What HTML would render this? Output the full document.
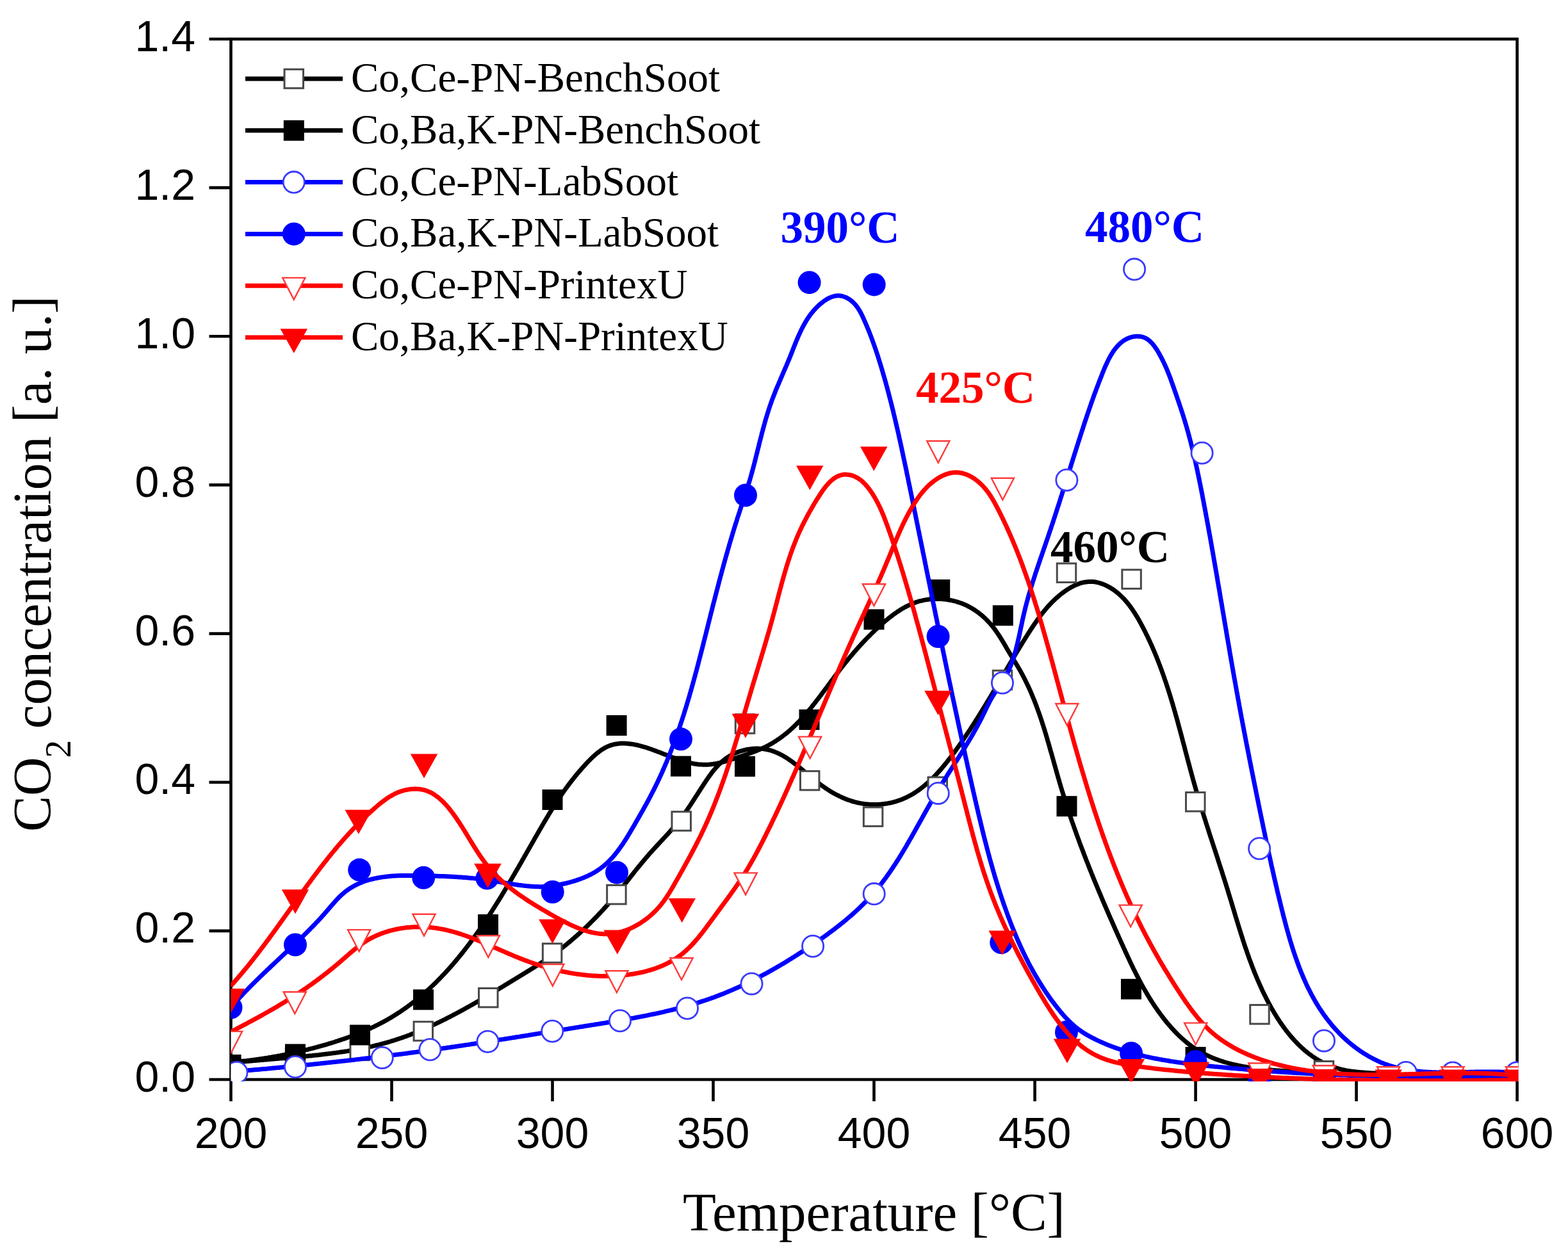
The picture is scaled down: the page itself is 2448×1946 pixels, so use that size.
<!DOCTYPE html>
<html><head><meta charset="utf-8"><title>CO2 concentration vs Temperature</title>
<style>html,body{margin:0;padding:0;background:#fff;} svg{display:block;}</style></head>
<body>
<svg xmlns="http://www.w3.org/2000/svg" width="2448" height="1946" viewBox="0 0 2448 1946">
<rect width="2448" height="1946" fill="#fff"/>
<defs><clipPath id="pc"><rect x="360.5" y="58" width="2010" height="1631"/></clipPath></defs>
<g stroke="#000" stroke-width="4.6" fill="none" stroke-linecap="butt">
<rect x="360.5" y="61.0" width="2008.1" height="1625.0"/>
<line x1="326.5" y1="1686.0" x2="360.5" y2="1686.0"/>
<line x1="326.5" y1="1453.9" x2="360.5" y2="1453.9"/>
<line x1="326.5" y1="1221.7" x2="360.5" y2="1221.7"/>
<line x1="326.5" y1="989.6" x2="360.5" y2="989.6"/>
<line x1="326.5" y1="757.4" x2="360.5" y2="757.4"/>
<line x1="326.5" y1="525.3" x2="360.5" y2="525.3"/>
<line x1="326.5" y1="293.1" x2="360.5" y2="293.1"/>
<line x1="326.5" y1="61.0" x2="360.5" y2="61.0"/>
<line x1="360.5" y1="1686.0" x2="360.5" y2="1720.0"/>
<line x1="611.5" y1="1686.0" x2="611.5" y2="1720.0"/>
<line x1="862.5" y1="1686.0" x2="862.5" y2="1720.0"/>
<line x1="1113.5" y1="1686.0" x2="1113.5" y2="1720.0"/>
<line x1="1364.5" y1="1686.0" x2="1364.5" y2="1720.0"/>
<line x1="1615.6" y1="1686.0" x2="1615.6" y2="1720.0"/>
<line x1="1866.6" y1="1686.0" x2="1866.6" y2="1720.0"/>
<line x1="2117.6" y1="1686.0" x2="2117.6" y2="1720.0"/>
<line x1="2368.6" y1="1686.0" x2="2368.6" y2="1720.0"/>
</g>
<g font-family="Liberation Sans, Arial, sans-serif" font-size="68" fill="#000">
<text x="305" y="1704.5" text-anchor="end">0.0</text>
<text x="305" y="1472.4" text-anchor="end">0.2</text>
<text x="305" y="1240.2" text-anchor="end">0.4</text>
<text x="305" y="1008.1" text-anchor="end">0.6</text>
<text x="305" y="775.9" text-anchor="end">0.8</text>
<text x="305" y="543.8" text-anchor="end">1.0</text>
<text x="305" y="311.6" text-anchor="end">1.2</text>
<text x="305" y="79.5" text-anchor="end">1.4</text>
<text x="360.5" y="1792.5" text-anchor="middle">200</text>
<text x="611.5" y="1792.5" text-anchor="middle">250</text>
<text x="862.5" y="1792.5" text-anchor="middle">300</text>
<text x="1113.5" y="1792.5" text-anchor="middle">350</text>
<text x="1364.5" y="1792.5" text-anchor="middle">400</text>
<text x="1615.6" y="1792.5" text-anchor="middle">450</text>
<text x="1866.6" y="1792.5" text-anchor="middle">500</text>
<text x="2117.6" y="1792.5" text-anchor="middle">550</text>
<text x="2368.6" y="1792.5" text-anchor="middle">600</text>
</g>
<g font-family="Liberation Serif, Times New Roman, serif" font-size="85" fill="#000">
<text x="1364.5" y="1922" text-anchor="middle">Temperature [°C]</text>
<text transform="translate(78.5,0) rotate(-90)" font-size="84"><tspan x="-1299" y="0">CO</tspan><tspan x="-1183.7" y="31" font-size="56">2</tspan><tspan x="-1159.3" y="0" xml:space="preserve"> concentration [a. u.]</tspan></text>
</g>
<g clip-path="url(#pc)">
<path d="M360.8,1660.2 L362.7,1660.0 L364.5,1659.8 L366.4,1659.6 L368.3,1659.4 L370.2,1659.2 L372.1,1659.0 L373.9,1658.8 L375.8,1658.6 L377.7,1658.4 L379.6,1658.2 L381.5,1658.0 L383.4,1657.8 L385.3,1657.6 L387.2,1657.4 L389.1,1657.3 L391.0,1657.1 L392.9,1656.9 L394.8,1656.7 L396.7,1656.6 L398.6,1656.4 L400.5,1656.2 L402.4,1656.0 L404.3,1655.9 L406.2,1655.7 L408.1,1655.5 L410.0,1655.4 L411.9,1655.2 L413.9,1655.1 L415.8,1654.9 L417.7,1654.7 L419.6,1654.6 L421.5,1654.4 L423.4,1654.3 L425.4,1654.1 L427.3,1653.9 L429.2,1653.8 L431.1,1653.6 L433.0,1653.5 L435.0,1653.3 L436.9,1653.1 L438.8,1653.0 L440.7,1652.8 L442.6,1652.7 L444.6,1652.5 L446.5,1652.3 L448.4,1652.2 L450.3,1652.0 L452.3,1651.9 L454.2,1651.7 L456.1,1651.5 L458.0,1651.4 L460.0,1651.2 L461.9,1651.0 L463.8,1650.9 L465.8,1650.7 L467.7,1650.5 L469.6,1650.3 L471.5,1650.2 L473.5,1650.0 L475.4,1649.8 L477.3,1649.6 L479.2,1649.4 L481.2,1649.2 L483.1,1649.0 L485.0,1648.9 L486.9,1648.7 L488.9,1648.5 L490.8,1648.3 L492.7,1648.1 L494.6,1647.9 L496.6,1647.7 L498.5,1647.4 L500.4,1647.2 L502.3,1647.0 L504.3,1646.8 L506.2,1646.6 L508.1,1646.3 L510.0,1646.1 L511.9,1645.9 L513.8,1645.6 L515.8,1645.4 L517.7,1645.1 L519.6,1644.9 L521.5,1644.6 L523.4,1644.4 L525.3,1644.1 L527.2,1643.9 L529.2,1643.6 L531.1,1643.3 L533.0,1643.0 L534.9,1642.7 L536.8,1642.5 L538.7,1642.2 L540.6,1641.9 L542.5,1641.6 L544.4,1641.2 L546.3,1640.9 L548.2,1640.6 L550.1,1640.3 L552.0,1640.0 L553.9,1639.6 L555.8,1639.3 L557.7,1638.9 L559.5,1638.6 L561.4,1638.2 L563.3,1637.8 L565.2,1637.5 L567.1,1637.1 L569.0,1636.7 L570.8,1636.3 L572.7,1635.9 L574.6,1635.5 L576.5,1635.1 L578.3,1634.7 L580.2,1634.3 L582.1,1633.8 L583.9,1633.4 L585.8,1633.0 L587.7,1632.5 L589.5,1632.0 L591.4,1631.6 L593.2,1631.1 L595.1,1630.6 L596.9,1630.1 L598.8,1629.6 L600.6,1629.1 L602.5,1628.6 L604.3,1628.1 L606.1,1627.6 L608.0,1627.0 L609.8,1626.5 L611.6,1625.9 L613.5,1625.4 L615.3,1624.8 L617.1,1624.2 L618.9,1623.6 L620.7,1623.0 L622.6,1622.4 L624.4,1621.8 L626.2,1621.2 L628.0,1620.6 L629.8,1619.9 L631.6,1619.3 L633.4,1618.7 L635.2,1618.0 L637.0,1617.3 L638.8,1616.7 L640.6,1616.0 L642.3,1615.3 L644.1,1614.6 L645.9,1613.9 L647.7,1613.2 L649.5,1612.5 L651.3,1611.8 L653.0,1611.0 L654.8,1610.3 L656.6,1609.6 L658.3,1608.8 L660.1,1608.1 L661.9,1607.3 L663.6,1606.5 L665.4,1605.8 L667.1,1605.0 L668.9,1604.2 L670.6,1603.4 L672.4,1602.6 L674.1,1601.8 L675.9,1601.0 L677.6,1600.2 L679.4,1599.4 L681.1,1598.6 L682.9,1597.7 L684.6,1596.9 L686.3,1596.1 L688.1,1595.2 L689.8,1594.4 L691.5,1593.5 L693.2,1592.7 L695.0,1591.8 L696.7,1590.9 L698.4,1590.0 L700.1,1589.2 L701.8,1588.3 L703.6,1587.4 L705.3,1586.5 L707.0,1585.6 L708.7,1584.7 L710.4,1583.8 L712.1,1582.9 L713.8,1582.0 L715.5,1581.1 L717.2,1580.2 L718.9,1579.2 L720.6,1578.3 L722.3,1577.4 L724.0,1576.5 L725.7,1575.5 L727.4,1574.6 L729.1,1573.6 L730.8,1572.7 L732.5,1571.7 L734.1,1570.8 L735.8,1569.8 L737.5,1568.9 L739.2,1567.9 L740.9,1567.0 L742.6,1566.0 L744.2,1565.0 L745.9,1564.1 L747.6,1563.1 L749.3,1562.1 L750.9,1561.1 L752.6,1560.2 L754.3,1559.2 L755.9,1558.2 L757.6,1557.2 L759.3,1556.2 L760.9,1555.2 L762.6,1554.2 L764.3,1553.3 L765.9,1552.3 L767.6,1551.3 L769.2,1550.3 L770.9,1549.3 L772.5,1548.3 L774.2,1547.3 L775.9,1546.3 L777.5,1545.3 L779.2,1544.3 L780.8,1543.3 L782.5,1542.3 L784.1,1541.3 L785.8,1540.3 L787.4,1539.3 L789.0,1538.3 L790.7,1537.3 L792.3,1536.3 L794.0,1535.2 L795.6,1534.2 L797.3,1533.2 L798.9,1532.2 L800.5,1531.2 L802.2,1530.2 L803.8,1529.2 L805.5,1528.2 L807.1,1527.2 L808.7,1526.2 L810.4,1525.2 L812.0,1524.2 L813.6,1523.2 L815.3,1522.2 L816.9,1521.2 L818.5,1520.2 L820.1,1519.2 L821.8,1518.2 L823.4,1517.2 L825.0,1516.2 L826.7,1515.2 L828.3,1514.2 L829.9,1513.2 L831.5,1512.2 L833.1,1511.2 L834.7,1510.2 L836.4,1509.2 L838.0,1508.1 L839.6,1507.1 L841.2,1506.1 L842.8,1505.1 L844.4,1504.0 L846.0,1503.0 L847.6,1502.0 L849.1,1500.9 L850.7,1499.9 L852.3,1498.8 L853.9,1497.7 L855.5,1496.6 L857.0,1495.6 L858.6,1494.5 L860.2,1493.4 L861.7,1492.3 L863.3,1491.2 L864.8,1490.1 L866.4,1488.9 L867.9,1487.8 L869.4,1486.7 L871.0,1485.5 L872.5,1484.4 L874.0,1483.2 L875.5,1482.0 L877.0,1480.8 L878.5,1479.7 L880.0,1478.5 L881.6,1477.3 L883.0,1476.1 L884.5,1474.9 L886.0,1473.7 L887.5,1472.4 L889.0,1471.2 L890.5,1470.0 L891.9,1468.7 L893.4,1467.5 L894.9,1466.2 L896.3,1465.0 L897.8,1463.7 L899.2,1462.4 L900.7,1461.2 L902.1,1459.9 L903.5,1458.6 L905.0,1457.3 L906.4,1456.0 L907.8,1454.7 L909.2,1453.4 L910.6,1452.0 L912.1,1450.7 L913.5,1449.4 L914.9,1448.1 L916.3,1446.7 L917.6,1445.4 L919.0,1444.0 L920.4,1442.7 L921.8,1441.3 L923.2,1439.9 L924.5,1438.6 L925.9,1437.2 L927.3,1435.8 L928.6,1434.4 L930.0,1433.1 L931.3,1431.7 L932.7,1430.3 L934.0,1428.9 L935.3,1427.5 L936.7,1426.0 L938.0,1424.6 L939.3,1423.2 L940.6,1421.8 L941.9,1420.4 L943.2,1418.9 L944.5,1417.5 L945.8,1416.1 L947.1,1414.6 L948.4,1413.2 L949.7,1411.7 L951.0,1410.3 L952.2,1408.8 L953.5,1407.3 L954.8,1405.9 L956.0,1404.4 L957.3,1402.9 L958.6,1401.5 L959.8,1400.0 L961.0,1398.5 L962.3,1397.0 L963.5,1395.5 L964.8,1394.0 L966.0,1392.6 L967.2,1391.1 L968.4,1389.6 L969.6,1388.1 L970.8,1386.6 L972.1,1385.1 L973.3,1383.6 L974.5,1382.1 L975.7,1380.5 L976.9,1379.0 L978.1,1377.5 L979.3,1376.0 L980.5,1374.5 L981.7,1373.0 L982.9,1371.5 L984.0,1370.0 L985.2,1368.5 L986.4,1367.0 L987.6,1365.5 L988.8,1364.0 L990.0,1362.4 L991.2,1360.9 L992.4,1359.4 L993.6,1357.9 L994.8,1356.4 L996.0,1354.9 L997.3,1353.4 L998.5,1352.0 L999.7,1350.5 L1000.9,1349.0 L1002.1,1347.5 L1003.4,1346.0 L1004.6,1344.5 L1005.8,1343.1 L1007.1,1341.6 L1008.3,1340.1 L1009.6,1338.7 L1010.8,1337.2 L1012.1,1335.7 L1013.3,1334.3 L1014.6,1332.8 L1015.9,1331.4 L1017.2,1330.0 L1018.5,1328.5 L1019.8,1327.1 L1021.1,1325.7 L1022.4,1324.3 L1023.7,1322.8 L1025.0,1321.4 L1026.3,1320.0 L1027.6,1318.6 L1028.9,1317.2 L1030.2,1315.8 L1031.5,1314.4 L1032.9,1313.0 L1034.2,1311.5 L1035.5,1310.1 L1036.8,1308.7 L1038.1,1307.3 L1039.4,1305.9 L1040.7,1304.5 L1042.0,1303.1 L1043.3,1301.7 L1044.6,1300.2 L1045.8,1298.8 L1047.1,1297.4 L1048.4,1296.0 L1049.6,1294.5 L1050.9,1293.1 L1052.1,1291.6 L1053.4,1290.2 L1054.6,1288.7 L1055.8,1287.3 L1057.0,1285.8 L1058.2,1284.4 L1059.4,1282.9 L1060.6,1281.4 L1061.8,1279.9 L1062.9,1278.4 L1064.1,1276.9 L1065.2,1275.4 L1066.3,1273.9 L1067.4,1272.4 L1068.5,1270.9 L1069.6,1269.3 L1070.7,1267.8 L1071.8,1266.3 L1072.9,1264.7 L1073.9,1263.1 L1075.0,1261.6 L1076.0,1260.0 L1077.1,1258.5 L1078.1,1256.9 L1079.2,1255.3 L1080.2,1253.7 L1081.2,1252.1 L1082.3,1250.5 L1083.3,1248.9 L1084.3,1247.3 L1085.3,1245.7 L1086.4,1244.1 L1087.4,1242.5 L1088.4,1240.9 L1089.5,1239.3 L1090.5,1237.7 L1091.5,1236.0 L1092.6,1234.4 L1093.6,1232.8 L1094.7,1231.2 L1095.7,1229.5 L1096.8,1227.9 L1097.8,1226.3 L1098.9,1224.6 L1100.0,1223.0 L1101.1,1221.4 L1102.2,1219.7 L1103.3,1218.1 L1104.4,1216.5 L1105.5,1214.8 L1106.6,1213.2 L1107.8,1211.6 L1109.0,1210.0 L1110.1,1208.4 L1111.3,1206.8 L1112.5,1205.3 L1113.8,1203.7 L1115.0,1202.2 L1116.3,1200.7 L1117.5,1199.2 L1118.8,1197.8 L1120.2,1196.3 L1121.5,1194.9 L1122.9,1193.5 L1124.3,1192.2 L1125.7,1190.8 L1127.1,1189.5 L1128.6,1188.3 L1130.0,1187.0 L1131.5,1185.9 L1133.1,1184.7 L1134.7,1183.6 L1136.2,1182.5 L1137.9,1181.5 L1139.5,1180.5 L1141.2,1179.5 L1142.9,1178.6 L1144.6,1177.7 L1146.3,1176.9 L1148.1,1176.1 L1149.9,1175.4 L1151.6,1174.7 L1153.4,1174.0 L1155.3,1173.4 L1157.1,1172.8 L1158.9,1172.3 L1160.8,1171.8 L1162.7,1171.3 L1164.5,1170.9 L1166.4,1170.5 L1168.3,1170.2 L1170.2,1169.9 L1172.1,1169.7 L1174.0,1169.5 L1175.9,1169.3 L1177.8,1169.2 L1179.7,1169.1 L1181.6,1169.1 L1183.5,1169.1 L1185.4,1169.2 L1187.3,1169.3 L1189.1,1169.4 L1191.0,1169.6 L1192.9,1169.9 L1194.7,1170.1 L1196.6,1170.5 L1198.4,1170.8 L1200.2,1171.3 L1202.0,1171.7 L1203.8,1172.2 L1205.5,1172.8 L1207.3,1173.4 L1209.0,1174.0 L1210.8,1174.7 L1212.5,1175.4 L1214.2,1176.2 L1215.9,1176.9 L1217.5,1177.8 L1219.2,1178.6 L1220.9,1179.5 L1222.5,1180.4 L1224.1,1181.4 L1225.8,1182.3 L1227.4,1183.3 L1229.0,1184.4 L1230.6,1185.4 L1232.2,1186.5 L1233.7,1187.6 L1235.3,1188.7 L1236.9,1189.8 L1238.5,1191.0 L1240.0,1192.2 L1241.6,1193.4 L1243.1,1194.6 L1244.7,1195.8 L1246.2,1197.0 L1247.8,1198.2 L1249.3,1199.5 L1250.8,1200.8 L1252.4,1202.0 L1253.9,1203.3 L1255.4,1204.6 L1257.0,1205.9 L1258.5,1207.1 L1260.0,1208.4 L1261.5,1209.7 L1263.1,1211.0 L1264.6,1212.3 L1266.1,1213.6 L1267.7,1214.8 L1269.2,1216.1 L1270.8,1217.4 L1272.3,1218.6 L1273.9,1219.8 L1275.4,1221.1 L1277.0,1222.3 L1278.6,1223.5 L1280.1,1224.7 L1281.7,1225.9 L1283.3,1227.0 L1284.9,1228.2 L1286.5,1229.3 L1288.1,1230.4 L1289.7,1231.5 L1291.4,1232.6 L1293.0,1233.6 L1294.6,1234.7 L1296.3,1235.7 L1297.9,1236.7 L1299.6,1237.7 L1301.2,1238.6 L1302.9,1239.6 L1304.6,1240.5 L1306.3,1241.4 L1308.0,1242.2 L1309.7,1243.1 L1311.4,1243.9 L1313.1,1244.7 L1314.8,1245.5 L1316.6,1246.3 L1318.3,1247.0 L1320.1,1247.7 L1321.8,1248.4 L1323.6,1249.1 L1325.4,1249.7 L1327.2,1250.3 L1328.9,1250.9 L1330.7,1251.5 L1332.6,1252.0 L1334.4,1252.5 L1336.2,1253.0 L1338.0,1253.4 L1339.9,1253.8 L1341.7,1254.2 L1343.6,1254.6 L1345.5,1254.9 L1347.4,1255.2 L1349.3,1255.5 L1351.2,1255.7 L1353.1,1255.9 L1355.0,1256.1 L1356.9,1256.2 L1358.8,1256.4 L1360.8,1256.4 L1362.7,1256.5 L1364.6,1256.5 L1366.6,1256.5 L1368.5,1256.5 L1370.5,1256.4 L1372.4,1256.3 L1374.4,1256.2 L1376.3,1256.0 L1378.2,1255.8 L1380.2,1255.6 L1382.1,1255.3 L1384.0,1255.0 L1385.9,1254.7 L1387.8,1254.3 L1389.7,1254.0 L1391.6,1253.6 L1393.4,1253.1 L1395.3,1252.6 L1397.1,1252.1 L1399.0,1251.6 L1400.8,1251.0 L1402.6,1250.4 L1404.4,1249.8 L1406.1,1249.2 L1407.9,1248.5 L1409.6,1247.8 L1411.4,1247.0 L1413.1,1246.3 L1414.8,1245.5 L1416.5,1244.6 L1418.1,1243.8 L1419.8,1242.9 L1421.4,1242.0 L1423.1,1241.1 L1424.7,1240.2 L1426.3,1239.2 L1427.9,1238.2 L1429.5,1237.2 L1431.1,1236.1 L1432.6,1235.1 L1434.2,1234.0 L1435.7,1232.9 L1437.2,1231.7 L1438.7,1230.6 L1440.2,1229.4 L1441.7,1228.2 L1443.2,1227.0 L1444.6,1225.8 L1446.1,1224.6 L1447.5,1223.3 L1449.0,1222.0 L1450.4,1220.7 L1451.8,1219.4 L1453.2,1218.1 L1454.6,1216.8 L1455.9,1215.4 L1457.3,1214.0 L1458.7,1212.7 L1460.0,1211.3 L1461.4,1209.8 L1462.7,1208.4 L1464.0,1207.0 L1465.3,1205.5 L1466.6,1204.1 L1467.9,1202.6 L1469.2,1201.1 L1470.5,1199.6 L1471.8,1198.1 L1473.0,1196.6 L1474.3,1195.1 L1475.5,1193.6 L1476.8,1192.1 L1478.0,1190.5 L1479.2,1189.0 L1480.4,1187.4 L1481.7,1185.9 L1482.9,1184.3 L1484.1,1182.7 L1485.2,1181.2 L1486.4,1179.6 L1487.6,1178.0 L1488.8,1176.4 L1489.9,1174.9 L1491.1,1173.3 L1492.3,1171.7 L1493.4,1170.1 L1494.5,1168.5 L1495.7,1166.9 L1496.8,1165.3 L1497.9,1163.7 L1499.1,1162.1 L1500.2,1160.5 L1501.3,1158.9 L1502.4,1157.3 L1503.5,1155.7 L1504.6,1154.1 L1505.7,1152.5 L1506.8,1150.9 L1507.9,1149.3 L1508.9,1147.7 L1510.0,1146.1 L1511.1,1144.5 L1512.1,1142.9 L1513.2,1141.3 L1514.3,1139.7 L1515.3,1138.1 L1516.4,1136.5 L1517.4,1134.9 L1518.5,1133.2 L1519.5,1131.6 L1520.5,1130.0 L1521.6,1128.4 L1522.6,1126.8 L1523.6,1125.2 L1524.6,1123.5 L1525.7,1121.9 L1526.7,1120.3 L1527.7,1118.7 L1528.7,1117.1 L1529.7,1115.4 L1530.7,1113.8 L1531.7,1112.2 L1532.7,1110.6 L1533.7,1108.9 L1534.7,1107.3 L1535.7,1105.7 L1536.7,1104.1 L1537.7,1102.4 L1538.7,1100.8 L1539.7,1099.2 L1540.6,1097.5 L1541.6,1095.9 L1542.6,1094.3 L1543.6,1092.7 L1544.6,1091.0 L1545.5,1089.4 L1546.5,1087.8 L1547.5,1086.1 L1548.5,1084.5 L1549.4,1082.9 L1550.4,1081.2 L1551.4,1079.6 L1552.3,1077.9 L1553.3,1076.3 L1554.3,1074.7 L1555.2,1073.0 L1556.2,1071.4 L1557.2,1069.8 L1558.1,1068.1 L1559.1,1066.5 L1560.0,1064.8 L1561.0,1063.2 L1562.0,1061.6 L1562.9,1059.9 L1563.9,1058.3 L1564.9,1056.6 L1565.8,1055.0 L1566.8,1053.3 L1567.7,1051.7 L1568.7,1050.1 L1569.7,1048.4 L1570.6,1046.8 L1571.6,1045.1 L1572.6,1043.5 L1573.5,1041.8 L1574.5,1040.2 L1575.5,1038.6 L1576.4,1036.9 L1577.4,1035.3 L1578.4,1033.6 L1579.4,1032.0 L1580.3,1030.3 L1581.3,1028.7 L1582.3,1027.0 L1583.3,1025.4 L1584.3,1023.8 L1585.3,1022.1 L1586.2,1020.5 L1587.2,1018.8 L1588.2,1017.2 L1589.2,1015.5 L1590.2,1013.9 L1591.2,1012.2 L1592.2,1010.6 L1593.2,1008.9 L1594.2,1007.3 L1595.2,1005.7 L1596.2,1004.0 L1597.2,1002.4 L1598.3,1000.7 L1599.3,999.1 L1600.3,997.4 L1601.3,995.8 L1602.4,994.1 L1603.4,992.5 L1604.4,990.9 L1605.5,989.2 L1606.5,987.6 L1607.6,985.9 L1608.6,984.3 L1609.7,982.7 L1610.8,981.0 L1611.8,979.4 L1612.9,977.8 L1614.0,976.2 L1615.1,974.6 L1616.2,973.0 L1617.3,971.4 L1618.4,969.8 L1619.6,968.2 L1620.7,966.6 L1621.8,965.0 L1623.0,963.4 L1624.2,961.9 L1625.3,960.3 L1626.5,958.8 L1627.7,957.3 L1629.0,955.7 L1630.2,954.2 L1631.4,952.7 L1632.7,951.2 L1633.9,949.8 L1635.2,948.3 L1636.5,946.8 L1637.8,945.4 L1639.1,944.0 L1640.5,942.6 L1641.8,941.2 L1643.2,939.8 L1644.6,938.4 L1646.0,937.1 L1647.4,935.7 L1648.9,934.4 L1650.3,933.1 L1651.8,931.8 L1653.3,930.5 L1654.8,929.3 L1656.3,928.0 L1657.9,926.8 L1659.5,925.6 L1661.1,924.4 L1662.7,923.3 L1664.3,922.2 L1665.9,921.1 L1667.6,920.0 L1669.3,919.0 L1670.9,918.0 L1672.6,917.0 L1674.4,916.1 L1676.1,915.2 L1677.8,914.4 L1679.6,913.6 L1681.3,912.9 L1683.1,912.2 L1684.9,911.5 L1686.7,910.9 L1688.4,910.4 L1690.2,909.9 L1692.1,909.5 L1693.9,909.2 L1695.7,908.9 L1697.5,908.7 L1699.3,908.5 L1701.1,908.4 L1703.0,908.4 L1704.8,908.5 L1706.6,908.6 L1708.4,908.8 L1710.3,909.0 L1712.1,909.4 L1713.9,909.8 L1715.7,910.2 L1717.5,910.8 L1719.3,911.3 L1721.1,912.0 L1722.8,912.6 L1724.6,913.4 L1726.3,914.2 L1728.0,915.0 L1729.7,915.9 L1731.4,916.8 L1733.1,917.7 L1734.7,918.7 L1736.4,919.8 L1738.0,920.8 L1739.5,921.9 L1741.1,923.1 L1742.6,924.2 L1744.1,925.4 L1745.6,926.7 L1747.0,927.9 L1748.4,929.2 L1749.8,930.5 L1751.2,931.8 L1752.6,933.2 L1753.9,934.5 L1755.2,935.9 L1756.5,937.4 L1757.8,938.8 L1759.0,940.3 L1760.2,941.7 L1761.5,943.3 L1762.6,944.8 L1763.8,946.3 L1765.0,947.9 L1766.1,949.4 L1767.2,951.0 L1768.3,952.6 L1769.4,954.3 L1770.5,955.9 L1771.6,957.5 L1772.6,959.2 L1773.6,960.9 L1774.7,962.5 L1775.7,964.2 L1776.7,965.9 L1777.7,967.6 L1778.6,969.3 L1779.6,971.1 L1780.5,972.8 L1781.5,974.5 L1782.4,976.3 L1783.3,978.0 L1784.2,979.7 L1785.1,981.5 L1786.0,983.2 L1786.9,985.0 L1787.8,986.7 L1788.7,988.5 L1789.5,990.2 L1790.4,992.0 L1791.3,993.7 L1792.1,995.5 L1792.9,997.3 L1793.8,999.0 L1794.6,1000.8 L1795.4,1002.5 L1796.2,1004.3 L1797.0,1006.1 L1797.8,1007.8 L1798.6,1009.6 L1799.4,1011.4 L1800.1,1013.2 L1800.9,1014.9 L1801.7,1016.7 L1802.4,1018.5 L1803.2,1020.3 L1803.9,1022.1 L1804.6,1023.9 L1805.4,1025.6 L1806.1,1027.4 L1806.8,1029.2 L1807.5,1031.0 L1808.2,1032.8 L1808.9,1034.6 L1809.6,1036.4 L1810.3,1038.2 L1811.0,1040.0 L1811.6,1041.8 L1812.3,1043.6 L1813.0,1045.4 L1813.6,1047.2 L1814.3,1049.0 L1814.9,1050.8 L1815.6,1052.6 L1816.2,1054.4 L1816.9,1056.3 L1817.5,1058.1 L1818.1,1059.9 L1818.7,1061.7 L1819.4,1063.5 L1820.0,1065.3 L1820.6,1067.1 L1821.2,1069.0 L1821.8,1070.8 L1822.4,1072.6 L1823.0,1074.4 L1823.6,1076.3 L1824.1,1078.1 L1824.7,1079.9 L1825.3,1081.7 L1825.9,1083.6 L1826.4,1085.4 L1827.0,1087.2 L1827.6,1089.0 L1828.1,1090.9 L1828.7,1092.7 L1829.2,1094.5 L1829.8,1096.4 L1830.3,1098.2 L1830.9,1100.0 L1831.4,1101.9 L1831.9,1103.7 L1832.5,1105.6 L1833.0,1107.4 L1833.5,1109.2 L1834.1,1111.1 L1834.6,1112.9 L1835.1,1114.8 L1835.6,1116.6 L1836.1,1118.4 L1836.7,1120.3 L1837.2,1122.1 L1837.7,1124.0 L1838.2,1125.8 L1838.7,1127.7 L1839.2,1129.5 L1839.7,1131.4 L1840.2,1133.2 L1840.7,1135.1 L1841.2,1136.9 L1841.7,1138.8 L1842.2,1140.6 L1842.7,1142.5 L1843.2,1144.3 L1843.7,1146.2 L1844.2,1148.0 L1844.7,1149.9 L1845.2,1151.7 L1845.7,1153.6 L1846.1,1155.4 L1846.6,1157.3 L1847.1,1159.1 L1847.6,1161.0 L1848.1,1162.8 L1848.6,1164.7 L1849.1,1166.5 L1849.6,1168.4 L1850.0,1170.2 L1850.5,1172.1 L1851.0,1173.9 L1851.5,1175.8 L1852.0,1177.7 L1852.5,1179.5 L1853.0,1181.4 L1853.5,1183.2 L1853.9,1185.1 L1854.4,1186.9 L1854.9,1188.8 L1855.4,1190.6 L1855.9,1192.5 L1856.4,1194.3 L1856.9,1196.2 L1857.4,1198.1 L1857.9,1199.9 L1858.4,1201.8 L1858.9,1203.6 L1859.4,1205.5 L1859.9,1207.3 L1860.4,1209.2 L1860.9,1211.0 L1861.4,1212.9 L1861.9,1214.7 L1862.4,1216.6 L1862.9,1218.4 L1863.4,1220.3 L1864.0,1222.1 L1864.5,1224.0 L1865.0,1225.8 L1865.5,1227.7 L1866.1,1229.5 L1866.6,1231.4 L1867.1,1233.2 L1867.6,1235.1 L1868.2,1236.9 L1868.7,1238.8 L1869.3,1240.6 L1869.8,1242.5 L1870.4,1244.3 L1870.9,1246.1 L1871.5,1248.0 L1872.0,1249.8 L1872.6,1251.7 L1873.1,1253.5 L1873.7,1255.4 L1874.2,1257.2 L1874.8,1259.0 L1875.4,1260.9 L1875.9,1262.7 L1876.5,1264.6 L1877.1,1266.4 L1877.6,1268.2 L1878.2,1270.1 L1878.8,1271.9 L1879.4,1273.8 L1879.9,1275.6 L1880.5,1277.4 L1881.1,1279.3 L1881.7,1281.1 L1882.3,1283.0 L1882.8,1284.8 L1883.4,1286.6 L1884.0,1288.5 L1884.6,1290.3 L1885.2,1292.1 L1885.8,1294.0 L1886.4,1295.8 L1887.0,1297.7 L1887.5,1299.5 L1888.1,1301.3 L1888.7,1303.2 L1889.3,1305.0 L1889.9,1306.8 L1890.5,1308.7 L1891.1,1310.5 L1891.7,1312.3 L1892.3,1314.2 L1892.9,1316.0 L1893.5,1317.8 L1894.1,1319.7 L1894.7,1321.5 L1895.3,1323.3 L1895.9,1325.2 L1896.5,1327.0 L1897.1,1328.9 L1897.7,1330.7 L1898.3,1332.5 L1898.9,1334.4 L1899.5,1336.2 L1900.1,1338.0 L1900.7,1339.9 L1901.3,1341.7 L1901.8,1343.5 L1902.4,1345.4 L1903.0,1347.2 L1903.6,1349.0 L1904.2,1350.9 L1904.8,1352.7 L1905.4,1354.5 L1906.0,1356.4 L1906.6,1358.2 L1907.2,1360.0 L1907.8,1361.9 L1908.4,1363.7 L1908.9,1365.6 L1909.5,1367.4 L1910.1,1369.2 L1910.7,1371.1 L1911.3,1372.9 L1911.9,1374.7 L1912.4,1376.6 L1913.0,1378.4 L1913.6,1380.2 L1914.2,1382.1 L1914.7,1383.9 L1915.3,1385.8 L1915.9,1387.6 L1916.5,1389.4 L1917.0,1391.3 L1917.6,1393.1 L1918.1,1395.0 L1918.7,1396.8 L1919.3,1398.6 L1919.8,1400.5 L1920.4,1402.3 L1920.9,1404.2 L1921.5,1406.0 L1922.1,1407.8 L1922.6,1409.7 L1923.2,1411.5 L1923.7,1413.4 L1924.3,1415.2 L1924.8,1417.0 L1925.4,1418.9 L1925.9,1420.7 L1926.5,1422.5 L1927.0,1424.4 L1927.6,1426.2 L1928.1,1428.1 L1928.7,1429.9 L1929.2,1431.7 L1929.8,1433.6 L1930.4,1435.4 L1930.9,1437.3 L1931.5,1439.1 L1932.0,1440.9 L1932.6,1442.8 L1933.2,1444.6 L1933.7,1446.4 L1934.3,1448.3 L1934.9,1450.1 L1935.4,1451.9 L1936.0,1453.8 L1936.6,1455.6 L1937.1,1457.4 L1937.7,1459.2 L1938.3,1461.1 L1938.9,1462.9 L1939.5,1464.7 L1940.0,1466.5 L1940.6,1468.4 L1941.2,1470.2 L1941.8,1472.0 L1942.4,1473.8 L1943.0,1475.7 L1943.6,1477.5 L1944.2,1479.3 L1944.8,1481.1 L1945.5,1482.9 L1946.1,1484.7 L1946.7,1486.5 L1947.3,1488.4 L1948.0,1490.2 L1948.6,1492.0 L1949.2,1493.8 L1949.9,1495.6 L1950.5,1497.4 L1951.2,1499.2 L1951.9,1501.0 L1952.5,1502.8 L1953.2,1504.6 L1953.9,1506.4 L1954.5,1508.2 L1955.2,1510.0 L1955.9,1511.8 L1956.6,1513.6 L1957.3,1515.4 L1958.0,1517.1 L1958.7,1518.9 L1959.4,1520.7 L1960.2,1522.5 L1960.9,1524.3 L1961.6,1526.0 L1962.4,1527.8 L1963.1,1529.6 L1963.9,1531.4 L1964.7,1533.1 L1965.4,1534.9 L1966.2,1536.7 L1967.0,1538.4 L1967.8,1540.2 L1968.6,1541.9 L1969.4,1543.7 L1970.2,1545.5 L1971.0,1547.2 L1971.9,1549.0 L1972.7,1550.7 L1973.5,1552.4 L1974.4,1554.2 L1975.3,1555.9 L1976.1,1557.7 L1977.0,1559.4 L1977.9,1561.1 L1978.8,1562.9 L1979.7,1564.6 L1980.6,1566.3 L1981.5,1568.0 L1982.5,1569.8 L1983.4,1571.5 L1984.4,1573.2 L1985.3,1574.9 L1986.3,1576.6 L1987.3,1578.3 L1988.3,1580.0 L1989.2,1581.6 L1990.3,1583.3 L1991.3,1585.0 L1992.3,1586.6 L1993.3,1588.3 L1994.4,1590.0 L1995.4,1591.6 L1996.5,1593.2 L1997.6,1594.9 L1998.7,1596.5 L1999.7,1598.1 L2000.9,1599.7 L2002.0,1601.3 L2003.1,1602.9 L2004.2,1604.4 L2005.4,1606.0 L2006.5,1607.5 L2007.7,1609.1 L2008.9,1610.6 L2010.1,1612.1 L2011.3,1613.6 L2012.5,1615.1 L2013.7,1616.6 L2014.9,1618.1 L2016.2,1619.6 L2017.4,1621.0 L2018.7,1622.4 L2020.0,1623.9 L2021.3,1625.3 L2022.6,1626.7 L2023.9,1628.0 L2025.2,1629.4 L2026.5,1630.8 L2027.9,1632.1 L2029.2,1633.4 L2030.6,1634.7 L2032.0,1636.0 L2033.4,1637.3 L2034.8,1638.5 L2036.2,1639.8 L2037.6,1641.0 L2039.1,1642.2 L2040.5,1643.4 L2042.0,1644.5 L2043.5,1645.7 L2045.0,1646.8 L2046.5,1647.9 L2048.0,1649.0 L2049.5,1650.1 L2051.1,1651.1 L2052.6,1652.2 L2054.2,1653.2 L2055.8,1654.2 L2057.4,1655.1 L2059.0,1656.1 L2060.6,1657.0 L2062.2,1657.9 L2063.9,1658.8 L2065.6,1659.7 L2067.2,1660.5 L2068.9,1661.3 L2070.6,1662.1 L2072.3,1662.9 L2074.1,1663.6 L2075.8,1664.3 L2077.6,1665.0 L2079.3,1665.7 L2081.1,1666.4 L2082.9,1667.0 L2084.7,1667.6 L2086.6,1668.2 L2088.4,1668.7 L2090.3,1669.2 L2092.1,1669.7 L2094.0,1670.2 L2095.9,1670.6 L2097.8,1671.0 L2099.8,1671.4 L2101.7,1671.8 L2103.7,1672.2 L2105.6,1672.5 L2107.6,1672.8 L2109.5,1673.1 L2111.5,1673.4 L2113.5,1673.6 L2115.5,1673.8 L2117.5,1674.1 L2119.5,1674.3 L2121.5,1674.5 L2123.5,1674.7 L2125.5,1674.8 L2127.6,1675.0 L2129.6,1675.1 L2131.6,1675.3 L2133.6,1675.4 L2135.6,1675.5 L2137.6,1675.7 L2139.6,1675.8 L2141.6,1675.9 L2143.6,1676.0 L2145.6,1676.1 L2147.6,1676.2 L2149.6,1676.3 L2151.6,1676.4 L2153.5,1676.5 L2155.5,1676.6 L2157.4,1676.8 L2159.4,1676.9 L2161.3,1677.0 L2163.2,1677.1 L2165.2,1677.2 L2167.1,1677.3 L2169.0,1677.4 L2170.9,1677.5 L2172.8,1677.6 L2174.7,1677.7 L2176.6,1677.8 L2178.5,1677.9 L2180.4,1678.0 L2182.3,1678.1 L2184.2,1678.2 L2186.1,1678.3 L2188.0,1678.4 L2189.9,1678.5 L2191.7,1678.6 L2193.6,1678.7 L2195.5,1678.8 L2197.4,1678.9 L2199.3,1679.0 L2201.1,1679.1 L2203.0,1679.2 L2204.9,1679.3 L2206.8,1679.4 L2208.6,1679.5 L2210.5,1679.6 L2212.4,1679.6 L2214.3,1679.7 L2216.2,1679.8 L2218.0,1679.9 L2219.9,1679.9 L2221.8,1680.0 L2223.7,1680.1 L2225.6,1680.1 L2227.5,1680.2 L2229.4,1680.3 L2231.3,1680.3 L2233.2,1680.4 L2235.1,1680.5 L2237.0,1680.5 L2238.9,1680.6 L2240.8,1680.6 L2242.8,1680.7 L2244.7,1680.7 L2246.6,1680.8 L2248.5,1680.8 L2250.4,1680.8 L2252.4,1680.9 L2254.3,1680.9 L2256.2,1681.0 L2258.1,1681.0 L2260.1,1681.0 L2262.0,1681.1 L2263.9,1681.1 L2265.9,1681.1 L2267.8,1681.2 L2269.7,1681.2 L2271.7,1681.2 L2273.6,1681.3 L2275.5,1681.3 L2277.5,1681.3 L2279.4,1681.3 L2281.3,1681.3 L2283.3,1681.4 L2285.2,1681.4 L2287.2,1681.4 L2289.1,1681.4 L2291.0,1681.4 L2293.0,1681.5 L2294.9,1681.5 L2296.9,1681.5 L2298.8,1681.5 L2300.7,1681.5 L2302.7,1681.5 L2304.6,1681.6 L2306.6,1681.6 L2308.5,1681.6 L2310.4,1681.6 L2312.4,1681.6 L2314.3,1681.6 L2316.3,1681.6 L2318.2,1681.6 L2320.1,1681.7 L2322.1,1681.7 L2324.0,1681.7 L2325.9,1681.7 L2327.9,1681.7 L2329.8,1681.7 L2331.7,1681.7 L2333.7,1681.7 L2335.6,1681.7 L2337.5,1681.7 L2339.4,1681.8 L2341.4,1681.8 L2343.3,1681.8 L2345.2,1681.8 L2347.1,1681.8 L2349.0,1681.8 L2351.0,1681.8 L2352.9,1681.8 L2354.8,1681.9 L2356.7,1681.9 L2358.6,1681.9 L2360.5,1681.9 L2362.4,1681.9 L2364.3,1681.9 L2366.2,1682.0 L2368.1,1682.0 L2370.0,1682.0" fill="none" stroke="#000000" stroke-width="7" stroke-linejoin="round"/>
<rect x="345.75" y="1653.25" width="29.5" height="29.5" fill="#fff" stroke="#484848" stroke-width="3.0"/>
<rect x="446.25" y="1637.25" width="29.5" height="29.5" fill="#fff" stroke="#484848" stroke-width="3.0"/>
<rect x="546.95" y="1626.15" width="29.5" height="29.5" fill="#fff" stroke="#484848" stroke-width="3.0"/>
<rect x="646.05" y="1595.75" width="29.5" height="29.5" fill="#fff" stroke="#484848" stroke-width="3.0"/>
<rect x="747.55" y="1543.45" width="29.5" height="29.5" fill="#fff" stroke="#484848" stroke-width="3.0"/>
<rect x="847.35" y="1473.75" width="29.5" height="29.5" fill="#fff" stroke="#484848" stroke-width="3.0"/>
<rect x="947.65" y="1382.45" width="29.5" height="29.5" fill="#fff" stroke="#484848" stroke-width="3.0"/>
<rect x="1048.95" y="1267.75" width="29.5" height="29.5" fill="#fff" stroke="#484848" stroke-width="3.0"/>
<rect x="1148.25" y="1115.75" width="29.5" height="29.5" fill="#fff" stroke="#484848" stroke-width="3.0"/>
<rect x="1249.45" y="1204.35" width="29.5" height="29.5" fill="#fff" stroke="#484848" stroke-width="3.0"/>
<rect x="1348.35" y="1260.85" width="29.5" height="29.5" fill="#fff" stroke="#484848" stroke-width="3.0"/>
<rect x="1449.05" y="1213.85" width="29.5" height="29.5" fill="#fff" stroke="#484848" stroke-width="3.0"/>
<rect x="1550.25" y="1047.25" width="29.5" height="29.5" fill="#fff" stroke="#484848" stroke-width="3.0"/>
<rect x="1650.25" y="879.95" width="29.5" height="29.5" fill="#fff" stroke="#484848" stroke-width="3.0"/>
<rect x="1751.85" y="889.85" width="29.5" height="29.5" fill="#fff" stroke="#484848" stroke-width="3.0"/>
<rect x="1851.55" y="1237.55" width="29.5" height="29.5" fill="#fff" stroke="#484848" stroke-width="3.0"/>
<rect x="1951.75" y="1569.55" width="29.5" height="29.5" fill="#fff" stroke="#484848" stroke-width="3.0"/>
<rect x="2052.25" y="1657.55" width="29.5" height="29.5" fill="#fff" stroke="#484848" stroke-width="3.0"/>
<rect x="2152.95" y="1671.25" width="29.5" height="29.5" fill="#fff" stroke="#484848" stroke-width="3.0"/>
<rect x="2253.35" y="1673.25" width="29.5" height="29.5" fill="#fff" stroke="#484848" stroke-width="3.0"/>
<rect x="2353.75" y="1673.25" width="29.5" height="29.5" fill="#fff" stroke="#484848" stroke-width="3.0"/>
<path d="M360.3,1659.1 L362.2,1658.9 L364.1,1658.8 L366.0,1658.6 L367.9,1658.4 L369.8,1658.2 L371.7,1658.1 L373.6,1657.9 L375.5,1657.7 L377.4,1657.5 L379.3,1657.3 L381.1,1657.1 L383.0,1656.9 L384.9,1656.7 L386.7,1656.4 L388.6,1656.2 L390.4,1656.0 L392.3,1655.8 L394.1,1655.5 L396.0,1655.3 L397.8,1655.0 L399.6,1654.8 L401.4,1654.5 L403.3,1654.3 L405.1,1654.0 L406.9,1653.7 L408.7,1653.5 L410.5,1653.2 L412.3,1652.9 L414.2,1652.6 L416.0,1652.4 L417.8,1652.1 L419.6,1651.8 L421.4,1651.5 L423.2,1651.2 L424.9,1650.8 L426.7,1650.5 L428.5,1650.2 L430.3,1649.9 L432.1,1649.6 L433.9,1649.2 L435.7,1648.9 L437.5,1648.6 L439.3,1648.2 L441.0,1647.9 L442.8,1647.5 L444.6,1647.2 L446.4,1646.8 L448.2,1646.4 L450.0,1646.1 L451.7,1645.7 L453.5,1645.3 L455.3,1644.9 L457.1,1644.5 L458.9,1644.1 L460.7,1643.7 L462.4,1643.3 L464.2,1642.9 L466.0,1642.5 L467.8,1642.1 L469.6,1641.7 L471.4,1641.3 L473.2,1640.8 L475.0,1640.4 L476.8,1640.0 L478.6,1639.5 L480.4,1639.1 L482.2,1638.6 L484.0,1638.2 L485.8,1637.7 L487.6,1637.3 L489.4,1636.8 L491.2,1636.3 L493.0,1635.8 L494.8,1635.4 L496.6,1634.9 L498.4,1634.4 L500.2,1633.9 L502.0,1633.4 L503.8,1632.9 L505.7,1632.3 L507.5,1631.8 L509.3,1631.3 L511.1,1630.8 L512.9,1630.2 L514.7,1629.7 L516.5,1629.1 L518.3,1628.6 L520.1,1628.0 L521.9,1627.5 L523.7,1626.9 L525.5,1626.3 L527.3,1625.7 L529.1,1625.1 L530.9,1624.5 L532.7,1623.9 L534.5,1623.3 L536.3,1622.7 L538.1,1622.1 L539.9,1621.5 L541.7,1620.8 L543.4,1620.2 L545.2,1619.6 L547.0,1618.9 L548.8,1618.2 L550.5,1617.6 L552.3,1616.9 L554.1,1616.2 L555.8,1615.5 L557.6,1614.8 L559.4,1614.1 L561.1,1613.4 L562.8,1612.7 L564.6,1612.0 L566.3,1611.3 L568.1,1610.5 L569.8,1609.8 L571.5,1609.0 L573.2,1608.3 L575.0,1607.5 L576.7,1606.7 L578.4,1606.0 L580.1,1605.2 L581.8,1604.4 L583.5,1603.6 L585.1,1602.8 L586.8,1601.9 L588.5,1601.1 L590.2,1600.3 L591.8,1599.4 L593.5,1598.6 L595.1,1597.7 L596.8,1596.8 L598.4,1596.0 L600.0,1595.1 L601.7,1594.2 L603.3,1593.3 L604.9,1592.4 L606.5,1591.5 L608.1,1590.5 L609.7,1589.6 L611.3,1588.7 L612.8,1587.7 L614.4,1586.7 L616.0,1585.8 L617.5,1584.8 L619.1,1583.8 L620.6,1582.8 L622.2,1581.8 L623.7,1580.8 L625.2,1579.8 L626.7,1578.8 L628.3,1577.7 L629.8,1576.7 L631.3,1575.7 L632.8,1574.6 L634.3,1573.5 L635.7,1572.5 L637.2,1571.4 L638.7,1570.3 L640.2,1569.2 L641.6,1568.1 L643.1,1567.0 L644.5,1565.9 L646.0,1564.8 L647.4,1563.7 L648.8,1562.5 L650.2,1561.4 L651.7,1560.3 L653.1,1559.1 L654.5,1557.9 L655.9,1556.8 L657.3,1555.6 L658.7,1554.4 L660.1,1553.2 L661.4,1552.0 L662.8,1550.8 L664.2,1549.6 L665.5,1548.4 L666.9,1547.2 L668.3,1546.0 L669.6,1544.7 L670.9,1543.5 L672.3,1542.3 L673.6,1541.0 L674.9,1539.8 L676.3,1538.5 L677.6,1537.2 L678.9,1536.0 L680.2,1534.7 L681.5,1533.4 L682.8,1532.1 L684.1,1530.8 L685.4,1529.5 L686.7,1528.2 L687.9,1526.9 L689.2,1525.6 L690.5,1524.2 L691.7,1522.9 L693.0,1521.6 L694.2,1520.2 L695.5,1518.9 L696.7,1517.5 L698.0,1516.2 L699.2,1514.8 L700.4,1513.5 L701.7,1512.1 L702.9,1510.7 L704.1,1509.3 L705.3,1508.0 L706.5,1506.6 L707.7,1505.2 L708.9,1503.8 L710.1,1502.4 L711.3,1501.0 L712.5,1499.5 L713.7,1498.1 L714.9,1496.7 L716.0,1495.3 L717.2,1493.8 L718.4,1492.4 L719.5,1491.0 L720.7,1489.5 L721.9,1488.1 L723.0,1486.6 L724.1,1485.2 L725.3,1483.7 L726.4,1482.2 L727.6,1480.8 L728.7,1479.3 L729.8,1477.8 L730.9,1476.4 L732.1,1474.9 L733.2,1473.4 L734.3,1471.9 L735.4,1470.4 L736.5,1468.9 L737.6,1467.4 L738.7,1465.9 L739.8,1464.4 L740.9,1462.9 L742.0,1461.4 L743.1,1459.8 L744.2,1458.3 L745.2,1456.8 L746.3,1455.3 L747.4,1453.7 L748.5,1452.2 L749.5,1450.7 L750.6,1449.1 L751.6,1447.6 L752.7,1446.1 L753.8,1444.5 L754.8,1443.0 L755.9,1441.4 L756.9,1439.8 L757.9,1438.3 L759.0,1436.7 L760.0,1435.2 L761.0,1433.6 L762.1,1432.0 L763.1,1430.5 L764.1,1428.9 L765.2,1427.3 L766.2,1425.7 L767.2,1424.2 L768.2,1422.6 L769.2,1421.0 L770.2,1419.4 L771.2,1417.8 L772.2,1416.3 L773.2,1414.7 L774.2,1413.1 L775.2,1411.5 L776.2,1409.9 L777.2,1408.3 L778.2,1406.7 L779.2,1405.1 L780.2,1403.5 L781.2,1401.9 L782.2,1400.3 L783.1,1398.7 L784.1,1397.1 L785.1,1395.5 L786.1,1393.9 L787.0,1392.3 L788.0,1390.6 L789.0,1389.0 L789.9,1387.4 L790.9,1385.8 L791.9,1384.2 L792.8,1382.6 L793.8,1381.0 L794.7,1379.3 L795.7,1377.7 L796.7,1376.1 L797.6,1374.5 L798.6,1372.9 L799.5,1371.3 L800.5,1369.6 L801.4,1368.0 L802.3,1366.4 L803.3,1364.8 L804.2,1363.2 L805.2,1361.5 L806.1,1359.9 L807.0,1358.3 L808.0,1356.7 L808.9,1355.1 L809.9,1353.4 L810.8,1351.8 L811.7,1350.2 L812.6,1348.6 L813.6,1347.0 L814.5,1345.3 L815.4,1343.7 L816.4,1342.1 L817.3,1340.5 L818.2,1338.9 L819.1,1337.2 L820.1,1335.6 L821.0,1334.0 L821.9,1332.4 L822.8,1330.8 L823.7,1329.2 L824.7,1327.6 L825.6,1325.9 L826.5,1324.3 L827.4,1322.7 L828.3,1321.1 L829.2,1319.5 L830.2,1317.9 L831.1,1316.3 L832.0,1314.7 L832.9,1313.1 L833.8,1311.5 L834.7,1309.9 L835.6,1308.3 L836.5,1306.7 L837.5,1305.1 L838.4,1303.5 L839.3,1301.9 L840.2,1300.3 L841.1,1298.7 L842.0,1297.1 L842.9,1295.6 L843.9,1294.0 L844.8,1292.4 L845.7,1290.8 L846.6,1289.2 L847.5,1287.7 L848.5,1286.1 L849.4,1284.5 L850.3,1282.9 L851.2,1281.4 L852.2,1279.8 L853.1,1278.2 L854.0,1276.7 L855.0,1275.1 L855.9,1273.6 L856.8,1272.0 L857.8,1270.4 L858.7,1268.9 L859.7,1267.3 L860.6,1265.8 L861.6,1264.2 L862.6,1262.7 L863.5,1261.2 L864.5,1259.6 L865.5,1258.1 L866.5,1256.6 L867.4,1255.0 L868.4,1253.5 L869.4,1252.0 L870.4,1250.4 L871.4,1248.9 L872.4,1247.4 L873.5,1245.9 L874.5,1244.4 L875.5,1242.8 L876.5,1241.3 L877.6,1239.8 L878.6,1238.3 L879.7,1236.8 L880.7,1235.3 L881.8,1233.8 L882.8,1232.3 L883.9,1230.8 L885.0,1229.4 L886.1,1227.9 L887.2,1226.4 L888.3,1224.9 L889.4,1223.4 L890.5,1222.0 L891.7,1220.5 L892.8,1219.0 L893.9,1217.6 L895.1,1216.1 L896.3,1214.6 L897.4,1213.2 L898.6,1211.7 L899.8,1210.3 L901.0,1208.8 L902.2,1207.4 L903.4,1206.0 L904.6,1204.5 L905.9,1203.1 L907.1,1201.7 L908.4,1200.2 L909.6,1198.8 L910.9,1197.4 L912.2,1196.0 L913.5,1194.6 L914.8,1193.1 L916.1,1191.7 L917.4,1190.3 L918.8,1188.9 L920.1,1187.6 L921.5,1186.2 L922.8,1184.8 L924.2,1183.5 L925.6,1182.2 L927.0,1180.9 L928.5,1179.6 L929.9,1178.3 L931.3,1177.1 L932.8,1175.9 L934.3,1174.7 L935.8,1173.6 L937.3,1172.5 L938.8,1171.4 L940.3,1170.4 L941.9,1169.5 L943.4,1168.5 L945.0,1167.7 L946.6,1166.8 L948.2,1166.1 L949.8,1165.3 L951.5,1164.7 L953.1,1164.1 L954.8,1163.5 L956.5,1163.1 L958.2,1162.6 L959.9,1162.3 L961.6,1161.9 L963.3,1161.7 L965.1,1161.4 L966.8,1161.3 L968.6,1161.1 L970.4,1161.1 L972.2,1161.0 L973.9,1161.0 L975.7,1161.1 L977.5,1161.2 L979.4,1161.3 L981.2,1161.5 L983.0,1161.7 L984.8,1161.9 L986.6,1162.1 L988.5,1162.4 L990.3,1162.8 L992.1,1163.1 L993.9,1163.5 L995.8,1163.9 L997.6,1164.4 L999.4,1164.8 L1001.2,1165.3 L1003.0,1165.8 L1004.8,1166.3 L1006.6,1166.9 L1008.5,1167.4 L1010.3,1168.0 L1012.1,1168.6 L1013.9,1169.2 L1015.6,1169.8 L1017.4,1170.4 L1019.2,1171.1 L1021.0,1171.7 L1022.8,1172.4 L1024.6,1173.1 L1026.4,1173.7 L1028.1,1174.4 L1029.9,1175.1 L1031.7,1175.8 L1033.5,1176.5 L1035.3,1177.2 L1037.0,1177.9 L1038.8,1178.6 L1040.6,1179.3 L1042.3,1180.0 L1044.1,1180.7 L1045.9,1181.3 L1047.6,1182.0 L1049.4,1182.7 L1051.2,1183.3 L1053.0,1184.0 L1054.7,1184.6 L1056.5,1185.3 L1058.3,1185.9 L1060.0,1186.5 L1061.8,1187.1 L1063.6,1187.7 L1065.3,1188.2 L1067.1,1188.8 L1068.9,1189.3 L1070.6,1189.8 L1072.4,1190.3 L1074.2,1190.7 L1075.9,1191.2 L1077.7,1191.6 L1079.5,1192.0 L1081.3,1192.3 L1083.0,1192.7 L1084.8,1193.0 L1086.6,1193.2 L1088.4,1193.5 L1090.2,1193.7 L1091.9,1193.9 L1093.7,1194.0 L1095.5,1194.1 L1097.3,1194.2 L1099.1,1194.3 L1100.9,1194.3 L1102.7,1194.2 L1104.5,1194.2 L1106.3,1194.1 L1108.1,1193.9 L1109.9,1193.7 L1111.7,1193.5 L1113.5,1193.3 L1115.3,1193.0 L1117.1,1192.7 L1118.9,1192.4 L1120.7,1192.0 L1122.5,1191.6 L1124.3,1191.2 L1126.1,1190.8 L1127.9,1190.3 L1129.7,1189.9 L1131.5,1189.4 L1133.3,1188.8 L1135.0,1188.3 L1136.8,1187.8 L1138.6,1187.2 L1140.4,1186.6 L1142.2,1186.0 L1144.0,1185.5 L1145.7,1184.9 L1147.5,1184.3 L1149.3,1183.7 L1151.1,1183.1 L1152.9,1182.5 L1154.7,1181.9 L1156.5,1181.3 L1158.3,1180.7 L1160.1,1180.1 L1161.9,1179.5 L1163.7,1178.9 L1165.5,1178.3 L1167.3,1177.7 L1169.1,1177.0 L1170.9,1176.4 L1172.7,1175.7 L1174.5,1175.1 L1176.3,1174.4 L1178.1,1173.7 L1179.8,1173.1 L1181.6,1172.4 L1183.3,1171.6 L1185.1,1170.9 L1186.8,1170.2 L1188.5,1169.4 L1190.2,1168.7 L1191.9,1167.9 L1193.6,1167.1 L1195.3,1166.3 L1196.9,1165.5 L1198.6,1164.6 L1200.2,1163.8 L1201.8,1162.9 L1203.4,1162.0 L1205.0,1161.1 L1206.6,1160.1 L1208.2,1159.2 L1209.7,1158.2 L1211.3,1157.2 L1212.8,1156.2 L1214.3,1155.2 L1215.8,1154.2 L1217.3,1153.2 L1218.8,1152.1 L1220.2,1151.0 L1221.7,1149.9 L1223.1,1148.8 L1224.6,1147.7 L1226.0,1146.6 L1227.4,1145.5 L1228.8,1144.3 L1230.2,1143.1 L1231.5,1142.0 L1232.9,1140.8 L1234.3,1139.6 L1235.6,1138.3 L1237.0,1137.1 L1238.3,1135.9 L1239.6,1134.6 L1240.9,1133.4 L1242.2,1132.1 L1243.5,1130.8 L1244.8,1129.5 L1246.1,1128.2 L1247.3,1126.9 L1248.6,1125.6 L1249.9,1124.2 L1251.1,1122.9 L1252.3,1121.5 L1253.6,1120.2 L1254.8,1118.8 L1256.0,1117.4 L1257.2,1116.0 L1258.4,1114.7 L1259.6,1113.3 L1260.8,1111.8 L1262.0,1110.4 L1263.2,1109.0 L1264.4,1107.6 L1265.6,1106.2 L1266.7,1104.7 L1267.9,1103.3 L1269.1,1101.8 L1270.2,1100.4 L1271.4,1098.9 L1272.5,1097.4 L1273.7,1096.0 L1274.8,1094.5 L1275.9,1093.0 L1277.1,1091.5 L1278.2,1090.1 L1279.3,1088.6 L1280.5,1087.1 L1281.6,1085.6 L1282.7,1084.1 L1283.8,1082.6 L1285.0,1081.1 L1286.1,1079.6 L1287.2,1078.1 L1288.3,1076.6 L1289.4,1075.1 L1290.6,1073.6 L1291.7,1072.1 L1292.8,1070.6 L1293.9,1069.1 L1295.0,1067.6 L1296.1,1066.0 L1297.2,1064.5 L1298.4,1063.0 L1299.5,1061.5 L1300.6,1060.0 L1301.7,1058.5 L1302.8,1057.0 L1303.9,1055.5 L1305.1,1054.0 L1306.2,1052.5 L1307.3,1051.0 L1308.5,1049.6 L1309.6,1048.1 L1310.7,1046.6 L1311.9,1045.1 L1313.0,1043.7 L1314.1,1042.2 L1315.3,1040.7 L1316.4,1039.3 L1317.6,1037.8 L1318.8,1036.3 L1319.9,1034.9 L1321.1,1033.5 L1322.3,1032.0 L1323.4,1030.6 L1324.6,1029.1 L1325.8,1027.7 L1327.0,1026.3 L1328.2,1024.9 L1329.4,1023.5 L1330.6,1022.1 L1331.8,1020.6 L1333.0,1019.2 L1334.2,1017.9 L1335.4,1016.5 L1336.6,1015.1 L1337.8,1013.7 L1339.1,1012.3 L1340.3,1010.9 L1341.5,1009.6 L1342.8,1008.2 L1344.0,1006.8 L1345.3,1005.5 L1346.5,1004.1 L1347.8,1002.8 L1349.1,1001.4 L1350.3,1000.1 L1351.6,998.8 L1352.9,997.4 L1354.2,996.1 L1355.5,994.8 L1356.8,993.5 L1358.1,992.2 L1359.4,990.9 L1360.7,989.6 L1362.0,988.3 L1363.4,987.0 L1364.7,985.7 L1366.0,984.4 L1367.4,983.2 L1368.7,981.9 L1370.1,980.6 L1371.5,979.4 L1372.8,978.1 L1374.2,976.9 L1375.6,975.6 L1377.0,974.4 L1378.4,973.2 L1379.8,972.0 L1381.2,970.7 L1382.6,969.5 L1384.0,968.3 L1385.5,967.2 L1386.9,966.0 L1388.4,964.8 L1389.8,963.7 L1391.3,962.5 L1392.8,961.4 L1394.3,960.3 L1395.8,959.2 L1397.3,958.1 L1398.8,957.1 L1400.3,956.0 L1401.8,955.0 L1403.4,954.0 L1404.9,953.0 L1406.5,952.0 L1408.0,951.1 L1409.6,950.1 L1411.2,949.2 L1412.8,948.3 L1414.4,947.5 L1416.1,946.7 L1417.7,945.8 L1419.3,945.1 L1421.0,944.3 L1422.7,943.6 L1424.4,942.8 L1426.0,942.2 L1427.8,941.5 L1429.5,940.9 L1431.2,940.3 L1432.9,939.7 L1434.7,939.2 L1436.5,938.7 L1438.3,938.3 L1440.1,937.8 L1441.9,937.4 L1443.7,937.1 L1445.5,936.7 L1447.4,936.5 L1449.2,936.2 L1451.1,936.0 L1453.0,935.8 L1454.9,935.6 L1456.8,935.5 L1458.7,935.4 L1460.6,935.4 L1462.5,935.4 L1464.4,935.4 L1466.3,935.4 L1468.2,935.5 L1470.1,935.6 L1472.0,935.8 L1473.9,935.9 L1475.8,936.1 L1477.7,936.4 L1479.6,936.7 L1481.5,937.0 L1483.4,937.3 L1485.3,937.7 L1487.1,938.1 L1489.0,938.5 L1490.8,939.0 L1492.6,939.5 L1494.5,940.0 L1496.3,940.6 L1498.0,941.2 L1499.8,941.8 L1501.6,942.4 L1503.3,943.1 L1505.0,943.8 L1506.7,944.6 L1508.4,945.3 L1510.1,946.1 L1511.7,947.0 L1513.3,947.8 L1514.9,948.7 L1516.5,949.6 L1518.1,950.5 L1519.7,951.5 L1521.2,952.5 L1522.7,953.5 L1524.2,954.5 L1525.7,955.6 L1527.2,956.6 L1528.6,957.7 L1530.1,958.9 L1531.5,960.0 L1532.9,961.2 L1534.3,962.4 L1535.6,963.6 L1537.0,964.8 L1538.3,966.1 L1539.6,967.4 L1540.9,968.7 L1542.2,970.0 L1543.4,971.3 L1544.7,972.7 L1545.9,974.0 L1547.1,975.4 L1548.3,976.8 L1549.4,978.2 L1550.6,979.7 L1551.7,981.1 L1552.9,982.6 L1554.0,984.1 L1555.0,985.6 L1556.1,987.1 L1557.1,988.6 L1558.2,990.2 L1559.2,991.7 L1560.2,993.3 L1561.2,994.8 L1562.2,996.4 L1563.2,998.0 L1564.1,999.6 L1565.1,1001.2 L1566.1,1002.8 L1567.0,1004.4 L1568.0,1006.0 L1568.9,1007.6 L1569.9,1009.2 L1570.8,1010.8 L1571.7,1012.5 L1572.7,1014.1 L1573.6,1015.7 L1574.6,1017.3 L1575.5,1018.9 L1576.5,1020.5 L1577.5,1022.1 L1578.5,1023.7 L1579.4,1025.3 L1580.4,1026.9 L1581.4,1028.5 L1582.4,1030.1 L1583.4,1031.7 L1584.3,1033.3 L1585.3,1034.9 L1586.3,1036.5 L1587.2,1038.1 L1588.2,1039.7 L1589.2,1041.3 L1590.1,1042.9 L1591.0,1044.5 L1592.0,1046.1 L1592.9,1047.7 L1593.8,1049.3 L1594.7,1051.0 L1595.6,1052.6 L1596.5,1054.2 L1597.3,1055.8 L1598.2,1057.5 L1599.0,1059.1 L1599.9,1060.8 L1600.7,1062.4 L1601.5,1064.1 L1602.3,1065.7 L1603.1,1067.4 L1603.9,1069.1 L1604.7,1070.7 L1605.5,1072.4 L1606.3,1074.1 L1607.0,1075.8 L1607.8,1077.4 L1608.5,1079.1 L1609.3,1080.8 L1610.0,1082.5 L1610.7,1084.2 L1611.4,1085.9 L1612.1,1087.6 L1612.8,1089.3 L1613.5,1091.0 L1614.2,1092.7 L1614.9,1094.4 L1615.6,1096.1 L1616.2,1097.9 L1616.9,1099.6 L1617.6,1101.3 L1618.2,1103.0 L1618.8,1104.7 L1619.5,1106.5 L1620.1,1108.2 L1620.7,1109.9 L1621.4,1111.7 L1622.0,1113.4 L1622.6,1115.2 L1623.2,1116.9 L1623.8,1118.7 L1624.4,1120.4 L1625.0,1122.1 L1625.6,1123.9 L1626.1,1125.7 L1626.7,1127.4 L1627.3,1129.2 L1627.8,1130.9 L1628.4,1132.7 L1629.0,1134.5 L1629.5,1136.2 L1630.1,1138.0 L1630.6,1139.7 L1631.2,1141.5 L1631.7,1143.3 L1632.3,1145.1 L1632.8,1146.8 L1633.3,1148.6 L1633.9,1150.4 L1634.4,1152.2 L1634.9,1153.9 L1635.4,1155.7 L1635.9,1157.5 L1636.5,1159.3 L1637.0,1161.1 L1637.5,1162.8 L1638.0,1164.6 L1638.5,1166.4 L1639.0,1168.2 L1639.5,1170.0 L1640.0,1171.8 L1640.5,1173.6 L1641.1,1175.3 L1641.6,1177.1 L1642.1,1178.9 L1642.6,1180.7 L1643.1,1182.5 L1643.6,1184.3 L1644.1,1186.1 L1644.6,1187.9 L1645.1,1189.7 L1645.6,1191.4 L1646.1,1193.2 L1646.6,1195.0 L1647.1,1196.8 L1647.6,1198.6 L1648.1,1200.4 L1648.6,1202.2 L1649.1,1204.0 L1649.6,1205.8 L1650.1,1207.6 L1650.6,1209.4 L1651.1,1211.1 L1651.6,1212.9 L1652.1,1214.7 L1652.7,1216.5 L1653.2,1218.3 L1653.7,1220.1 L1654.2,1221.9 L1654.7,1223.6 L1655.3,1225.4 L1655.8,1227.2 L1656.3,1229.0 L1656.9,1230.8 L1657.4,1232.6 L1657.9,1234.3 L1658.5,1236.1 L1659.0,1237.9 L1659.6,1239.7 L1660.1,1241.4 L1660.7,1243.2 L1661.2,1245.0 L1661.8,1246.8 L1662.3,1248.5 L1662.9,1250.3 L1663.5,1252.1 L1664.0,1253.8 L1664.6,1255.6 L1665.2,1257.4 L1665.7,1259.2 L1666.3,1260.9 L1666.9,1262.7 L1667.5,1264.5 L1668.1,1266.2 L1668.7,1268.0 L1669.2,1269.7 L1669.8,1271.5 L1670.4,1273.3 L1671.0,1275.0 L1671.6,1276.8 L1672.2,1278.5 L1672.8,1280.3 L1673.4,1282.1 L1674.0,1283.8 L1674.6,1285.6 L1675.2,1287.3 L1675.9,1289.1 L1676.5,1290.8 L1677.1,1292.6 L1677.7,1294.3 L1678.3,1296.1 L1679.0,1297.8 L1679.6,1299.6 L1680.2,1301.3 L1680.8,1303.1 L1681.5,1304.8 L1682.1,1306.6 L1682.7,1308.3 L1683.4,1310.0 L1684.0,1311.8 L1684.7,1313.5 L1685.3,1315.3 L1685.9,1317.0 L1686.6,1318.8 L1687.2,1320.5 L1687.9,1322.2 L1688.5,1324.0 L1689.2,1325.7 L1689.9,1327.4 L1690.5,1329.2 L1691.2,1330.9 L1691.8,1332.7 L1692.5,1334.4 L1693.2,1336.1 L1693.8,1337.8 L1694.5,1339.6 L1695.2,1341.3 L1695.8,1343.0 L1696.5,1344.8 L1697.2,1346.5 L1697.9,1348.2 L1698.6,1350.0 L1699.2,1351.7 L1699.9,1353.4 L1700.6,1355.1 L1701.3,1356.9 L1702.0,1358.6 L1702.7,1360.3 L1703.4,1362.0 L1704.0,1363.7 L1704.7,1365.5 L1705.4,1367.2 L1706.1,1368.9 L1706.8,1370.6 L1707.5,1372.3 L1708.2,1374.1 L1708.9,1375.8 L1709.6,1377.5 L1710.3,1379.2 L1711.0,1380.9 L1711.8,1382.6 L1712.5,1384.3 L1713.2,1386.1 L1713.9,1387.8 L1714.6,1389.5 L1715.3,1391.2 L1716.0,1392.9 L1716.7,1394.6 L1717.5,1396.3 L1718.2,1398.0 L1718.9,1399.7 L1719.6,1401.4 L1720.3,1403.1 L1721.1,1404.9 L1721.8,1406.6 L1722.5,1408.3 L1723.2,1410.0 L1724.0,1411.7 L1724.7,1413.4 L1725.4,1415.1 L1726.2,1416.8 L1726.9,1418.5 L1727.6,1420.2 L1728.4,1421.9 L1729.1,1423.6 L1729.8,1425.3 L1730.6,1427.0 L1731.3,1428.7 L1732.1,1430.4 L1732.8,1432.1 L1733.5,1433.7 L1734.3,1435.4 L1735.0,1437.1 L1735.8,1438.8 L1736.5,1440.5 L1737.3,1442.2 L1738.0,1443.9 L1738.8,1445.6 L1739.5,1447.3 L1740.3,1449.0 L1741.0,1450.7 L1741.8,1452.4 L1742.5,1454.0 L1743.3,1455.7 L1744.0,1457.4 L1744.8,1459.1 L1745.5,1460.8 L1746.3,1462.5 L1747.0,1464.2 L1747.8,1465.8 L1748.6,1467.5 L1749.3,1469.2 L1750.1,1470.9 L1750.8,1472.6 L1751.6,1474.2 L1752.4,1475.9 L1753.1,1477.6 L1753.9,1479.3 L1754.6,1481.0 L1755.4,1482.6 L1756.2,1484.3 L1756.9,1486.0 L1757.7,1487.7 L1758.5,1489.4 L1759.3,1491.0 L1760.0,1492.7 L1760.8,1494.4 L1761.6,1496.0 L1762.4,1497.7 L1763.2,1499.4 L1763.9,1501.0 L1764.7,1502.7 L1765.5,1504.4 L1766.3,1506.0 L1767.1,1507.7 L1767.9,1509.4 L1768.7,1511.0 L1769.5,1512.7 L1770.3,1514.3 L1771.2,1516.0 L1772.0,1517.6 L1772.8,1519.3 L1773.6,1520.9 L1774.5,1522.6 L1775.3,1524.2 L1776.2,1525.8 L1777.0,1527.5 L1777.9,1529.1 L1778.7,1530.7 L1779.6,1532.4 L1780.5,1534.0 L1781.3,1535.6 L1782.2,1537.3 L1783.1,1538.9 L1784.0,1540.5 L1784.9,1542.1 L1785.8,1543.7 L1786.7,1545.3 L1787.6,1546.9 L1788.6,1548.5 L1789.5,1550.1 L1790.4,1551.7 L1791.4,1553.3 L1792.3,1554.9 L1793.3,1556.5 L1794.3,1558.1 L1795.2,1559.7 L1796.2,1561.3 L1797.2,1562.8 L1798.2,1564.4 L1799.2,1566.0 L1800.3,1567.5 L1801.3,1569.1 L1802.3,1570.7 L1803.4,1572.2 L1804.4,1573.8 L1805.5,1575.3 L1806.6,1576.8 L1807.6,1578.4 L1808.7,1579.9 L1809.8,1581.4 L1811.0,1583.0 L1812.1,1584.5 L1813.2,1586.0 L1814.4,1587.5 L1815.5,1589.0 L1816.7,1590.5 L1817.8,1592.0 L1819.0,1593.5 L1820.2,1595.0 L1821.4,1596.5 L1822.6,1597.9 L1823.8,1599.4 L1825.1,1600.8 L1826.3,1602.3 L1827.6,1603.7 L1828.8,1605.1 L1830.1,1606.5 L1831.4,1607.9 L1832.7,1609.3 L1834.0,1610.7 L1835.3,1612.0 L1836.6,1613.4 L1837.9,1614.7 L1839.3,1616.1 L1840.6,1617.4 L1842.0,1618.7 L1843.3,1619.9 L1844.7,1621.2 L1846.1,1622.5 L1847.5,1623.7 L1848.9,1624.9 L1850.3,1626.1 L1851.8,1627.3 L1853.2,1628.5 L1854.7,1629.7 L1856.1,1630.8 L1857.6,1631.9 L1859.1,1633.0 L1860.5,1634.1 L1862.0,1635.2 L1863.5,1636.2 L1865.1,1637.2 L1866.6,1638.2 L1868.1,1639.2 L1869.7,1640.2 L1871.2,1641.1 L1872.8,1642.1 L1874.3,1643.0 L1875.9,1643.9 L1877.5,1644.7 L1879.1,1645.6 L1880.7,1646.4 L1882.3,1647.2 L1884.0,1648.0 L1885.6,1648.8 L1887.2,1649.5 L1888.9,1650.3 L1890.5,1651.0 L1892.2,1651.7 L1893.9,1652.4 L1895.6,1653.1 L1897.2,1653.7 L1898.9,1654.4 L1900.6,1655.0 L1902.3,1655.6 L1904.1,1656.2 L1905.8,1656.8 L1907.5,1657.4 L1909.2,1657.9 L1911.0,1658.5 L1912.7,1659.0 L1914.5,1659.5 L1916.2,1660.0 L1918.0,1660.5 L1919.8,1661.0 L1921.5,1661.4 L1923.3,1661.9 L1925.1,1662.3 L1926.9,1662.7 L1928.7,1663.1 L1930.5,1663.5 L1932.3,1663.9 L1934.1,1664.3 L1935.9,1664.6 L1937.7,1665.0 L1939.5,1665.3 L1941.4,1665.7 L1943.2,1666.0 L1945.0,1666.3 L1946.9,1666.6 L1948.7,1666.9 L1950.5,1667.2 L1952.4,1667.5 L1954.2,1667.7 L1956.1,1668.0 L1957.9,1668.3 L1959.8,1668.5 L1961.7,1668.7 L1963.5,1669.0 L1965.4,1669.2 L1967.3,1669.4 L1969.1,1669.6 L1971.0,1669.8 L1972.9,1670.0 L1974.7,1670.2 L1976.6,1670.4 L1978.5,1670.6 L1980.4,1670.8 L1982.3,1670.9 L1984.1,1671.1 L1986.0,1671.3 L1987.9,1671.4 L1989.8,1671.6 L1991.7,1671.7 L1993.5,1671.9 L1995.4,1672.0 L1997.3,1672.1 L1999.2,1672.3 L2001.1,1672.4 L2003.0,1672.5 L2004.8,1672.7 L2006.7,1672.8 L2008.6,1672.9 L2010.5,1673.1 L2012.4,1673.2 L2014.2,1673.3 L2016.1,1673.4 L2018.0,1673.5 L2019.9,1673.7 L2021.7,1673.8 L2023.6,1673.9 L2025.5,1674.0 L2027.4,1674.1 L2029.2,1674.2 L2031.1,1674.4 L2033.0,1674.5 L2034.8,1674.6 L2036.7,1674.7 L2038.6,1674.8 L2040.4,1674.9 L2042.3,1675.0 L2044.2,1675.1 L2046.0,1675.2 L2047.9,1675.3 L2049.8,1675.4 L2051.6,1675.5 L2053.5,1675.6 L2055.3,1675.7 L2057.2,1675.8 L2059.1,1675.9 L2060.9,1676.0 L2062.8,1676.1 L2064.6,1676.2 L2066.5,1676.3 L2068.3,1676.4 L2070.2,1676.5 L2072.0,1676.5 L2073.9,1676.6 L2075.7,1676.7 L2077.6,1676.8 L2079.5,1676.9 L2081.3,1677.0 L2083.2,1677.1 L2085.0,1677.1 L2086.9,1677.2 L2088.7,1677.3 L2090.5,1677.4 L2092.4,1677.5 L2094.2,1677.5 L2096.1,1677.6 L2097.9,1677.7 L2099.8,1677.8 L2101.6,1677.8 L2103.5,1677.9 L2105.3,1678.0 L2107.2,1678.0 L2109.0,1678.1 L2110.8,1678.2 L2112.7,1678.3 L2114.5,1678.3 L2116.4,1678.4 L2118.2,1678.5 L2120.1,1678.5 L2121.9,1678.6 L2123.7,1678.6 L2125.6,1678.7 L2127.4,1678.8 L2129.3,1678.8 L2131.1,1678.9 L2132.9,1678.9 L2134.8,1679.0 L2136.6,1679.1 L2138.4,1679.1 L2140.3,1679.2 L2142.1,1679.2 L2144.0,1679.3 L2145.8,1679.3 L2147.6,1679.4 L2149.5,1679.4 L2151.3,1679.5 L2153.1,1679.5 L2155.0,1679.6 L2156.8,1679.6 L2158.7,1679.7 L2160.5,1679.7 L2162.3,1679.8 L2164.2,1679.8 L2166.0,1679.9 L2167.8,1679.9 L2169.7,1680.0 L2171.5,1680.0 L2173.3,1680.1 L2175.2,1680.1 L2177.0,1680.1 L2178.8,1680.2 L2180.7,1680.2 L2182.5,1680.3 L2184.4,1680.3 L2186.2,1680.3 L2188.0,1680.4 L2189.9,1680.4 L2191.7,1680.5 L2193.5,1680.5 L2195.4,1680.5 L2197.2,1680.6 L2199.0,1680.6 L2200.9,1680.6 L2202.7,1680.7 L2204.6,1680.7 L2206.4,1680.7 L2208.2,1680.8 L2210.1,1680.8 L2211.9,1680.8 L2213.7,1680.8 L2215.6,1680.9 L2217.4,1680.9 L2219.3,1680.9 L2221.1,1681.0 L2222.9,1681.0 L2224.8,1681.0 L2226.6,1681.0 L2228.5,1681.1 L2230.3,1681.1 L2232.1,1681.1 L2234.0,1681.1 L2235.8,1681.2 L2237.7,1681.2 L2239.5,1681.2 L2241.4,1681.2 L2243.2,1681.2 L2245.0,1681.3 L2246.9,1681.3 L2248.7,1681.3 L2250.6,1681.3 L2252.4,1681.3 L2254.3,1681.4 L2256.1,1681.4 L2258.0,1681.4 L2259.8,1681.4 L2261.6,1681.4 L2263.5,1681.5 L2265.3,1681.5 L2267.2,1681.5 L2269.0,1681.5 L2270.9,1681.5 L2272.7,1681.5 L2274.6,1681.6 L2276.4,1681.6 L2278.3,1681.6 L2280.2,1681.6 L2282.0,1681.6 L2283.9,1681.6 L2285.7,1681.6 L2287.6,1681.6 L2289.4,1681.7 L2291.3,1681.7 L2293.1,1681.7 L2295.0,1681.7 L2296.9,1681.7 L2298.7,1681.7 L2300.6,1681.7 L2302.4,1681.7 L2304.3,1681.7 L2306.2,1681.8 L2308.0,1681.8 L2309.9,1681.8 L2311.8,1681.8 L2313.6,1681.8 L2315.5,1681.8 L2317.4,1681.8 L2319.2,1681.8 L2321.1,1681.8 L2323.0,1681.8 L2324.8,1681.8 L2326.7,1681.9 L2328.6,1681.9 L2330.5,1681.9 L2332.3,1681.9 L2334.2,1681.9 L2336.1,1681.9 L2338.0,1681.9 L2339.8,1681.9 L2341.7,1681.9 L2343.6,1681.9 L2345.5,1681.9 L2347.4,1681.9 L2349.3,1681.9 L2351.1,1681.9 L2353.0,1681.9 L2354.9,1681.9 L2356.8,1682.0 L2358.7,1682.0 L2360.6,1682.0 L2362.5,1682.0 L2364.4,1682.0 L2366.2,1682.0 L2368.1,1682.0 L2370.0,1682.0" fill="none" stroke="#000000" stroke-width="7" stroke-linejoin="round"/>
<rect x="344.5" y="1647.0" width="32.0" height="32.0" fill="#000"/>
<rect x="445.0" y="1630.5" width="32.0" height="32.0" fill="#000"/>
<rect x="546.0" y="1600.5" width="32.0" height="32.0" fill="#000"/>
<rect x="645.0" y="1545.3" width="32.0" height="32.0" fill="#000"/>
<rect x="746.0" y="1428.0" width="32.0" height="32.0" fill="#000"/>
<rect x="846.5" y="1233.0" width="32.0" height="32.0" fill="#000"/>
<rect x="946.6" y="1117.0" width="32.0" height="32.0" fill="#000"/>
<rect x="1047.0" y="1180.7" width="32.0" height="32.0" fill="#000"/>
<rect x="1147.0" y="1181.0" width="32.0" height="32.0" fill="#000"/>
<rect x="1247.5" y="1108.0" width="32.0" height="32.0" fill="#000"/>
<rect x="1348.5" y="951.5" width="32.0" height="32.0" fill="#000"/>
<rect x="1451.2" y="905.0" width="32.0" height="32.0" fill="#000"/>
<rect x="1549.8" y="945.3" width="32.0" height="32.0" fill="#000"/>
<rect x="1649.5" y="1243.2" width="32.0" height="32.0" fill="#000"/>
<rect x="1750.0" y="1528.8" width="32.0" height="32.0" fill="#000"/>
<rect x="1850.6" y="1635.0" width="32.0" height="32.0" fill="#000"/>
<rect x="1950.9" y="1660.0" width="32.0" height="32.0" fill="#000"/>
<rect x="2051.3" y="1668.0" width="32.0" height="32.0" fill="#000"/>
<rect x="2151.7" y="1672.0" width="32.0" height="32.0" fill="#000"/>
<rect x="2252.1" y="1672.0" width="32.0" height="32.0" fill="#000"/>
<rect x="2352.5" y="1672.0" width="32.0" height="32.0" fill="#000"/>
<path d="M360.6,1674.0 L362.9,1673.8 L365.3,1673.6 L367.6,1673.4 L369.9,1673.2 L372.2,1673.0 L374.5,1672.8 L376.8,1672.6 L379.1,1672.4 L381.4,1672.2 L383.7,1672.0 L386.1,1671.8 L388.4,1671.6 L390.7,1671.4 L393.0,1671.2 L395.3,1671.0 L397.6,1670.8 L399.9,1670.6 L402.3,1670.4 L404.6,1670.2 L406.9,1670.0 L409.2,1669.8 L411.5,1669.6 L413.8,1669.4 L416.1,1669.2 L418.5,1668.9 L420.8,1668.7 L423.1,1668.5 L425.4,1668.3 L427.7,1668.1 L430.0,1667.9 L432.4,1667.6 L434.7,1667.4 L437.0,1667.2 L439.3,1667.0 L441.6,1666.8 L443.9,1666.5 L446.3,1666.3 L448.6,1666.1 L450.9,1665.9 L453.2,1665.7 L455.5,1665.4 L457.8,1665.2 L460.2,1665.0 L462.5,1664.8 L464.8,1664.5 L467.1,1664.3 L469.4,1664.1 L471.7,1663.8 L474.1,1663.6 L476.4,1663.4 L478.7,1663.1 L481.0,1662.9 L483.3,1662.7 L485.7,1662.4 L488.0,1662.2 L490.3,1661.9 L492.6,1661.7 L494.9,1661.5 L497.2,1661.2 L499.6,1661.0 L501.9,1660.7 L504.2,1660.5 L506.5,1660.3 L508.8,1660.0 L511.2,1659.8 L513.5,1659.5 L515.8,1659.3 L518.1,1659.0 L520.4,1658.8 L522.7,1658.5 L525.1,1658.3 L527.4,1658.0 L529.7,1657.8 L532.0,1657.5 L534.3,1657.2 L536.6,1657.0 L539.0,1656.7 L541.3,1656.5 L543.6,1656.2 L545.9,1655.9 L548.2,1655.7 L550.5,1655.4 L552.9,1655.2 L555.2,1654.9 L557.5,1654.6 L559.8,1654.4 L562.1,1654.1 L564.4,1653.8 L566.8,1653.6 L569.1,1653.3 L571.4,1653.0 L573.7,1652.7 L576.0,1652.5 L578.3,1652.2 L580.6,1651.9 L583.0,1651.6 L585.3,1651.4 L587.6,1651.1 L589.9,1650.8 L592.2,1650.5 L594.5,1650.2 L596.8,1649.9 L599.2,1649.7 L601.5,1649.4 L603.8,1649.1 L606.1,1648.8 L608.4,1648.5 L610.7,1648.2 L613.0,1647.9 L615.3,1647.6 L617.6,1647.3 L620.0,1647.0 L622.3,1646.8 L624.6,1646.5 L626.9,1646.2 L629.2,1645.9 L631.5,1645.6 L633.8,1645.3 L636.1,1645.0 L638.4,1644.6 L640.7,1644.3 L643.0,1644.0 L645.4,1643.7 L647.7,1643.4 L650.0,1643.1 L652.3,1642.8 L654.6,1642.5 L656.9,1642.2 L659.2,1641.9 L661.5,1641.5 L663.8,1641.2 L666.1,1640.9 L668.4,1640.6 L670.7,1640.3 L673.0,1639.9 L675.3,1639.6 L677.6,1639.3 L679.9,1639.0 L682.2,1638.7 L684.5,1638.3 L686.8,1638.0 L689.1,1637.7 L691.4,1637.3 L693.7,1637.0 L696.0,1636.7 L698.3,1636.3 L700.6,1636.0 L702.9,1635.7 L705.2,1635.3 L707.5,1635.0 L709.8,1634.7 L712.1,1634.3 L714.4,1634.0 L716.7,1633.6 L719.0,1633.3 L721.3,1633.0 L723.6,1632.6 L725.9,1632.3 L728.2,1631.9 L730.5,1631.6 L732.8,1631.2 L735.1,1630.9 L737.4,1630.5 L739.7,1630.2 L742.0,1629.8 L744.3,1629.5 L746.6,1629.1 L748.9,1628.8 L751.2,1628.4 L753.5,1628.1 L755.8,1627.7 L758.0,1627.4 L760.3,1627.0 L762.6,1626.7 L764.9,1626.3 L767.2,1625.9 L769.5,1625.6 L771.8,1625.2 L774.1,1624.9 L776.4,1624.5 L778.7,1624.1 L781.0,1623.8 L783.3,1623.4 L785.6,1623.1 L787.9,1622.7 L790.2,1622.3 L792.5,1622.0 L794.8,1621.6 L797.1,1621.2 L799.4,1620.9 L801.7,1620.5 L804.0,1620.2 L806.3,1619.8 L808.6,1619.4 L810.9,1619.1 L813.1,1618.7 L815.4,1618.3 L817.7,1618.0 L820.0,1617.6 L822.3,1617.2 L824.6,1616.9 L826.9,1616.5 L829.2,1616.1 L831.5,1615.7 L833.8,1615.4 L836.1,1615.0 L838.4,1614.6 L840.7,1614.3 L843.0,1613.9 L845.3,1613.5 L847.6,1613.2 L849.9,1612.8 L852.2,1612.4 L854.5,1612.0 L856.8,1611.7 L859.1,1611.3 L861.4,1610.9 L863.7,1610.6 L866.0,1610.2 L868.3,1609.8 L870.6,1609.5 L872.9,1609.1 L875.2,1608.7 L877.5,1608.3 L879.8,1608.0 L882.1,1607.6 L884.5,1607.2 L886.8,1606.9 L889.1,1606.5 L891.4,1606.1 L893.7,1605.7 L896.0,1605.4 L898.3,1605.0 L900.6,1604.6 L902.9,1604.3 L905.2,1603.9 L907.5,1603.5 L909.8,1603.2 L912.1,1602.8 L914.4,1602.4 L916.8,1602.0 L919.1,1601.7 L921.4,1601.3 L923.7,1600.9 L926.0,1600.6 L928.3,1600.2 L930.6,1599.8 L932.9,1599.5 L935.2,1599.1 L937.6,1598.7 L939.9,1598.3 L942.2,1598.0 L944.5,1597.6 L946.8,1597.2 L949.1,1596.8 L951.4,1596.5 L953.7,1596.1 L956.1,1595.7 L958.4,1595.3 L960.7,1594.9 L963.0,1594.5 L965.3,1594.1 L967.6,1593.7 L969.9,1593.3 L972.2,1592.9 L974.5,1592.5 L976.8,1592.1 L979.1,1591.7 L981.4,1591.3 L983.7,1590.9 L986.0,1590.5 L988.3,1590.1 L990.6,1589.6 L992.9,1589.2 L995.2,1588.8 L997.5,1588.4 L999.8,1587.9 L1002.1,1587.5 L1004.4,1587.0 L1006.7,1586.6 L1009.0,1586.1 L1011.3,1585.7 L1013.6,1585.2 L1015.9,1584.7 L1018.1,1584.2 L1020.4,1583.8 L1022.7,1583.3 L1025.0,1582.8 L1027.3,1582.3 L1029.5,1581.8 L1031.8,1581.3 L1034.1,1580.8 L1036.4,1580.3 L1038.6,1579.7 L1040.9,1579.2 L1043.2,1578.7 L1045.4,1578.1 L1047.7,1577.6 L1049.9,1577.0 L1052.2,1576.5 L1054.4,1575.9 L1056.7,1575.3 L1058.9,1574.7 L1061.2,1574.2 L1063.4,1573.6 L1065.7,1573.0 L1067.9,1572.4 L1070.1,1571.7 L1072.4,1571.1 L1074.6,1570.5 L1076.8,1569.8 L1079.1,1569.2 L1081.3,1568.5 L1083.5,1567.9 L1085.7,1567.2 L1087.9,1566.5 L1090.1,1565.8 L1092.3,1565.1 L1094.5,1564.4 L1096.7,1563.7 L1098.9,1563.0 L1101.1,1562.3 L1103.3,1561.5 L1105.5,1560.8 L1107.7,1560.0 L1109.9,1559.2 L1112.1,1558.4 L1114.2,1557.7 L1116.4,1556.9 L1118.6,1556.0 L1120.7,1555.2 L1122.9,1554.4 L1125.0,1553.6 L1127.2,1552.7 L1129.3,1551.9 L1131.5,1551.0 L1133.6,1550.1 L1135.8,1549.2 L1137.9,1548.3 L1140.0,1547.4 L1142.2,1546.5 L1144.3,1545.6 L1146.4,1544.7 L1148.5,1543.7 L1150.7,1542.8 L1152.8,1541.8 L1154.9,1540.9 L1157.0,1539.9 L1159.1,1538.9 L1161.2,1537.9 L1163.3,1537.0 L1165.4,1535.9 L1167.5,1534.9 L1169.5,1533.9 L1171.6,1532.9 L1173.7,1531.9 L1175.8,1530.8 L1177.9,1529.8 L1179.9,1528.7 L1182.0,1527.6 L1184.1,1526.6 L1186.1,1525.5 L1188.2,1524.4 L1190.2,1523.3 L1192.3,1522.2 L1194.3,1521.1 L1196.4,1520.0 L1198.4,1518.9 L1200.5,1517.7 L1202.5,1516.6 L1204.5,1515.4 L1206.6,1514.3 L1208.6,1513.1 L1210.6,1512.0 L1212.6,1510.8 L1214.7,1509.6 L1216.7,1508.5 L1218.7,1507.3 L1220.7,1506.1 L1222.7,1504.9 L1224.7,1503.7 L1226.7,1502.5 L1228.7,1501.2 L1230.7,1500.0 L1232.7,1498.8 L1234.7,1497.6 L1236.7,1496.3 L1238.7,1495.1 L1240.6,1493.8 L1242.6,1492.6 L1244.6,1491.3 L1246.6,1490.0 L1248.5,1488.8 L1250.5,1487.5 L1252.5,1486.2 L1254.4,1484.9 L1256.4,1483.6 L1258.4,1482.3 L1260.3,1481.0 L1262.3,1479.7 L1264.2,1478.4 L1266.2,1477.1 L1268.1,1475.8 L1270.1,1474.5 L1272.0,1473.2 L1273.9,1471.8 L1275.9,1470.5 L1277.8,1469.1 L1279.7,1467.8 L1281.7,1466.5 L1283.6,1465.1 L1285.5,1463.7 L1287.4,1462.4 L1289.3,1461.0 L1291.2,1459.6 L1293.1,1458.2 L1295.0,1456.8 L1296.9,1455.4 L1298.7,1454.0 L1300.6,1452.6 L1302.5,1451.2 L1304.3,1449.8 L1306.2,1448.3 L1308.0,1446.9 L1309.9,1445.5 L1311.7,1444.0 L1313.5,1442.5 L1315.4,1441.1 L1317.2,1439.6 L1319.0,1438.1 L1320.8,1436.6 L1322.5,1435.1 L1324.3,1433.6 L1326.1,1432.1 L1327.9,1430.6 L1329.6,1429.1 L1331.3,1427.5 L1333.1,1426.0 L1334.8,1424.4 L1336.5,1422.9 L1338.2,1421.3 L1339.9,1419.7 L1341.6,1418.1 L1343.3,1416.5 L1344.9,1414.9 L1346.6,1413.3 L1348.2,1411.6 L1349.8,1410.0 L1351.5,1408.4 L1353.1,1406.7 L1354.7,1405.0 L1356.2,1403.3 L1357.8,1401.7 L1359.4,1400.0 L1360.9,1398.2 L1362.4,1396.5 L1364.0,1394.8 L1365.5,1393.0 L1367.0,1391.3 L1368.4,1389.5 L1369.9,1387.7 L1371.4,1386.0 L1372.8,1384.2 L1374.2,1382.4 L1375.7,1380.6 L1377.1,1378.7 L1378.5,1376.9 L1379.8,1375.1 L1381.2,1373.2 L1382.6,1371.4 L1384.0,1369.5 L1385.3,1367.6 L1386.6,1365.7 L1388.0,1363.8 L1389.3,1361.9 L1390.6,1360.0 L1391.9,1358.1 L1393.2,1356.2 L1394.5,1354.3 L1395.7,1352.3 L1397.0,1350.4 L1398.3,1348.5 L1399.5,1346.5 L1400.8,1344.6 L1402.0,1342.6 L1403.3,1340.6 L1404.5,1338.6 L1405.7,1336.7 L1406.9,1334.7 L1408.1,1332.7 L1409.3,1330.7 L1410.5,1328.7 L1411.7,1326.7 L1412.9,1324.7 L1414.1,1322.7 L1415.3,1320.7 L1416.4,1318.6 L1417.6,1316.6 L1418.8,1314.6 L1419.9,1312.6 L1421.1,1310.5 L1422.3,1308.5 L1423.4,1306.5 L1424.6,1304.4 L1425.7,1302.4 L1426.9,1300.4 L1428.0,1298.3 L1429.2,1296.3 L1430.3,1294.2 L1431.4,1292.2 L1432.6,1290.1 L1433.7,1288.1 L1434.9,1286.0 L1436.0,1284.0 L1437.1,1282.0 L1438.3,1279.9 L1439.4,1277.9 L1440.6,1275.8 L1441.7,1273.8 L1442.8,1271.7 L1444.0,1269.7 L1445.1,1267.6 L1446.3,1265.6 L1447.4,1263.5 L1448.6,1261.5 L1449.7,1259.5 L1450.9,1257.4 L1452.0,1255.4 L1453.2,1253.4 L1454.4,1251.3 L1455.5,1249.3 L1456.7,1247.3 L1457.9,1245.3 L1459.1,1243.3 L1460.2,1241.2 L1461.4,1239.2 L1462.6,1237.2 L1463.8,1235.2 L1465.0,1233.2 L1466.2,1231.2 L1467.4,1229.3 L1468.7,1227.3 L1469.9,1225.3 L1471.1,1223.3 L1472.3,1221.3 L1473.6,1219.4 L1474.8,1217.4 L1476.0,1215.4 L1477.3,1213.5 L1478.5,1211.5 L1479.7,1209.5 L1481.0,1207.6 L1482.2,1205.6 L1483.5,1203.7 L1484.7,1201.7 L1486.0,1199.7 L1487.2,1197.8 L1488.5,1195.8 L1489.7,1193.9 L1491.0,1191.9 L1492.2,1190.0 L1493.5,1188.0 L1494.7,1186.1 L1495.9,1184.1 L1497.2,1182.1 L1498.4,1180.2 L1499.7,1178.2 L1500.9,1176.3 L1502.1,1174.3 L1503.4,1172.3 L1504.6,1170.4 L1505.8,1168.4 L1507.0,1166.4 L1508.2,1164.4 L1509.4,1162.5 L1510.6,1160.5 L1511.8,1158.5 L1513.0,1156.5 L1514.2,1154.5 L1515.4,1152.5 L1516.6,1150.5 L1517.7,1148.5 L1518.9,1146.5 L1520.0,1144.5 L1521.2,1142.5 L1522.3,1140.4 L1523.5,1138.4 L1524.6,1136.4 L1525.7,1134.3 L1526.8,1132.3 L1527.9,1130.2 L1529.0,1128.2 L1530.1,1126.1 L1531.2,1124.0 L1532.2,1121.9 L1533.3,1119.8 L1534.3,1117.7 L1535.3,1115.6 L1536.4,1113.5 L1537.4,1111.4 L1538.4,1109.3 L1539.4,1107.2 L1540.4,1105.1 L1541.5,1103.0 L1542.5,1100.9 L1543.6,1098.8 L1544.6,1096.7 L1545.7,1094.6 L1546.8,1092.6 L1548.0,1090.5 L1549.2,1088.5 L1550.4,1086.5 L1551.6,1084.5 L1552.9,1082.5 L1554.2,1080.6 L1555.5,1078.7 L1556.9,1076.8 L1558.2,1074.9 L1559.6,1072.9 L1561.0,1071.0 L1562.3,1069.1 L1563.6,1067.2 L1564.9,1065.3 L1566.1,1063.3 L1567.3,1061.4 L1568.5,1059.4 L1569.6,1057.4 L1570.7,1055.3 L1571.8,1053.3 L1572.8,1051.3 L1573.8,1049.2 L1574.8,1047.1 L1575.7,1045.0 L1576.6,1042.9 L1577.5,1040.8 L1578.3,1038.6 L1579.1,1036.5 L1579.9,1034.3 L1580.7,1032.2 L1581.4,1030.0 L1582.2,1027.8 L1582.9,1025.6 L1583.5,1023.4 L1584.2,1021.1 L1584.8,1018.9 L1585.5,1016.7 L1586.1,1014.4 L1586.7,1012.2 L1587.2,1009.9 L1587.8,1007.6 L1588.4,1005.4 L1588.9,1003.1 L1589.4,1000.8 L1589.9,998.5 L1590.5,996.2 L1591.0,993.9 L1591.5,991.6 L1592.0,989.3 L1592.4,987.0 L1592.9,984.7 L1593.4,982.4 L1593.9,980.1 L1594.4,977.8 L1594.9,975.5 L1595.4,973.2 L1595.8,970.9 L1596.3,968.6 L1596.8,966.3 L1597.3,964.0 L1597.9,961.7 L1598.4,959.5 L1598.9,957.2 L1599.5,954.9 L1600.0,952.6 L1600.6,950.4 L1601.1,948.1 L1601.7,945.8 L1602.3,943.6 L1602.9,941.3 L1603.5,939.1 L1604.1,936.8 L1604.7,934.6 L1605.3,932.4 L1606.0,930.1 L1606.6,927.9 L1607.3,925.7 L1607.9,923.5 L1608.6,921.2 L1609.3,919.0 L1609.9,916.8 L1610.6,914.6 L1611.3,912.4 L1612.0,910.2 L1612.7,908.0 L1613.4,905.8 L1614.1,903.6 L1614.8,901.4 L1615.5,899.2 L1616.2,897.0 L1616.9,894.8 L1617.7,892.6 L1618.4,890.4 L1619.1,888.2 L1619.9,886.0 L1620.6,883.8 L1621.4,881.6 L1622.1,879.4 L1622.8,877.2 L1623.6,875.0 L1624.3,872.8 L1625.1,870.6 L1625.9,868.4 L1626.6,866.3 L1627.4,864.1 L1628.1,861.9 L1628.9,859.7 L1629.6,857.5 L1630.4,855.3 L1631.2,853.1 L1631.9,850.9 L1632.7,848.7 L1633.4,846.5 L1634.2,844.3 L1634.9,842.1 L1635.7,839.9 L1636.4,837.7 L1637.2,835.4 L1637.9,833.2 L1638.7,831.0 L1639.4,828.8 L1640.2,826.6 L1640.9,824.4 L1641.6,822.1 L1642.4,819.9 L1643.1,817.7 L1643.9,815.5 L1644.6,813.2 L1645.3,811.0 L1646.0,808.8 L1646.8,806.6 L1647.5,804.3 L1648.2,802.1 L1649.0,799.9 L1649.7,797.6 L1650.4,795.4 L1651.1,793.1 L1651.8,790.9 L1652.6,788.7 L1653.3,786.4 L1654.0,784.2 L1654.7,782.0 L1655.4,779.7 L1656.1,777.5 L1656.9,775.2 L1657.6,773.0 L1658.3,770.8 L1659.0,768.5 L1659.7,766.3 L1660.4,764.1 L1661.1,761.8 L1661.8,759.6 L1662.5,757.3 L1663.2,755.1 L1663.9,752.9 L1664.6,750.6 L1665.3,748.4 L1666.0,746.2 L1666.7,743.9 L1667.5,741.7 L1668.2,739.5 L1668.9,737.2 L1669.6,735.0 L1670.3,732.8 L1671.0,730.6 L1671.7,728.3 L1672.3,726.1 L1673.0,723.9 L1673.7,721.7 L1674.4,719.5 L1675.1,717.2 L1675.8,715.0 L1676.5,712.8 L1677.2,710.6 L1677.9,708.4 L1678.6,706.2 L1679.3,704.0 L1680.0,701.8 L1680.7,699.6 L1681.4,697.4 L1682.1,695.2 L1682.8,693.0 L1683.5,690.8 L1684.2,688.6 L1684.9,686.4 L1685.6,684.3 L1686.3,682.1 L1687.0,679.9 L1687.7,677.7 L1688.4,675.6 L1689.1,673.4 L1689.8,671.2 L1690.5,669.1 L1691.2,666.9 L1691.9,664.7 L1692.6,662.6 L1693.3,660.4 L1694.0,658.2 L1694.8,656.1 L1695.5,653.9 L1696.2,651.8 L1696.9,649.6 L1697.6,647.4 L1698.4,645.3 L1699.1,643.1 L1699.9,640.9 L1700.6,638.7 L1701.4,636.6 L1702.1,634.4 L1702.9,632.2 L1703.6,630.0 L1704.4,627.8 L1705.2,625.6 L1706.0,623.5 L1706.7,621.3 L1707.5,619.0 L1708.3,616.8 L1709.1,614.6 L1710.0,612.4 L1710.8,610.2 L1711.6,607.9 L1712.4,605.7 L1713.3,603.5 L1714.1,601.2 L1715.0,599.0 L1715.8,596.7 L1716.7,594.4 L1717.6,592.1 L1718.5,589.9 L1719.4,587.6 L1720.3,585.3 L1721.2,583.0 L1722.1,580.6 L1723.1,578.3 L1724.0,576.0 L1725.0,573.7 L1726.0,571.4 L1727.0,569.2 L1728.1,566.9 L1729.1,564.7 L1730.2,562.5 L1731.3,560.3 L1732.5,558.2 L1733.6,556.1 L1734.8,554.0 L1736.1,552.0 L1737.3,550.0 L1738.6,548.0 L1740.0,546.2 L1741.4,544.3 L1742.8,542.6 L1744.3,540.9 L1745.8,539.2 L1747.3,537.7 L1748.9,536.2 L1750.6,534.8 L1752.3,533.5 L1754.0,532.2 L1755.9,531.0 L1757.7,530.0 L1759.7,529.0 L1761.6,528.1 L1763.7,527.4 L1765.7,526.7 L1767.8,526.1 L1770.0,525.7 L1772.1,525.4 L1774.3,525.3 L1776.4,525.2 L1778.5,525.4 L1780.7,525.6 L1782.8,526.0 L1784.8,526.6 L1786.9,527.4 L1788.8,528.3 L1790.7,529.4 L1792.6,530.7 L1794.4,532.1 L1796.1,533.7 L1797.8,535.4 L1799.5,537.2 L1801.0,539.1 L1802.6,541.1 L1804.0,543.2 L1805.5,545.3 L1806.9,547.5 L1808.2,549.7 L1809.5,552.0 L1810.7,554.2 L1812.0,556.5 L1813.1,558.7 L1814.3,560.9 L1815.4,563.1 L1816.4,565.3 L1817.5,567.5 L1818.5,569.7 L1819.5,571.8 L1820.4,574.0 L1821.4,576.1 L1822.3,578.3 L1823.1,580.4 L1824.0,582.6 L1824.8,584.7 L1825.7,586.8 L1826.5,589.0 L1827.3,591.1 L1828.1,593.2 L1828.8,595.4 L1829.6,597.5 L1830.4,599.7 L1831.1,601.8 L1831.9,603.9 L1832.6,606.1 L1833.4,608.2 L1834.1,610.4 L1834.9,612.5 L1835.6,614.7 L1836.4,616.9 L1837.1,619.1 L1837.9,621.2 L1838.6,623.4 L1839.4,625.6 L1840.1,627.8 L1840.9,630.0 L1841.6,632.2 L1842.3,634.4 L1843.1,636.6 L1843.8,638.8 L1844.5,641.0 L1845.3,643.3 L1846.0,645.5 L1846.7,647.7 L1847.4,649.9 L1848.1,652.2 L1848.8,654.4 L1849.5,656.6 L1850.1,658.9 L1850.8,661.1 L1851.5,663.3 L1852.1,665.6 L1852.8,667.8 L1853.4,670.1 L1854.0,672.3 L1854.7,674.5 L1855.3,676.8 L1855.9,679.0 L1856.5,681.3 L1857.1,683.6 L1857.7,685.8 L1858.3,688.1 L1858.9,690.3 L1859.5,692.6 L1860.0,694.9 L1860.6,697.1 L1861.2,699.4 L1861.7,701.6 L1862.3,703.9 L1862.8,706.2 L1863.3,708.4 L1863.9,710.7 L1864.4,713.0 L1864.9,715.3 L1865.5,717.5 L1866.0,719.8 L1866.5,722.1 L1867.0,724.4 L1867.5,726.6 L1868.0,728.9 L1868.5,731.2 L1869.0,733.5 L1869.5,735.8 L1869.9,738.0 L1870.4,740.3 L1870.9,742.6 L1871.4,744.9 L1871.9,747.2 L1872.3,749.5 L1872.8,751.8 L1873.2,754.0 L1873.7,756.3 L1874.2,758.6 L1874.6,760.9 L1875.1,763.2 L1875.5,765.5 L1876.0,767.8 L1876.4,770.1 L1876.9,772.3 L1877.3,774.6 L1877.7,776.9 L1878.2,779.2 L1878.6,781.5 L1879.0,783.8 L1879.5,786.1 L1879.9,788.4 L1880.3,790.7 L1880.8,792.9 L1881.2,795.2 L1881.6,797.5 L1882.1,799.8 L1882.5,802.1 L1882.9,804.4 L1883.3,806.7 L1883.8,809.0 L1884.2,811.3 L1884.6,813.6 L1885.0,815.8 L1885.4,818.1 L1885.9,820.4 L1886.3,822.7 L1886.7,825.0 L1887.1,827.3 L1887.5,829.6 L1887.9,831.9 L1888.3,834.2 L1888.8,836.5 L1889.2,838.7 L1889.6,841.0 L1890.0,843.3 L1890.4,845.6 L1890.8,847.9 L1891.2,850.2 L1891.6,852.5 L1892.0,854.8 L1892.4,857.1 L1892.8,859.4 L1893.2,861.7 L1893.6,863.9 L1894.0,866.2 L1894.4,868.5 L1894.8,870.8 L1895.2,873.1 L1895.6,875.4 L1896.0,877.7 L1896.4,880.0 L1896.8,882.3 L1897.2,884.6 L1897.6,886.8 L1898.0,889.1 L1898.4,891.4 L1898.8,893.7 L1899.2,896.0 L1899.6,898.3 L1900.0,900.6 L1900.4,902.9 L1900.7,905.2 L1901.1,907.5 L1901.5,909.8 L1901.9,912.1 L1902.3,914.3 L1902.7,916.6 L1903.1,918.9 L1903.5,921.2 L1903.9,923.5 L1904.3,925.8 L1904.6,928.1 L1905.0,930.4 L1905.4,932.7 L1905.8,935.0 L1906.2,937.3 L1906.6,939.6 L1907.0,941.8 L1907.4,944.1 L1907.8,946.4 L1908.1,948.7 L1908.5,951.0 L1908.9,953.3 L1909.3,955.6 L1909.7,957.9 L1910.1,960.2 L1910.5,962.5 L1910.9,964.8 L1911.2,967.1 L1911.6,969.4 L1912.0,971.7 L1912.4,973.9 L1912.8,976.2 L1913.2,978.5 L1913.6,980.8 L1914.0,983.1 L1914.4,985.4 L1914.7,987.7 L1915.1,990.0 L1915.5,992.3 L1915.9,994.6 L1916.3,996.9 L1916.7,999.2 L1917.1,1001.5 L1917.5,1003.8 L1917.9,1006.1 L1918.3,1008.3 L1918.7,1010.6 L1919.1,1012.9 L1919.4,1015.2 L1919.8,1017.5 L1920.2,1019.8 L1920.6,1022.1 L1921.0,1024.4 L1921.4,1026.7 L1921.8,1029.0 L1922.2,1031.3 L1922.6,1033.6 L1923.0,1035.9 L1923.4,1038.2 L1923.8,1040.5 L1924.2,1042.8 L1924.6,1045.1 L1925.0,1047.4 L1925.4,1049.7 L1925.8,1052.0 L1926.2,1054.2 L1926.6,1056.5 L1927.0,1058.8 L1927.4,1061.1 L1927.9,1063.4 L1928.3,1065.7 L1928.7,1068.0 L1929.1,1070.3 L1929.5,1072.6 L1929.9,1074.9 L1930.3,1077.2 L1930.7,1079.5 L1931.1,1081.8 L1931.6,1084.1 L1932.0,1086.4 L1932.4,1088.7 L1932.8,1091.0 L1933.2,1093.3 L1933.7,1095.6 L1934.1,1097.9 L1934.5,1100.2 L1934.9,1102.5 L1935.3,1104.8 L1935.8,1107.1 L1936.2,1109.4 L1936.6,1111.7 L1937.0,1114.0 L1937.5,1116.3 L1937.9,1118.6 L1938.3,1120.9 L1938.8,1123.2 L1939.2,1125.4 L1939.6,1127.7 L1940.1,1130.0 L1940.5,1132.3 L1940.9,1134.6 L1941.4,1136.9 L1941.8,1139.2 L1942.2,1141.5 L1942.7,1143.8 L1943.1,1146.1 L1943.6,1148.4 L1944.0,1150.7 L1944.4,1153.0 L1944.9,1155.3 L1945.3,1157.6 L1945.8,1159.9 L1946.2,1162.2 L1946.7,1164.5 L1947.1,1166.8 L1947.6,1169.1 L1948.0,1171.4 L1948.5,1173.6 L1948.9,1175.9 L1949.4,1178.2 L1949.8,1180.5 L1950.3,1182.8 L1950.7,1185.1 L1951.2,1187.4 L1951.6,1189.7 L1952.1,1192.0 L1952.5,1194.3 L1953.0,1196.6 L1953.4,1198.8 L1953.9,1201.1 L1954.3,1203.4 L1954.8,1205.7 L1955.2,1208.0 L1955.7,1210.3 L1956.2,1212.6 L1956.6,1214.9 L1957.1,1217.1 L1957.5,1219.4 L1958.0,1221.7 L1958.4,1224.0 L1958.9,1226.3 L1959.4,1228.6 L1959.8,1230.8 L1960.3,1233.1 L1960.8,1235.4 L1961.2,1237.7 L1961.7,1240.0 L1962.1,1242.2 L1962.6,1244.5 L1963.1,1246.8 L1963.5,1249.1 L1964.0,1251.3 L1964.5,1253.6 L1964.9,1255.9 L1965.4,1258.2 L1965.9,1260.4 L1966.3,1262.7 L1966.8,1265.0 L1967.2,1267.2 L1967.7,1269.5 L1968.2,1271.8 L1968.6,1274.0 L1969.1,1276.3 L1969.6,1278.6 L1970.0,1280.8 L1970.5,1283.1 L1971.0,1285.4 L1971.5,1287.6 L1971.9,1289.9 L1972.4,1292.2 L1972.9,1294.4 L1973.3,1296.7 L1973.8,1298.9 L1974.3,1301.2 L1974.8,1303.5 L1975.2,1305.7 L1975.7,1308.0 L1976.2,1310.2 L1976.7,1312.5 L1977.1,1314.8 L1977.6,1317.0 L1978.1,1319.3 L1978.6,1321.5 L1979.1,1323.8 L1979.5,1326.0 L1980.0,1328.3 L1980.5,1330.6 L1981.0,1332.8 L1981.5,1335.1 L1982.0,1337.3 L1982.5,1339.6 L1983.0,1341.9 L1983.5,1344.1 L1984.0,1346.4 L1984.4,1348.6 L1984.9,1350.9 L1985.4,1353.1 L1986.0,1355.4 L1986.5,1357.7 L1987.0,1359.9 L1987.5,1362.2 L1988.0,1364.4 L1988.5,1366.7 L1989.0,1369.0 L1989.5,1371.2 L1990.0,1373.5 L1990.6,1375.7 L1991.1,1378.0 L1991.6,1380.3 L1992.1,1382.5 L1992.7,1384.8 L1993.2,1387.1 L1993.7,1389.3 L1994.2,1391.6 L1994.8,1393.9 L1995.3,1396.1 L1995.9,1398.4 L1996.4,1400.7 L1997.0,1402.9 L1997.5,1405.2 L1998.1,1407.5 L1998.6,1409.8 L1999.2,1412.0 L1999.7,1414.3 L2000.3,1416.6 L2000.9,1418.9 L2001.4,1421.1 L2002.0,1423.4 L2002.6,1425.7 L2003.1,1428.0 L2003.7,1430.3 L2004.3,1432.5 L2004.9,1434.8 L2005.5,1437.1 L2006.1,1439.4 L2006.7,1441.7 L2007.3,1444.0 L2007.9,1446.2 L2008.5,1448.5 L2009.2,1450.8 L2009.8,1453.1 L2010.4,1455.3 L2011.1,1457.6 L2011.7,1459.9 L2012.4,1462.2 L2013.0,1464.4 L2013.7,1466.7 L2014.3,1469.0 L2015.0,1471.2 L2015.7,1473.5 L2016.4,1475.7 L2017.1,1478.0 L2017.8,1480.3 L2018.5,1482.5 L2019.2,1484.7 L2020.0,1487.0 L2020.7,1489.2 L2021.5,1491.5 L2022.2,1493.7 L2023.0,1495.9 L2023.8,1498.1 L2024.6,1500.3 L2025.4,1502.6 L2026.2,1504.8 L2027.0,1507.0 L2027.8,1509.2 L2028.6,1511.3 L2029.5,1513.5 L2030.3,1515.7 L2031.2,1517.9 L2032.1,1520.1 L2033.0,1522.2 L2033.9,1524.4 L2034.8,1526.5 L2035.7,1528.7 L2036.7,1530.8 L2037.6,1532.9 L2038.6,1535.0 L2039.5,1537.2 L2040.5,1539.3 L2041.5,1541.4 L2042.5,1543.4 L2043.6,1545.5 L2044.6,1547.6 L2045.7,1549.7 L2046.7,1551.7 L2047.8,1553.8 L2048.9,1555.8 L2050.0,1557.8 L2051.2,1559.9 L2052.3,1561.9 L2053.4,1563.9 L2054.6,1565.9 L2055.8,1567.9 L2057.0,1569.8 L2058.2,1571.8 L2059.5,1573.8 L2060.7,1575.7 L2062.0,1577.6 L2063.3,1579.6 L2064.6,1581.5 L2065.9,1583.4 L2067.2,1585.3 L2068.6,1587.1 L2069.9,1589.0 L2071.3,1590.8 L2072.7,1592.7 L2074.2,1594.5 L2075.6,1596.3 L2077.1,1598.1 L2078.5,1599.9 L2080.0,1601.7 L2081.5,1603.5 L2083.1,1605.2 L2084.6,1607.0 L2086.2,1608.7 L2087.8,1610.4 L2089.4,1612.1 L2091.0,1613.8 L2092.6,1615.4 L2094.3,1617.1 L2095.9,1618.7 L2097.6,1620.3 L2099.3,1621.9 L2101.0,1623.5 L2102.8,1625.0 L2104.5,1626.6 L2106.3,1628.1 L2108.1,1629.6 L2109.8,1631.1 L2111.7,1632.5 L2113.5,1634.0 L2115.3,1635.4 L2117.2,1636.8 L2119.0,1638.1 L2120.9,1639.5 L2122.8,1640.8 L2124.7,1642.1 L2126.6,1643.4 L2128.6,1644.7 L2130.5,1645.9 L2132.5,1647.1 L2134.5,1648.3 L2136.5,1649.5 L2138.5,1650.6 L2140.5,1651.7 L2142.5,1652.8 L2144.5,1653.9 L2146.6,1654.9 L2148.7,1655.9 L2150.7,1656.9 L2152.8,1657.8 L2154.9,1658.8 L2157.0,1659.7 L2159.2,1660.5 L2161.3,1661.4 L2163.4,1662.2 L2165.6,1662.9 L2167.8,1663.7 L2169.9,1664.4 L2172.1,1665.1 L2174.3,1665.7 L2176.5,1666.4 L2178.7,1667.0 L2181.0,1667.6 L2183.2,1668.1 L2185.5,1668.6 L2187.7,1669.1 L2190.0,1669.6 L2192.2,1670.0 L2194.5,1670.5 L2196.8,1670.9 L2199.1,1671.2 L2201.4,1671.6 L2203.7,1671.9 L2206.0,1672.2 L2208.3,1672.5 L2210.7,1672.8 L2213.0,1673.1 L2215.3,1673.3 L2217.7,1673.5 L2220.0,1673.7 L2222.4,1673.9 L2224.7,1674.0 L2227.1,1674.2 L2229.5,1674.3 L2231.8,1674.5 L2234.2,1674.6 L2236.6,1674.7 L2239.0,1674.7 L2241.4,1674.8 L2243.8,1674.9 L2246.1,1674.9 L2248.5,1674.9 L2250.9,1675.0 L2253.3,1675.0 L2255.7,1675.0 L2258.1,1675.0 L2260.5,1675.0 L2262.9,1674.9 L2265.3,1674.9 L2267.7,1674.9 L2270.1,1674.9 L2272.5,1674.8 L2274.9,1674.8 L2277.3,1674.7 L2279.7,1674.7 L2282.1,1674.6 L2284.5,1674.6 L2286.9,1674.5 L2289.3,1674.4 L2291.7,1674.4 L2294.1,1674.3 L2296.4,1674.3 L2298.8,1674.2 L2301.2,1674.2 L2303.6,1674.1 L2305.9,1674.1 L2308.3,1674.0 L2310.7,1674.0 L2313.0,1673.9 L2315.4,1673.9 L2317.7,1673.9 L2320.1,1673.9 L2322.4,1673.9 L2324.7,1673.9 L2327.0,1673.9 L2329.4,1673.9 L2331.7,1673.9 L2334.0,1673.9 L2336.3,1674.0 L2338.6,1674.0 L2340.8,1674.1 L2343.1,1674.2 L2345.4,1674.3 L2347.6,1674.4 L2349.9,1674.5 L2352.1,1674.6 L2354.4,1674.8 L2356.6,1675.0 L2358.8,1675.2 L2361.0,1675.4 L2363.2,1675.6 L2365.4,1675.8 L2367.6,1676.1 L2369.7,1676.3" fill="none" stroke="#0000ff" stroke-width="7" stroke-linejoin="round"/>
<circle cx="369.5" cy="1675.0" r="16.60" fill="#fff" stroke="#3a3aff" stroke-width="2.8"/>
<circle cx="461.0" cy="1666.3" r="16.60" fill="#fff" stroke="#3a3aff" stroke-width="2.8"/>
<circle cx="596.7" cy="1652.0" r="16.60" fill="#fff" stroke="#3a3aff" stroke-width="2.8"/>
<circle cx="671.4" cy="1639.3" r="16.60" fill="#fff" stroke="#3a3aff" stroke-width="2.8"/>
<circle cx="761.5" cy="1626.8" r="16.60" fill="#fff" stroke="#3a3aff" stroke-width="2.8"/>
<circle cx="862.3" cy="1610.5" r="16.60" fill="#fff" stroke="#3a3aff" stroke-width="2.8"/>
<circle cx="968.0" cy="1594.2" r="16.60" fill="#fff" stroke="#3a3aff" stroke-width="2.8"/>
<circle cx="1073.0" cy="1574.7" r="16.60" fill="#fff" stroke="#3a3aff" stroke-width="2.8"/>
<circle cx="1173.5" cy="1536.4" r="16.60" fill="#fff" stroke="#3a3aff" stroke-width="2.8"/>
<circle cx="1269.1" cy="1477.8" r="16.60" fill="#fff" stroke="#3a3aff" stroke-width="2.8"/>
<circle cx="1364.7" cy="1396.1" r="16.60" fill="#fff" stroke="#3a3aff" stroke-width="2.8"/>
<circle cx="1464.8" cy="1238.9" r="16.60" fill="#fff" stroke="#3a3aff" stroke-width="2.8"/>
<circle cx="1565.0" cy="1066.5" r="16.60" fill="#fff" stroke="#3a3aff" stroke-width="2.8"/>
<circle cx="1665.4" cy="749.7" r="16.60" fill="#fff" stroke="#3a3aff" stroke-width="2.8"/>
<circle cx="1771.1" cy="420.6" r="16.60" fill="#fff" stroke="#3a3aff" stroke-width="2.8"/>
<circle cx="1876.6" cy="707.5" r="16.60" fill="#fff" stroke="#3a3aff" stroke-width="2.8"/>
<circle cx="1966.2" cy="1325.2" r="16.60" fill="#fff" stroke="#3a3aff" stroke-width="2.8"/>
<circle cx="2067.0" cy="1625.4" r="16.60" fill="#fff" stroke="#3a3aff" stroke-width="2.8"/>
<circle cx="2195.0" cy="1675.0" r="16.60" fill="#fff" stroke="#3a3aff" stroke-width="2.8"/>
<circle cx="2268.0" cy="1675.5" r="16.60" fill="#fff" stroke="#3a3aff" stroke-width="2.8"/>
<circle cx="2368.0" cy="1675.5" r="16.60" fill="#fff" stroke="#3a3aff" stroke-width="2.8"/>
<path d="M360.7,1573.1 L362.2,1571.3 L363.8,1569.5 L365.3,1567.8 L366.9,1566.0 L368.5,1564.2 L370.1,1562.5 L371.7,1560.7 L373.3,1559.0 L374.9,1557.2 L376.6,1555.5 L378.2,1553.8 L379.8,1552.0 L381.5,1550.3 L383.1,1548.6 L384.8,1546.9 L386.5,1545.2 L388.2,1543.4 L389.8,1541.7 L391.5,1540.0 L393.2,1538.3 L394.9,1536.6 L396.6,1534.9 L398.3,1533.3 L400.0,1531.6 L401.8,1529.9 L403.5,1528.2 L405.2,1526.5 L406.9,1524.8 L408.7,1523.2 L410.4,1521.5 L412.1,1519.8 L413.9,1518.2 L415.6,1516.5 L417.3,1514.9 L419.1,1513.2 L420.8,1511.6 L422.6,1509.9 L424.3,1508.3 L426.1,1506.6 L427.8,1505.0 L429.6,1503.3 L431.3,1501.7 L433.1,1500.0 L434.8,1498.4 L436.5,1496.8 L438.3,1495.1 L440.0,1493.5 L441.8,1491.9 L443.5,1490.2 L445.2,1488.6 L447.0,1487.0 L448.7,1485.3 L450.4,1483.7 L452.2,1482.1 L453.9,1480.5 L455.6,1478.8 L457.3,1477.2 L459.0,1475.6 L460.7,1474.0 L462.4,1472.3 L464.1,1470.7 L465.8,1469.1 L467.5,1467.5 L469.2,1465.8 L470.9,1464.2 L472.6,1462.6 L474.2,1461.0 L475.9,1459.3 L477.6,1457.7 L479.2,1456.0 L480.9,1454.4 L482.5,1452.7 L484.2,1451.0 L485.8,1449.3 L487.5,1447.7 L489.1,1446.0 L490.8,1444.3 L492.4,1442.5 L494.0,1440.8 L495.7,1439.1 L497.3,1437.3 L498.9,1435.6 L500.6,1433.8 L502.2,1432.0 L503.8,1430.2 L505.5,1428.4 L507.1,1426.5 L508.7,1424.7 L510.3,1422.8 L511.9,1420.9 L513.6,1419.0 L515.2,1417.1 L516.8,1415.2 L518.5,1413.3 L520.1,1411.4 L521.8,1409.6 L523.4,1407.7 L525.1,1405.9 L526.8,1404.0 L528.5,1402.3 L530.2,1400.5 L532.0,1398.8 L533.8,1397.2 L535.6,1395.6 L537.4,1394.0 L539.3,1392.5 L541.1,1391.1 L543.0,1389.7 L545.0,1388.4 L546.9,1387.1 L548.9,1385.9 L550.9,1384.7 L552.9,1383.6 L554.9,1382.5 L557.0,1381.5 L559.1,1380.5 L561.2,1379.6 L563.3,1378.7 L565.4,1377.8 L567.6,1377.0 L569.7,1376.3 L571.9,1375.5 L574.1,1374.8 L576.3,1374.2 L578.6,1373.6 L580.8,1373.0 L583.1,1372.5 L585.4,1371.9 L587.7,1371.5 L590.0,1371.0 L592.3,1370.6 L594.6,1370.2 L596.9,1369.9 L599.3,1369.6 L601.6,1369.3 L604.0,1369.0 L606.4,1368.7 L608.8,1368.5 L611.2,1368.3 L613.6,1368.1 L616.0,1368.0 L618.4,1367.8 L620.8,1367.7 L623.2,1367.6 L625.6,1367.5 L628.0,1367.5 L630.5,1367.4 L632.9,1367.4 L635.3,1367.4 L637.8,1367.4 L640.2,1367.4 L642.7,1367.4 L645.1,1367.4 L647.5,1367.4 L650.0,1367.4 L652.4,1367.5 L654.8,1367.5 L657.3,1367.6 L659.7,1367.6 L662.1,1367.7 L664.5,1367.7 L666.9,1367.8 L669.4,1367.9 L671.8,1367.9 L674.2,1368.0 L676.6,1368.1 L678.9,1368.1 L681.3,1368.2 L683.7,1368.3 L686.1,1368.4 L688.5,1368.5 L690.9,1368.5 L693.2,1368.6 L695.6,1368.7 L698.0,1368.8 L700.4,1369.0 L702.7,1369.1 L705.1,1369.2 L707.5,1369.3 L709.8,1369.4 L712.2,1369.6 L714.5,1369.7 L716.9,1369.9 L719.3,1370.0 L721.6,1370.2 L724.0,1370.4 L726.3,1370.6 L728.7,1370.8 L731.0,1371.0 L733.4,1371.2 L735.8,1371.4 L738.1,1371.6 L740.5,1371.9 L742.8,1372.1 L745.2,1372.4 L747.6,1372.7 L749.9,1372.9 L752.3,1373.2 L754.7,1373.5 L757.0,1373.8 L759.4,1374.2 L761.8,1374.5 L764.1,1374.9 L766.5,1375.2 L768.9,1375.6 L771.3,1376.0 L773.7,1376.4 L776.0,1376.8 L778.4,1377.2 L780.8,1377.6 L783.2,1378.0 L785.6,1378.4 L788.0,1378.8 L790.3,1379.2 L792.7,1379.6 L795.1,1380.0 L797.5,1380.4 L799.9,1380.7 L802.3,1381.1 L804.6,1381.5 L807.0,1381.8 L809.4,1382.2 L811.8,1382.5 L814.1,1382.8 L816.5,1383.1 L818.9,1383.4 L821.2,1383.6 L823.6,1383.9 L826.0,1384.1 L828.3,1384.3 L830.7,1384.4 L833.0,1384.6 L835.4,1384.7 L837.7,1384.8 L840.0,1384.8 L842.3,1384.9 L844.7,1384.9 L847.0,1384.8 L849.3,1384.7 L851.6,1384.6 L853.9,1384.5 L856.2,1384.3 L858.5,1384.1 L860.8,1383.8 L863.0,1383.5 L865.3,1383.2 L867.6,1382.8 L869.9,1382.4 L872.2,1382.0 L874.5,1381.5 L876.8,1381.0 L879.1,1380.5 L881.4,1380.0 L883.7,1379.5 L886.0,1378.9 L888.4,1378.3 L890.7,1377.7 L893.0,1377.0 L895.3,1376.3 L897.6,1375.6 L899.9,1374.9 L902.2,1374.1 L904.5,1373.3 L906.8,1372.5 L909.1,1371.6 L911.3,1370.7 L913.5,1369.8 L915.8,1368.8 L917.9,1367.8 L920.1,1366.7 L922.3,1365.7 L924.4,1364.5 L926.5,1363.4 L928.5,1362.2 L930.6,1361.0 L932.5,1359.7 L934.5,1358.4 L936.5,1357.0 L938.4,1355.6 L940.2,1354.2 L942.1,1352.7 L943.9,1351.2 L945.6,1349.7 L947.4,1348.1 L949.1,1346.5 L950.7,1344.9 L952.4,1343.2 L954.0,1341.5 L955.6,1339.8 L957.2,1338.0 L958.7,1336.2 L960.2,1334.4 L961.7,1332.6 L963.2,1330.7 L964.6,1328.8 L966.0,1326.9 L967.4,1325.0 L968.8,1323.1 L970.2,1321.1 L971.5,1319.2 L972.9,1317.2 L974.2,1315.2 L975.5,1313.2 L976.8,1311.1 L978.1,1309.1 L979.3,1307.1 L980.6,1305.0 L981.8,1302.9 L983.1,1300.9 L984.3,1298.8 L985.5,1296.7 L986.8,1294.6 L988.0,1292.5 L989.2,1290.5 L990.4,1288.4 L991.6,1286.3 L992.8,1284.2 L994.0,1282.1 L995.2,1280.0 L996.4,1277.9 L997.6,1275.9 L998.8,1273.8 L1000.0,1271.7 L1001.2,1269.6 L1002.4,1267.5 L1003.6,1265.4 L1004.7,1263.3 L1005.9,1261.2 L1007.1,1259.1 L1008.2,1257.0 L1009.4,1254.9 L1010.5,1252.8 L1011.7,1250.7 L1012.8,1248.6 L1013.9,1246.5 L1015.0,1244.4 L1016.1,1242.3 L1017.2,1240.2 L1018.3,1238.0 L1019.4,1235.9 L1020.5,1233.8 L1021.6,1231.7 L1022.6,1229.5 L1023.7,1227.4 L1024.7,1225.3 L1025.8,1223.1 L1026.8,1221.0 L1027.8,1218.8 L1028.8,1216.7 L1029.8,1214.5 L1030.8,1212.4 L1031.8,1210.2 L1032.8,1208.0 L1033.8,1205.9 L1034.7,1203.7 L1035.7,1201.5 L1036.6,1199.3 L1037.6,1197.1 L1038.5,1195.0 L1039.4,1192.8 L1040.4,1190.6 L1041.3,1188.4 L1042.2,1186.2 L1043.1,1184.0 L1044.0,1181.8 L1044.9,1179.6 L1045.7,1177.4 L1046.6,1175.2 L1047.5,1172.9 L1048.3,1170.7 L1049.2,1168.5 L1050.0,1166.3 L1050.9,1164.1 L1051.7,1161.8 L1052.5,1159.6 L1053.3,1157.4 L1054.2,1155.2 L1055.0,1152.9 L1055.8,1150.7 L1056.6,1148.4 L1057.4,1146.2 L1058.1,1143.9 L1058.9,1141.7 L1059.7,1139.5 L1060.5,1137.2 L1061.2,1134.9 L1062.0,1132.7 L1062.7,1130.4 L1063.5,1128.2 L1064.2,1125.9 L1065.0,1123.6 L1065.7,1121.4 L1066.4,1119.1 L1067.2,1116.8 L1067.9,1114.6 L1068.6,1112.3 L1069.3,1110.0 L1070.0,1107.7 L1070.7,1105.5 L1071.4,1103.2 L1072.1,1100.9 L1072.8,1098.6 L1073.5,1096.3 L1074.2,1094.0 L1074.8,1091.8 L1075.5,1089.5 L1076.2,1087.2 L1076.8,1084.9 L1077.5,1082.6 L1078.2,1080.3 L1078.8,1078.0 L1079.5,1075.7 L1080.1,1073.4 L1080.8,1071.1 L1081.4,1068.8 L1082.0,1066.5 L1082.7,1064.2 L1083.3,1061.9 L1083.9,1059.6 L1084.6,1057.3 L1085.2,1055.0 L1085.8,1052.7 L1086.4,1050.4 L1087.1,1048.0 L1087.7,1045.7 L1088.3,1043.4 L1088.9,1041.1 L1089.5,1038.8 L1090.1,1036.5 L1090.7,1034.2 L1091.3,1031.9 L1091.9,1029.5 L1092.5,1027.2 L1093.1,1024.9 L1093.7,1022.6 L1094.3,1020.3 L1094.9,1017.9 L1095.5,1015.6 L1096.1,1013.3 L1096.7,1011.0 L1097.3,1008.7 L1097.9,1006.4 L1098.4,1004.0 L1099.0,1001.7 L1099.6,999.4 L1100.2,997.1 L1100.8,994.7 L1101.4,992.4 L1102.0,990.1 L1102.5,987.8 L1103.1,985.5 L1103.7,983.1 L1104.3,980.8 L1104.9,978.5 L1105.4,976.2 L1106.0,973.9 L1106.6,971.5 L1107.2,969.2 L1107.8,966.9 L1108.4,964.6 L1108.9,962.3 L1109.5,959.9 L1110.1,957.6 L1110.7,955.3 L1111.3,953.0 L1111.9,950.7 L1112.4,948.3 L1113.0,946.0 L1113.6,943.7 L1114.2,941.4 L1114.8,939.1 L1115.4,936.8 L1116.0,934.5 L1116.6,932.1 L1117.2,929.8 L1117.8,927.5 L1118.4,925.2 L1119.0,922.9 L1119.6,920.6 L1120.2,918.3 L1120.8,916.0 L1121.4,913.7 L1122.0,911.3 L1122.6,909.0 L1123.2,906.7 L1123.8,904.4 L1124.4,902.1 L1125.0,899.8 L1125.7,897.5 L1126.3,895.2 L1126.9,892.9 L1127.5,890.6 L1128.1,888.3 L1128.8,886.0 L1129.4,883.7 L1130.0,881.4 L1130.7,879.1 L1131.3,876.8 L1131.9,874.5 L1132.6,872.2 L1133.2,869.9 L1133.9,867.6 L1134.5,865.3 L1135.2,863.1 L1135.8,860.8 L1136.5,858.5 L1137.1,856.2 L1137.8,853.9 L1138.4,851.6 L1139.1,849.3 L1139.8,847.0 L1140.4,844.8 L1141.1,842.5 L1141.8,840.2 L1142.5,837.9 L1143.2,835.6 L1143.8,833.3 L1144.5,831.1 L1145.2,828.8 L1145.9,826.5 L1146.6,824.2 L1147.3,822.0 L1148.0,819.7 L1148.7,817.4 L1149.5,815.2 L1150.2,812.9 L1150.9,810.6 L1151.6,808.3 L1152.3,806.1 L1153.1,803.8 L1153.8,801.6 L1154.6,799.3 L1155.3,797.0 L1156.0,794.8 L1156.8,792.5 L1157.5,790.3 L1158.3,788.0 L1159.0,785.7 L1159.8,783.5 L1160.6,781.2 L1161.3,779.0 L1162.1,776.7 L1162.8,774.4 L1163.6,772.2 L1164.3,769.9 L1165.0,767.6 L1165.8,765.4 L1166.5,763.1 L1167.2,760.8 L1167.9,758.6 L1168.6,756.3 L1169.3,754.0 L1170.0,751.7 L1170.7,749.4 L1171.3,747.2 L1172.0,744.9 L1172.6,742.6 L1173.3,740.3 L1173.9,738.0 L1174.5,735.7 L1175.2,733.4 L1175.8,731.1 L1176.4,728.7 L1177.0,726.4 L1177.6,724.1 L1178.2,721.8 L1178.8,719.5 L1179.4,717.2 L1179.9,714.9 L1180.5,712.5 L1181.1,710.2 L1181.7,707.9 L1182.3,705.6 L1182.8,703.3 L1183.4,700.9 L1184.0,698.6 L1184.6,696.3 L1185.1,694.0 L1185.7,691.7 L1186.3,689.4 L1186.9,687.0 L1187.5,684.7 L1188.1,682.4 L1188.7,680.1 L1189.2,677.8 L1189.8,675.5 L1190.5,673.2 L1191.1,670.9 L1191.7,668.6 L1192.3,666.3 L1192.9,664.0 L1193.6,661.7 L1194.2,659.4 L1194.9,657.1 L1195.5,654.8 L1196.2,652.5 L1196.9,650.2 L1197.6,648.0 L1198.3,645.7 L1199.0,643.4 L1199.7,641.2 L1200.4,638.9 L1201.2,636.6 L1201.9,634.4 L1202.7,632.2 L1203.5,629.9 L1204.3,627.7 L1205.1,625.4 L1205.9,623.2 L1206.8,621.0 L1207.6,618.8 L1208.5,616.6 L1209.4,614.4 L1210.2,612.1 L1211.1,609.9 L1212.0,607.7 L1212.9,605.5 L1213.9,603.3 L1214.8,601.2 L1215.7,599.0 L1216.6,596.8 L1217.6,594.6 L1218.5,592.4 L1219.4,590.2 L1220.4,588.0 L1221.3,585.8 L1222.3,583.6 L1223.2,581.4 L1224.2,579.2 L1225.1,577.0 L1226.1,574.8 L1227.0,572.6 L1228.0,570.4 L1228.9,568.2 L1229.8,566.0 L1230.7,563.8 L1231.7,561.5 L1232.6,559.3 L1233.5,557.1 L1234.4,554.9 L1235.3,552.6 L1236.2,550.4 L1237.1,548.1 L1237.9,545.9 L1238.8,543.7 L1239.7,541.4 L1240.6,539.2 L1241.5,536.9 L1242.4,534.7 L1243.3,532.5 L1244.2,530.3 L1245.2,528.0 L1246.1,525.8 L1247.1,523.6 L1248.1,521.5 L1249.1,519.3 L1250.1,517.1 L1251.1,515.0 L1252.2,512.9 L1253.3,510.7 L1254.4,508.6 L1255.5,506.6 L1256.7,504.5 L1257.9,502.4 L1259.1,500.4 L1260.4,498.4 L1261.7,496.4 L1263.0,494.5 L1264.4,492.5 L1265.8,490.6 L1267.3,488.8 L1268.8,486.9 L1270.3,485.1 L1271.9,483.3 L1273.6,481.5 L1275.3,479.8 L1277.0,478.1 L1278.8,476.4 L1280.7,474.8 L1282.6,473.2 L1284.5,471.7 L1286.5,470.2 L1288.6,468.8 L1290.6,467.5 L1292.7,466.3 L1294.9,465.3 L1297.0,464.3 L1299.2,463.5 L1301.3,462.8 L1303.5,462.3 L1305.7,461.9 L1307.9,461.8 L1310.1,461.8 L1312.2,462.0 L1314.4,462.4 L1316.5,463.0 L1318.6,463.7 L1320.7,464.5 L1322.7,465.5 L1324.7,466.7 L1326.6,467.9 L1328.5,469.3 L1330.3,470.8 L1332.1,472.4 L1333.8,474.1 L1335.4,475.8 L1336.9,477.7 L1338.3,479.6 L1339.7,481.6 L1341.0,483.7 L1342.3,485.8 L1343.5,487.9 L1344.6,490.1 L1345.7,492.3 L1346.8,494.5 L1347.8,496.8 L1348.8,499.0 L1349.8,501.3 L1350.8,503.5 L1351.8,505.8 L1352.8,508.1 L1353.7,510.3 L1354.6,512.6 L1355.6,514.8 L1356.5,517.1 L1357.4,519.3 L1358.3,521.6 L1359.1,523.8 L1360.0,526.1 L1360.8,528.3 L1361.7,530.6 L1362.5,532.9 L1363.3,535.1 L1364.1,537.4 L1364.9,539.6 L1365.7,541.9 L1366.5,544.1 L1367.3,546.4 L1368.0,548.7 L1368.8,550.9 L1369.5,553.2 L1370.3,555.4 L1371.0,557.7 L1371.7,560.0 L1372.4,562.2 L1373.1,564.5 L1373.8,566.8 L1374.5,569.0 L1375.2,571.3 L1375.9,573.6 L1376.6,575.9 L1377.3,578.1 L1377.9,580.4 L1378.6,582.7 L1379.2,585.0 L1379.9,587.2 L1380.5,589.5 L1381.2,591.8 L1381.8,594.1 L1382.5,596.4 L1383.1,598.7 L1383.7,601.0 L1384.4,603.3 L1385.0,605.5 L1385.6,607.8 L1386.2,610.1 L1386.8,612.4 L1387.4,614.7 L1388.0,617.0 L1388.6,619.3 L1389.2,621.6 L1389.8,624.0 L1390.4,626.3 L1391.0,628.6 L1391.6,630.9 L1392.1,633.2 L1392.7,635.5 L1393.3,637.8 L1393.9,640.1 L1394.4,642.4 L1395.0,644.8 L1395.5,647.1 L1396.1,649.4 L1396.7,651.7 L1397.2,654.0 L1397.8,656.4 L1398.3,658.7 L1398.8,661.0 L1399.4,663.3 L1399.9,665.7 L1400.5,668.0 L1401.0,670.3 L1401.5,672.6 L1402.1,675.0 L1402.6,677.3 L1403.1,679.6 L1403.6,682.0 L1404.1,684.3 L1404.7,686.6 L1405.2,689.0 L1405.7,691.3 L1406.2,693.6 L1406.7,696.0 L1407.2,698.3 L1407.7,700.6 L1408.2,703.0 L1408.7,705.3 L1409.2,707.6 L1409.7,710.0 L1410.2,712.3 L1410.7,714.7 L1411.2,717.0 L1411.7,719.3 L1412.2,721.7 L1412.7,724.0 L1413.2,726.4 L1413.7,728.7 L1414.2,731.0 L1414.7,733.4 L1415.2,735.7 L1415.6,738.1 L1416.1,740.4 L1416.6,742.8 L1417.1,745.1 L1417.6,747.4 L1418.1,749.8 L1418.5,752.1 L1419.0,754.5 L1419.5,756.8 L1420.0,759.2 L1420.5,761.5 L1420.9,763.8 L1421.4,766.2 L1421.9,768.5 L1422.4,770.9 L1422.9,773.2 L1423.3,775.6 L1423.8,777.9 L1424.3,780.2 L1424.8,782.6 L1425.3,784.9 L1425.7,787.3 L1426.2,789.6 L1426.7,791.9 L1427.2,794.3 L1427.6,796.6 L1428.1,799.0 L1428.6,801.3 L1429.1,803.7 L1429.5,806.0 L1430.0,808.3 L1430.5,810.7 L1431.0,813.0 L1431.4,815.4 L1431.9,817.7 L1432.4,820.0 L1432.9,822.4 L1433.3,824.7 L1433.8,827.1 L1434.3,829.4 L1434.8,831.7 L1435.2,834.1 L1435.7,836.4 L1436.2,838.8 L1436.7,841.1 L1437.1,843.4 L1437.6,845.8 L1438.1,848.1 L1438.6,850.5 L1439.0,852.8 L1439.5,855.1 L1440.0,857.5 L1440.5,859.8 L1440.9,862.2 L1441.4,864.5 L1441.9,866.8 L1442.4,869.2 L1442.8,871.5 L1443.3,873.8 L1443.8,876.2 L1444.2,878.5 L1444.7,880.9 L1445.2,883.2 L1445.7,885.5 L1446.1,887.9 L1446.6,890.2 L1447.1,892.6 L1447.6,894.9 L1448.0,897.2 L1448.5,899.6 L1449.0,901.9 L1449.5,904.2 L1449.9,906.6 L1450.4,908.9 L1450.9,911.3 L1451.4,913.6 L1451.8,915.9 L1452.3,918.3 L1452.8,920.6 L1453.2,922.9 L1453.7,925.3 L1454.2,927.6 L1454.7,930.0 L1455.1,932.3 L1455.6,934.6 L1456.1,937.0 L1456.6,939.3 L1457.0,941.6 L1457.5,944.0 L1458.0,946.3 L1458.5,948.7 L1458.9,951.0 L1459.4,953.3 L1459.9,955.7 L1460.4,958.0 L1460.8,960.3 L1461.3,962.7 L1461.8,965.0 L1462.3,967.3 L1462.8,969.7 L1463.2,972.0 L1463.7,974.3 L1464.2,976.7 L1464.7,979.0 L1465.1,981.4 L1465.6,983.7 L1466.1,986.0 L1466.6,988.4 L1467.1,990.7 L1467.5,993.0 L1468.0,995.4 L1468.5,997.7 L1469.0,1000.0 L1469.4,1002.4 L1469.9,1004.7 L1470.4,1007.0 L1470.9,1009.4 L1471.4,1011.7 L1471.8,1014.1 L1472.3,1016.4 L1472.8,1018.7 L1473.3,1021.1 L1473.8,1023.4 L1474.3,1025.7 L1474.7,1028.1 L1475.2,1030.4 L1475.7,1032.7 L1476.2,1035.1 L1476.7,1037.4 L1477.2,1039.7 L1477.6,1042.1 L1478.1,1044.4 L1478.6,1046.7 L1479.1,1049.1 L1479.6,1051.4 L1480.1,1053.7 L1480.6,1056.1 L1481.0,1058.4 L1481.5,1060.7 L1482.0,1063.1 L1482.5,1065.4 L1483.0,1067.8 L1483.5,1070.1 L1484.0,1072.4 L1484.5,1074.8 L1485.0,1077.1 L1485.4,1079.4 L1485.9,1081.8 L1486.4,1084.1 L1486.9,1086.4 L1487.4,1088.8 L1487.9,1091.1 L1488.4,1093.4 L1488.9,1095.8 L1489.4,1098.1 L1489.9,1100.4 L1490.4,1102.8 L1490.9,1105.1 L1491.4,1107.4 L1491.9,1109.8 L1492.4,1112.1 L1492.9,1114.4 L1493.4,1116.8 L1493.9,1119.1 L1494.4,1121.4 L1494.9,1123.8 L1495.4,1126.1 L1495.9,1128.4 L1496.4,1130.8 L1496.9,1133.1 L1497.4,1135.4 L1497.9,1137.8 L1498.4,1140.1 L1498.9,1142.4 L1499.4,1144.8 L1499.9,1147.1 L1500.4,1149.4 L1500.9,1151.8 L1501.4,1154.1 L1501.9,1156.4 L1502.4,1158.8 L1502.9,1161.1 L1503.4,1163.4 L1503.9,1165.8 L1504.5,1168.1 L1505.0,1170.4 L1505.5,1172.8 L1506.0,1175.1 L1506.5,1177.4 L1507.0,1179.8 L1507.5,1182.1 L1508.0,1184.4 L1508.6,1186.8 L1509.1,1189.1 L1509.6,1191.4 L1510.1,1193.8 L1510.6,1196.1 L1511.1,1198.4 L1511.7,1200.8 L1512.2,1203.1 L1512.7,1205.4 L1513.2,1207.8 L1513.7,1210.1 L1514.3,1212.4 L1514.8,1214.8 L1515.3,1217.1 L1515.8,1219.4 L1516.4,1221.8 L1516.9,1224.1 L1517.4,1226.4 L1517.9,1228.8 L1518.5,1231.1 L1519.0,1233.4 L1519.5,1235.8 L1520.1,1238.1 L1520.6,1240.4 L1521.1,1242.8 L1521.7,1245.1 L1522.2,1247.4 L1522.7,1249.8 L1523.3,1252.1 L1523.8,1254.4 L1524.3,1256.8 L1524.9,1259.1 L1525.4,1261.4 L1526.0,1263.8 L1526.5,1266.1 L1527.0,1268.4 L1527.6,1270.8 L1528.1,1273.1 L1528.7,1275.4 L1529.2,1277.7 L1529.8,1280.1 L1530.4,1282.4 L1530.9,1284.7 L1531.5,1287.1 L1532.0,1289.4 L1532.6,1291.7 L1533.2,1294.0 L1533.7,1296.4 L1534.3,1298.7 L1534.9,1301.0 L1535.5,1303.3 L1536.0,1305.6 L1536.6,1308.0 L1537.2,1310.3 L1537.8,1312.6 L1538.4,1314.9 L1539.0,1317.2 L1539.6,1319.5 L1540.2,1321.9 L1540.8,1324.2 L1541.4,1326.5 L1542.0,1328.8 L1542.6,1331.1 L1543.2,1333.4 L1543.9,1335.7 L1544.5,1338.0 L1545.1,1340.3 L1545.7,1342.6 L1546.4,1344.9 L1547.0,1347.2 L1547.7,1349.5 L1548.3,1351.8 L1549.0,1354.1 L1549.6,1356.4 L1550.3,1358.7 L1550.9,1361.0 L1551.6,1363.3 L1552.3,1365.6 L1552.9,1367.9 L1553.6,1370.2 L1554.3,1372.4 L1555.0,1374.7 L1555.7,1377.0 L1556.4,1379.3 L1557.1,1381.6 L1557.8,1383.8 L1558.5,1386.1 L1559.2,1388.4 L1560.0,1390.6 L1560.7,1392.9 L1561.4,1395.2 L1562.2,1397.4 L1562.9,1399.7 L1563.7,1401.9 L1564.4,1404.2 L1565.2,1406.5 L1566.0,1408.7 L1566.7,1411.0 L1567.5,1413.2 L1568.3,1415.4 L1569.1,1417.7 L1569.9,1419.9 L1570.7,1422.2 L1571.5,1424.4 L1572.3,1426.6 L1573.1,1428.9 L1573.9,1431.1 L1574.8,1433.3 L1575.6,1435.5 L1576.5,1437.7 L1577.3,1440.0 L1578.2,1442.2 L1579.0,1444.4 L1579.9,1446.6 L1580.8,1448.8 L1581.7,1451.0 L1582.6,1453.2 L1583.5,1455.4 L1584.4,1457.6 L1585.3,1459.8 L1586.2,1462.0 L1587.2,1464.2 L1588.1,1466.3 L1589.0,1468.5 L1590.0,1470.7 L1591.0,1472.9 L1591.9,1475.0 L1592.9,1477.2 L1593.9,1479.4 L1594.9,1481.5 L1595.9,1483.7 L1596.9,1485.8 L1597.9,1488.0 L1599.0,1490.1 L1600.0,1492.2 L1601.0,1494.4 L1602.1,1496.5 L1603.2,1498.6 L1604.2,1500.7 L1605.3,1502.8 L1606.4,1505.0 L1607.5,1507.1 L1608.6,1509.2 L1609.8,1511.3 L1610.9,1513.3 L1612.1,1515.4 L1613.2,1517.5 L1614.4,1519.6 L1615.6,1521.7 L1616.8,1523.7 L1618.0,1525.8 L1619.2,1527.8 L1620.4,1529.9 L1621.6,1531.9 L1622.9,1534.0 L1624.1,1536.0 L1625.4,1538.0 L1626.7,1540.0 L1628.0,1542.1 L1629.3,1544.1 L1630.6,1546.1 L1631.9,1548.1 L1633.2,1550.1 L1634.6,1552.0 L1636.0,1554.0 L1637.3,1556.0 L1638.7,1557.9 L1640.1,1559.9 L1641.5,1561.9 L1643.0,1563.8 L1644.4,1565.7 L1645.9,1567.7 L1647.3,1569.6 L1648.8,1571.5 L1650.3,1573.4 L1651.8,1575.3 L1653.4,1577.2 L1654.9,1579.1 L1656.4,1581.0 L1658.0,1582.8 L1659.6,1584.7 L1661.2,1586.5 L1662.8,1588.3 L1664.5,1590.1 L1666.2,1591.8 L1667.8,1593.6 L1669.6,1595.3 L1671.3,1597.0 L1673.0,1598.6 L1674.8,1600.2 L1676.6,1601.8 L1678.4,1603.4 L1680.3,1604.9 L1682.2,1606.4 L1684.1,1607.8 L1686.0,1609.2 L1688.0,1610.6 L1689.9,1611.9 L1691.9,1613.2 L1694.0,1614.5 L1696.0,1615.7 L1698.1,1616.9 L1700.1,1618.1 L1702.2,1619.2 L1704.3,1620.3 L1706.4,1621.4 L1708.6,1622.5 L1710.7,1623.5 L1712.8,1624.6 L1715.0,1625.6 L1717.2,1626.6 L1719.3,1627.5 L1721.5,1628.5 L1723.7,1629.4 L1725.8,1630.4 L1728.0,1631.3 L1730.2,1632.2 L1732.4,1633.0 L1734.6,1633.9 L1736.8,1634.7 L1739.1,1635.6 L1741.3,1636.4 L1743.5,1637.2 L1745.7,1637.9 L1748.0,1638.7 L1750.2,1639.4 L1752.5,1640.2 L1754.7,1640.9 L1757.0,1641.6 L1759.2,1642.3 L1761.5,1643.0 L1763.8,1643.6 L1766.0,1644.3 L1768.3,1644.9 L1770.6,1645.5 L1772.9,1646.2 L1775.2,1646.8 L1777.5,1647.3 L1779.8,1647.9 L1782.1,1648.5 L1784.4,1649.0 L1786.7,1649.6 L1789.0,1650.1 L1791.4,1650.6 L1793.7,1651.1 L1796.0,1651.6 L1798.3,1652.1 L1800.7,1652.6 L1803.0,1653.0 L1805.3,1653.5 L1807.7,1653.9 L1810.0,1654.4 L1812.4,1654.8 L1814.7,1655.2 L1817.1,1655.6 L1819.4,1656.0 L1821.8,1656.4 L1824.1,1656.8 L1826.5,1657.2 L1828.9,1657.6 L1831.2,1657.9 L1833.6,1658.3 L1836.0,1658.6 L1838.3,1659.0 L1840.7,1659.3 L1843.1,1659.6 L1845.5,1659.9 L1847.8,1660.3 L1850.2,1660.6 L1852.6,1660.9 L1855.0,1661.2 L1857.4,1661.5 L1859.7,1661.8 L1862.1,1662.0 L1864.5,1662.3 L1866.9,1662.6 L1869.3,1662.9 L1871.7,1663.1 L1874.0,1663.4 L1876.4,1663.7 L1878.8,1663.9 L1881.2,1664.2 L1883.6,1664.4 L1886.0,1664.7 L1888.4,1664.9 L1890.7,1665.2 L1893.1,1665.4 L1895.5,1665.7 L1897.9,1665.9 L1900.3,1666.1 L1902.7,1666.4 L1905.1,1666.6 L1907.4,1666.8 L1909.8,1667.1 L1912.2,1667.3 L1914.6,1667.5 L1917.0,1667.7 L1919.4,1668.0 L1921.7,1668.2 L1924.1,1668.4 L1926.5,1668.6 L1928.9,1668.8 L1931.3,1669.0 L1933.7,1669.2 L1936.0,1669.4 L1938.4,1669.6 L1940.8,1669.8 L1943.2,1670.0 L1945.6,1670.2 L1948.0,1670.4 L1950.3,1670.6 L1952.7,1670.8 L1955.1,1671.0 L1957.5,1671.2 L1959.9,1671.4 L1962.2,1671.6 L1964.6,1671.7 L1967.0,1671.9 L1969.4,1672.1 L1971.8,1672.3 L1974.2,1672.4 L1976.5,1672.6 L1978.9,1672.8 L1981.3,1673.0 L1983.7,1673.1 L1986.1,1673.3 L1988.4,1673.4 L1990.8,1673.6 L1993.2,1673.8 L1995.6,1673.9 L1998.0,1674.1 L2000.3,1674.2 L2002.7,1674.4 L2005.1,1674.5 L2007.5,1674.7 L2009.9,1674.8 L2012.2,1675.0 L2014.6,1675.1 L2017.0,1675.3 L2019.4,1675.4 L2021.8,1675.5 L2024.1,1675.7 L2026.5,1675.8 L2028.9,1675.9 L2031.3,1676.1 L2033.7,1676.2 L2036.0,1676.3 L2038.4,1676.4 L2040.8,1676.6 L2043.2,1676.7 L2045.5,1676.8 L2047.9,1676.9 L2050.3,1677.0 L2052.7,1677.2 L2055.1,1677.3 L2057.4,1677.4 L2059.8,1677.5 L2062.2,1677.6 L2064.6,1677.7 L2067.0,1677.8 L2069.3,1677.9 L2071.7,1678.0 L2074.1,1678.1 L2076.5,1678.2 L2078.9,1678.3 L2081.2,1678.4 L2083.6,1678.5 L2086.0,1678.6 L2088.4,1678.7 L2090.8,1678.8 L2093.1,1678.9 L2095.5,1679.0 L2097.9,1679.0 L2100.3,1679.1 L2102.7,1679.2 L2105.0,1679.3 L2107.4,1679.4 L2109.8,1679.5 L2112.2,1679.5 L2114.6,1679.6 L2116.9,1679.7 L2119.3,1679.8 L2121.7,1679.8 L2124.1,1679.9 L2126.5,1680.0 L2128.8,1680.0 L2131.2,1680.1 L2133.6,1680.2 L2136.0,1680.2 L2138.4,1680.3 L2140.7,1680.4 L2143.1,1680.4 L2145.5,1680.5 L2147.9,1680.5 L2150.3,1680.6 L2152.6,1680.7 L2155.0,1680.7 L2157.4,1680.8 L2159.8,1680.8 L2162.2,1680.9 L2164.5,1680.9 L2166.9,1681.0 L2169.3,1681.0 L2171.7,1681.1 L2174.1,1681.1 L2176.5,1681.2 L2178.8,1681.2 L2181.2,1681.2 L2183.6,1681.3 L2186.0,1681.3 L2188.4,1681.4 L2190.8,1681.4 L2193.1,1681.4 L2195.5,1681.5 L2197.9,1681.5 L2200.3,1681.5 L2202.7,1681.6 L2205.1,1681.6 L2207.4,1681.6 L2209.8,1681.7 L2212.2,1681.7 L2214.6,1681.7 L2217.0,1681.7 L2219.4,1681.8 L2221.7,1681.8 L2224.1,1681.8 L2226.5,1681.8 L2228.9,1681.9 L2231.3,1681.9 L2233.7,1681.9 L2236.1,1681.9 L2238.4,1681.9 L2240.8,1682.0 L2243.2,1682.0 L2245.6,1682.0 L2248.0,1682.0 L2250.4,1682.0 L2252.8,1682.0 L2255.2,1682.0 L2257.5,1682.1 L2259.9,1682.1 L2262.3,1682.1 L2264.7,1682.1 L2267.1,1682.1 L2269.5,1682.1 L2271.9,1682.1 L2274.3,1682.1 L2276.7,1682.1 L2279.0,1682.1 L2281.4,1682.1 L2283.8,1682.1 L2286.2,1682.1 L2288.6,1682.1 L2291.0,1682.1 L2293.4,1682.1 L2295.8,1682.1 L2298.2,1682.1 L2300.6,1682.1 L2303.0,1682.1 L2305.3,1682.1 L2307.7,1682.1 L2310.1,1682.1 L2312.5,1682.1 L2314.9,1682.1 L2317.3,1682.1 L2319.7,1682.1 L2322.1,1682.1 L2324.5,1682.1 L2326.9,1682.1 L2329.3,1682.1 L2331.7,1682.1 L2334.1,1682.1 L2336.5,1682.1 L2338.9,1682.0 L2341.3,1682.0 L2343.7,1682.0 L2346.1,1682.0 L2348.5,1682.0 L2350.9,1682.0 L2353.3,1682.0 L2355.7,1682.0 L2358.1,1681.9 L2360.5,1681.9 L2362.9,1681.9 L2365.3,1681.9 L2367.7,1681.9 L2370.1,1681.9" fill="none" stroke="#0000ff" stroke-width="7" stroke-linejoin="round"/>
<circle cx="360.5" cy="1573.5" r="18.0" fill="#0000ff"/>
<circle cx="461.0" cy="1475.5" r="18.0" fill="#0000ff"/>
<circle cx="561.2" cy="1358.6" r="18.0" fill="#0000ff"/>
<circle cx="661.2" cy="1370.8" r="18.0" fill="#0000ff"/>
<circle cx="760.5" cy="1371.5" r="18.0" fill="#0000ff"/>
<circle cx="862.7" cy="1393.0" r="18.0" fill="#0000ff"/>
<circle cx="963.0" cy="1362.7" r="18.0" fill="#0000ff"/>
<circle cx="1063.0" cy="1154.3" r="18.0" fill="#0000ff"/>
<circle cx="1164.0" cy="773.5" r="18.0" fill="#0000ff"/>
<circle cx="1263.6" cy="441.2" r="18.0" fill="#0000ff"/>
<circle cx="1364.7" cy="444.4" r="18.0" fill="#0000ff"/>
<circle cx="1464.6" cy="994.0" r="18.0" fill="#0000ff"/>
<circle cx="1563.3" cy="1472.0" r="18.0" fill="#0000ff"/>
<circle cx="1665.0" cy="1612.0" r="18.0" fill="#0000ff"/>
<circle cx="1766.1" cy="1645.0" r="18.0" fill="#0000ff"/>
<circle cx="1866.6" cy="1658.0" r="18.0" fill="#0000ff"/>
<circle cx="1966.9" cy="1684.0" r="18.0" fill="#0000ff"/>
<circle cx="2067.3" cy="1686.0" r="18.0" fill="#0000ff"/>
<circle cx="2167.7" cy="1688.0" r="18.0" fill="#0000ff"/>
<circle cx="2268.1" cy="1688.0" r="18.0" fill="#0000ff"/>
<circle cx="2368.5" cy="1688.0" r="18.0" fill="#0000ff"/>
<path d="M360.7,1611.4 L362.5,1610.4 L364.4,1609.5 L366.2,1608.5 L368.1,1607.5 L369.9,1606.6 L371.7,1605.6 L373.6,1604.6 L375.4,1603.7 L377.3,1602.7 L379.1,1601.7 L381.0,1600.7 L382.8,1599.8 L384.6,1598.8 L386.5,1597.8 L388.3,1596.8 L390.1,1595.8 L392.0,1594.8 L393.8,1593.9 L395.6,1592.9 L397.5,1591.9 L399.3,1590.9 L401.1,1589.9 L403.0,1588.9 L404.8,1587.9 L406.6,1586.9 L408.4,1585.8 L410.3,1584.8 L412.1,1583.8 L413.9,1582.8 L415.7,1581.8 L417.5,1580.7 L419.3,1579.7 L421.1,1578.7 L422.9,1577.6 L424.8,1576.6 L426.6,1575.6 L428.4,1574.5 L430.2,1573.5 L432.0,1572.4 L433.7,1571.4 L435.5,1570.3 L437.3,1569.2 L439.1,1568.1 L440.9,1567.1 L442.7,1566.0 L444.5,1564.9 L446.2,1563.8 L448.0,1562.7 L449.8,1561.6 L451.5,1560.5 L453.3,1559.4 L455.1,1558.3 L456.8,1557.2 L458.6,1556.1 L460.3,1554.9 L462.1,1553.8 L463.8,1552.7 L465.6,1551.5 L467.3,1550.4 L469.0,1549.2 L470.8,1548.0 L472.5,1546.9 L474.2,1545.7 L475.9,1544.5 L477.7,1543.3 L479.4,1542.1 L481.1,1540.9 L482.8,1539.7 L484.5,1538.5 L486.2,1537.3 L487.9,1536.1 L489.6,1534.9 L491.3,1533.6 L493.0,1532.4 L494.6,1531.2 L496.3,1529.9 L498.0,1528.7 L499.6,1527.4 L501.3,1526.1 L503.0,1524.9 L504.6,1523.6 L506.3,1522.3 L507.9,1521.0 L509.6,1519.8 L511.2,1518.5 L512.8,1517.2 L514.5,1515.9 L516.1,1514.5 L517.7,1513.2 L519.4,1511.9 L521.0,1510.6 L522.6,1509.2 L524.2,1507.9 L525.8,1506.6 L527.4,1505.2 L529.0,1503.9 L530.6,1502.5 L532.2,1501.2 L533.7,1499.8 L535.3,1498.4 L536.9,1497.0 L538.5,1495.7 L540.0,1494.3 L541.6,1492.9 L543.2,1491.6 L544.8,1490.2 L546.3,1488.8 L547.9,1487.5 L549.5,1486.1 L551.1,1484.8 L552.7,1483.5 L554.3,1482.2 L555.9,1480.9 L557.5,1479.6 L559.2,1478.3 L560.8,1477.1 L562.5,1475.8 L564.2,1474.6 L565.8,1473.5 L567.6,1472.3 L569.3,1471.2 L571.0,1470.1 L572.8,1469.0 L574.5,1467.9 L576.3,1466.9 L578.1,1465.9 L580.0,1464.9 L581.8,1464.0 L583.7,1463.1 L585.5,1462.2 L587.4,1461.3 L589.3,1460.5 L591.2,1459.7 L593.2,1458.9 L595.1,1458.1 L597.1,1457.4 L599.0,1456.7 L601.0,1456.0 L603.0,1455.4 L605.0,1454.8 L607.0,1454.2 L609.0,1453.6 L611.0,1453.1 L613.1,1452.6 L615.1,1452.1 L617.2,1451.6 L619.2,1451.2 L621.3,1450.8 L623.3,1450.4 L625.4,1450.0 L627.5,1449.7 L629.6,1449.4 L631.7,1449.1 L633.8,1448.8 L635.9,1448.6 L638.0,1448.4 L640.1,1448.2 L642.2,1448.1 L644.3,1447.9 L646.4,1447.8 L648.5,1447.7 L650.6,1447.7 L652.7,1447.7 L654.8,1447.6 L656.9,1447.7 L659.0,1447.7 L661.1,1447.8 L663.2,1447.8 L665.3,1448.0 L667.4,1448.1 L669.5,1448.3 L671.6,1448.4 L673.7,1448.6 L675.7,1448.9 L677.8,1449.1 L679.9,1449.4 L681.9,1449.7 L684.0,1450.0 L686.0,1450.4 L688.1,1450.7 L690.1,1451.1 L692.1,1451.5 L694.2,1451.9 L696.2,1452.4 L698.2,1452.8 L700.2,1453.3 L702.2,1453.8 L704.2,1454.3 L706.2,1454.9 L708.2,1455.4 L710.2,1456.0 L712.2,1456.6 L714.1,1457.2 L716.1,1457.8 L718.1,1458.4 L720.1,1459.0 L722.0,1459.7 L724.0,1460.4 L725.9,1461.0 L727.9,1461.7 L729.8,1462.4 L731.8,1463.2 L733.7,1463.9 L735.7,1464.6 L737.6,1465.4 L739.6,1466.1 L741.5,1466.9 L743.4,1467.6 L745.4,1468.4 L747.3,1469.2 L749.2,1470.0 L751.2,1470.8 L753.1,1471.6 L755.0,1472.4 L757.0,1473.2 L758.9,1474.1 L760.8,1474.9 L762.7,1475.7 L764.6,1476.5 L766.6,1477.4 L768.5,1478.2 L770.4,1479.1 L772.3,1479.9 L774.3,1480.7 L776.2,1481.6 L778.1,1482.4 L780.0,1483.3 L781.9,1484.1 L783.9,1485.0 L785.8,1485.8 L787.7,1486.6 L789.6,1487.5 L791.5,1488.3 L793.5,1489.1 L795.4,1490.0 L797.3,1490.8 L799.3,1491.6 L801.2,1492.4 L803.1,1493.2 L805.1,1494.0 L807.0,1494.8 L808.9,1495.6 L810.9,1496.4 L812.8,1497.1 L814.8,1497.9 L816.7,1498.6 L818.7,1499.4 L820.6,1500.1 L822.6,1500.8 L824.5,1501.6 L826.5,1502.3 L828.4,1503.0 L830.4,1503.7 L832.4,1504.3 L834.3,1505.0 L836.3,1505.7 L838.3,1506.3 L840.3,1507.0 L842.2,1507.6 L844.2,1508.2 L846.2,1508.8 L848.2,1509.4 L850.2,1510.0 L852.2,1510.6 L854.2,1511.2 L856.1,1511.7 L858.1,1512.3 L860.1,1512.8 L862.1,1513.4 L864.1,1513.9 L866.2,1514.4 L868.2,1514.9 L870.2,1515.4 L872.2,1515.8 L874.2,1516.3 L876.2,1516.8 L878.2,1517.2 L880.3,1517.6 L882.3,1518.0 L884.3,1518.4 L886.3,1518.8 L888.4,1519.2 L890.4,1519.6 L892.4,1519.9 L894.5,1520.3 L896.5,1520.6 L898.5,1520.9 L900.6,1521.2 L902.6,1521.5 L904.7,1521.8 L906.7,1522.1 L908.8,1522.3 L910.8,1522.6 L912.9,1522.8 L915.0,1523.0 L917.0,1523.2 L919.1,1523.4 L921.1,1523.6 L923.2,1523.7 L925.3,1523.9 L927.3,1524.0 L929.4,1524.1 L931.5,1524.2 L933.6,1524.3 L935.7,1524.4 L937.7,1524.4 L939.8,1524.5 L941.9,1524.5 L944.0,1524.5 L946.1,1524.5 L948.2,1524.5 L950.3,1524.5 L952.4,1524.4 L954.5,1524.4 L956.6,1524.3 L958.7,1524.2 L960.8,1524.1 L962.9,1524.0 L965.0,1523.8 L967.1,1523.7 L969.2,1523.5 L971.3,1523.3 L973.4,1523.1 L975.6,1522.9 L977.7,1522.6 L979.8,1522.4 L981.9,1522.1 L984.0,1521.8 L986.1,1521.5 L988.2,1521.2 L990.3,1520.8 L992.4,1520.4 L994.5,1520.0 L996.6,1519.6 L998.7,1519.2 L1000.7,1518.8 L1002.8,1518.3 L1004.9,1517.8 L1006.9,1517.3 L1009.0,1516.8 L1011.0,1516.2 L1013.0,1515.7 L1015.1,1515.1 L1017.1,1514.4 L1019.1,1513.8 L1021.1,1513.2 L1023.1,1512.5 L1025.0,1511.8 L1027.0,1511.0 L1028.9,1510.3 L1030.9,1509.5 L1032.8,1508.7 L1034.7,1507.9 L1036.6,1507.0 L1038.5,1506.2 L1040.4,1505.3 L1042.2,1504.4 L1044.0,1503.4 L1045.9,1502.4 L1047.7,1501.5 L1049.5,1500.4 L1051.2,1499.4 L1053.0,1498.3 L1054.7,1497.2 L1056.4,1496.1 L1058.1,1494.9 L1059.8,1493.7 L1061.5,1492.5 L1063.1,1491.3 L1064.7,1490.0 L1066.3,1488.7 L1067.9,1487.4 L1069.4,1486.1 L1071.0,1484.7 L1072.5,1483.3 L1074.0,1481.9 L1075.5,1480.5 L1077.0,1479.0 L1078.4,1477.5 L1079.9,1476.0 L1081.3,1474.5 L1082.7,1473.0 L1084.1,1471.4 L1085.5,1469.9 L1086.8,1468.3 L1088.2,1466.7 L1089.6,1465.1 L1090.9,1463.5 L1092.2,1461.8 L1093.5,1460.2 L1094.9,1458.5 L1096.2,1456.9 L1097.5,1455.2 L1098.7,1453.5 L1100.0,1451.8 L1101.3,1450.1 L1102.6,1448.4 L1103.8,1446.7 L1105.1,1445.0 L1106.4,1443.3 L1107.6,1441.6 L1108.9,1439.9 L1110.1,1438.2 L1111.4,1436.5 L1112.6,1434.8 L1113.9,1433.1 L1115.1,1431.4 L1116.4,1429.7 L1117.6,1428.0 L1118.9,1426.3 L1120.1,1424.6 L1121.4,1422.9 L1122.6,1421.2 L1123.8,1419.5 L1125.1,1417.8 L1126.3,1416.2 L1127.6,1414.5 L1128.8,1412.8 L1130.1,1411.1 L1131.3,1409.4 L1132.5,1407.7 L1133.8,1406.1 L1135.0,1404.4 L1136.2,1402.7 L1137.4,1401.0 L1138.7,1399.3 L1139.9,1397.7 L1141.1,1396.0 L1142.3,1394.3 L1143.5,1392.6 L1144.7,1390.9 L1145.9,1389.2 L1147.1,1387.5 L1148.3,1385.8 L1149.4,1384.1 L1150.6,1382.4 L1151.8,1380.7 L1152.9,1379.0 L1154.1,1377.3 L1155.3,1375.6 L1156.4,1373.8 L1157.5,1372.1 L1158.7,1370.4 L1159.8,1368.6 L1160.9,1366.9 L1162.0,1365.1 L1163.1,1363.4 L1164.2,1361.6 L1165.3,1359.8 L1166.4,1358.1 L1167.5,1356.3 L1168.5,1354.5 L1169.6,1352.7 L1170.6,1350.9 L1171.7,1349.1 L1172.7,1347.3 L1173.7,1345.5 L1174.8,1343.7 L1175.8,1341.9 L1176.8,1340.1 L1177.8,1338.2 L1178.8,1336.4 L1179.8,1334.6 L1180.8,1332.7 L1181.8,1330.9 L1182.8,1329.0 L1183.8,1327.2 L1184.7,1325.4 L1185.7,1323.5 L1186.7,1321.6 L1187.6,1319.8 L1188.6,1317.9 L1189.5,1316.1 L1190.5,1314.2 L1191.4,1312.3 L1192.4,1310.5 L1193.3,1308.6 L1194.3,1306.7 L1195.2,1304.9 L1196.1,1303.0 L1197.0,1301.1 L1198.0,1299.2 L1198.9,1297.4 L1199.8,1295.5 L1200.7,1293.6 L1201.7,1291.7 L1202.6,1289.8 L1203.5,1288.0 L1204.4,1286.1 L1205.3,1284.2 L1206.2,1282.3 L1207.1,1280.4 L1208.0,1278.5 L1208.9,1276.7 L1209.8,1274.8 L1210.7,1272.9 L1211.6,1271.0 L1212.5,1269.1 L1213.4,1267.2 L1214.2,1265.3 L1215.1,1263.5 L1216.0,1261.6 L1216.9,1259.7 L1217.8,1257.8 L1218.6,1255.9 L1219.5,1254.0 L1220.4,1252.1 L1221.3,1250.2 L1222.1,1248.3 L1223.0,1246.4 L1223.9,1244.5 L1224.7,1242.6 L1225.6,1240.7 L1226.5,1238.8 L1227.3,1236.9 L1228.2,1235.0 L1229.0,1233.1 L1229.9,1231.2 L1230.7,1229.3 L1231.6,1227.4 L1232.4,1225.5 L1233.3,1223.6 L1234.1,1221.7 L1235.0,1219.8 L1235.8,1217.9 L1236.7,1216.0 L1237.5,1214.1 L1238.4,1212.2 L1239.2,1210.3 L1240.0,1208.4 L1240.9,1206.5 L1241.7,1204.6 L1242.5,1202.7 L1243.4,1200.8 L1244.2,1198.9 L1245.0,1197.0 L1245.9,1195.1 L1246.7,1193.1 L1247.5,1191.2 L1248.4,1189.3 L1249.2,1187.4 L1250.0,1185.5 L1250.8,1183.6 L1251.7,1181.7 L1252.5,1179.8 L1253.3,1177.9 L1254.1,1176.0 L1255.0,1174.0 L1255.8,1172.1 L1256.6,1170.2 L1257.4,1168.3 L1258.2,1166.4 L1259.1,1164.5 L1259.9,1162.6 L1260.7,1160.6 L1261.5,1158.7 L1262.3,1156.8 L1263.1,1154.9 L1264.0,1153.0 L1264.8,1151.1 L1265.6,1149.2 L1266.4,1147.2 L1267.2,1145.3 L1268.0,1143.4 L1268.8,1141.5 L1269.7,1139.6 L1270.5,1137.7 L1271.3,1135.7 L1272.1,1133.8 L1272.9,1131.9 L1273.7,1130.0 L1274.5,1128.1 L1275.3,1126.2 L1276.1,1124.2 L1277.0,1122.3 L1277.8,1120.4 L1278.6,1118.5 L1279.4,1116.6 L1280.2,1114.7 L1281.0,1112.7 L1281.8,1110.8 L1282.6,1108.9 L1283.4,1107.0 L1284.3,1105.1 L1285.1,1103.1 L1285.9,1101.2 L1286.7,1099.3 L1287.5,1097.4 L1288.3,1095.5 L1289.1,1093.6 L1289.9,1091.6 L1290.8,1089.7 L1291.6,1087.8 L1292.4,1085.9 L1293.2,1084.0 L1294.0,1082.1 L1294.8,1080.1 L1295.7,1078.2 L1296.5,1076.3 L1297.3,1074.4 L1298.1,1072.5 L1298.9,1070.5 L1299.8,1068.6 L1300.6,1066.7 L1301.4,1064.8 L1302.2,1062.9 L1303.0,1061.0 L1303.9,1059.0 L1304.7,1057.1 L1305.5,1055.2 L1306.3,1053.3 L1307.2,1051.4 L1308.0,1049.5 L1308.8,1047.6 L1309.7,1045.6 L1310.5,1043.7 L1311.3,1041.8 L1312.1,1039.9 L1313.0,1038.0 L1313.8,1036.1 L1314.7,1034.2 L1315.5,1032.2 L1316.3,1030.3 L1317.2,1028.4 L1318.0,1026.5 L1318.8,1024.6 L1319.7,1022.7 L1320.5,1020.8 L1321.4,1018.9 L1322.2,1016.9 L1323.1,1015.0 L1323.9,1013.1 L1324.8,1011.2 L1325.6,1009.3 L1326.5,1007.4 L1327.3,1005.5 L1328.2,1003.6 L1329.1,1001.7 L1329.9,999.8 L1330.8,997.8 L1331.6,995.9 L1332.5,994.0 L1333.4,992.1 L1334.2,990.2 L1335.1,988.3 L1336.0,986.4 L1336.8,984.5 L1337.7,982.6 L1338.6,980.7 L1339.5,978.8 L1340.3,976.9 L1341.2,975.0 L1342.1,973.1 L1342.9,971.2 L1343.8,969.3 L1344.7,967.4 L1345.6,965.5 L1346.4,963.6 L1347.3,961.7 L1348.2,959.8 L1349.1,957.9 L1349.9,956.0 L1350.8,954.1 L1351.7,952.2 L1352.6,950.3 L1353.4,948.4 L1354.3,946.5 L1355.2,944.6 L1356.1,942.7 L1356.9,940.8 L1357.8,938.9 L1358.7,937.0 L1359.5,935.1 L1360.4,933.2 L1361.3,931.3 L1362.1,929.4 L1363.0,927.5 L1363.8,925.6 L1364.7,923.7 L1365.6,921.8 L1366.4,919.9 L1367.3,918.0 L1368.1,916.1 L1369.0,914.2 L1369.8,912.3 L1370.7,910.4 L1371.5,908.5 L1372.3,906.6 L1373.2,904.7 L1374.0,902.8 L1374.9,900.9 L1375.7,899.0 L1376.5,897.1 L1377.3,895.2 L1378.2,893.3 L1379.0,891.4 L1379.8,889.5 L1380.6,887.6 L1381.4,885.7 L1382.2,883.7 L1383.0,881.8 L1383.8,879.9 L1384.6,878.0 L1385.4,876.1 L1386.2,874.2 L1387.0,872.3 L1387.8,870.4 L1388.6,868.5 L1389.4,866.6 L1390.2,864.7 L1390.9,862.8 L1391.7,860.9 L1392.5,859.0 L1393.3,857.1 L1394.0,855.2 L1394.8,853.3 L1395.6,851.4 L1396.4,849.5 L1397.2,847.6 L1398.0,845.7 L1398.8,843.8 L1399.6,841.9 L1400.4,840.0 L1401.2,838.1 L1402.0,836.2 L1402.8,834.3 L1403.6,832.4 L1404.5,830.5 L1405.3,828.6 L1406.1,826.7 L1407.0,824.9 L1407.9,823.0 L1408.7,821.1 L1409.6,819.2 L1410.5,817.3 L1411.4,815.4 L1412.4,813.5 L1413.3,811.7 L1414.2,809.8 L1415.2,807.9 L1416.2,806.0 L1417.1,804.2 L1418.1,802.3 L1419.2,800.4 L1420.2,798.5 L1421.2,796.7 L1422.3,794.8 L1423.4,793.0 L1424.5,791.1 L1425.6,789.3 L1426.7,787.4 L1427.9,785.6 L1429.0,783.8 L1430.2,782.0 L1431.4,780.2 L1432.7,778.4 L1433.9,776.7 L1435.2,774.9 L1436.5,773.2 L1437.8,771.5 L1439.2,769.8 L1440.5,768.2 L1441.9,766.5 L1443.3,764.9 L1444.8,763.4 L1446.2,761.8 L1447.7,760.3 L1449.2,758.8 L1450.8,757.3 L1452.4,755.9 L1454.0,754.5 L1455.6,753.2 L1457.3,751.9 L1458.9,750.6 L1460.7,749.4 L1462.4,748.2 L1464.2,747.0 L1466.0,746.0 L1467.8,744.9 L1469.6,744.0 L1471.4,743.0 L1473.3,742.2 L1475.2,741.4 L1477.1,740.7 L1479.0,740.1 L1480.9,739.5 L1482.8,739.0 L1484.7,738.6 L1486.6,738.3 L1488.6,738.0 L1490.5,737.9 L1492.5,737.8 L1494.4,737.9 L1496.3,738.0 L1498.3,738.3 L1500.2,738.6 L1502.1,739.0 L1504.0,739.5 L1505.9,740.1 L1507.8,740.7 L1509.7,741.4 L1511.5,742.2 L1513.4,743.1 L1515.2,744.0 L1517.0,745.0 L1518.7,746.1 L1520.5,747.2 L1522.2,748.4 L1523.9,749.6 L1525.5,750.9 L1527.2,752.2 L1528.7,753.6 L1530.3,755.0 L1531.8,756.4 L1533.3,757.9 L1534.7,759.4 L1536.1,760.9 L1537.5,762.5 L1538.8,764.1 L1540.2,765.7 L1541.4,767.4 L1542.7,769.1 L1543.9,770.8 L1545.1,772.5 L1546.3,774.3 L1547.4,776.0 L1548.5,777.8 L1549.6,779.6 L1550.7,781.5 L1551.8,783.3 L1552.8,785.1 L1553.8,787.0 L1554.8,788.9 L1555.8,790.8 L1556.8,792.6 L1557.8,794.5 L1558.8,796.4 L1559.7,798.3 L1560.7,800.2 L1561.6,802.1 L1562.6,804.0 L1563.5,805.9 L1564.4,807.8 L1565.4,809.8 L1566.3,811.7 L1567.2,813.6 L1568.1,815.5 L1569.0,817.4 L1569.9,819.3 L1570.8,821.2 L1571.7,823.1 L1572.5,825.1 L1573.4,827.0 L1574.3,828.9 L1575.1,830.8 L1576.0,832.7 L1576.8,834.7 L1577.7,836.6 L1578.5,838.5 L1579.3,840.4 L1580.2,842.4 L1581.0,844.3 L1581.8,846.2 L1582.6,848.2 L1583.4,850.1 L1584.2,852.0 L1585.0,854.0 L1585.8,855.9 L1586.6,857.9 L1587.4,859.8 L1588.2,861.7 L1588.9,863.7 L1589.7,865.6 L1590.4,867.6 L1591.2,869.5 L1592.0,871.5 L1592.7,873.4 L1593.5,875.4 L1594.2,877.3 L1594.9,879.3 L1595.7,881.2 L1596.4,883.2 L1597.1,885.1 L1597.8,887.1 L1598.5,889.0 L1599.2,891.0 L1599.9,892.9 L1600.6,894.9 L1601.3,896.9 L1602.0,898.8 L1602.7,900.8 L1603.4,902.7 L1604.1,904.7 L1604.8,906.7 L1605.5,908.6 L1606.1,910.6 L1606.8,912.6 L1607.5,914.5 L1608.1,916.5 L1608.8,918.5 L1609.4,920.5 L1610.1,922.4 L1610.7,924.4 L1611.4,926.4 L1612.0,928.3 L1612.6,930.3 L1613.3,932.3 L1613.9,934.3 L1614.5,936.3 L1615.2,938.2 L1615.8,940.2 L1616.4,942.2 L1617.0,944.2 L1617.6,946.2 L1618.3,948.1 L1618.9,950.1 L1619.5,952.1 L1620.1,954.1 L1620.7,956.1 L1621.3,958.1 L1621.9,960.1 L1622.5,962.0 L1623.1,964.0 L1623.6,966.0 L1624.2,968.0 L1624.8,970.0 L1625.4,972.0 L1626.0,974.0 L1626.6,976.0 L1627.1,978.0 L1627.7,980.0 L1628.3,982.0 L1628.9,984.0 L1629.4,985.9 L1630.0,987.9 L1630.6,989.9 L1631.1,991.9 L1631.7,993.9 L1632.3,995.9 L1632.8,997.9 L1633.4,999.9 L1633.9,1001.9 L1634.5,1003.9 L1635.1,1005.9 L1635.6,1007.9 L1636.2,1009.9 L1636.7,1011.9 L1637.3,1013.9 L1637.8,1015.9 L1638.4,1018.0 L1638.9,1020.0 L1639.5,1022.0 L1640.0,1024.0 L1640.5,1026.0 L1641.1,1028.0 L1641.6,1030.0 L1642.2,1032.0 L1642.7,1034.0 L1643.3,1036.0 L1643.8,1038.0 L1644.3,1040.0 L1644.9,1042.0 L1645.4,1044.0 L1646.0,1046.1 L1646.5,1048.1 L1647.0,1050.1 L1647.6,1052.1 L1648.1,1054.1 L1648.7,1056.1 L1649.2,1058.1 L1649.7,1060.1 L1650.3,1062.2 L1650.8,1064.2 L1651.4,1066.2 L1651.9,1068.2 L1652.4,1070.2 L1653.0,1072.2 L1653.5,1074.2 L1654.1,1076.2 L1654.6,1078.3 L1655.1,1080.3 L1655.7,1082.3 L1656.2,1084.3 L1656.8,1086.3 L1657.3,1088.3 L1657.9,1090.4 L1658.4,1092.4 L1658.9,1094.4 L1659.5,1096.4 L1660.0,1098.4 L1660.6,1100.4 L1661.1,1102.4 L1661.7,1104.5 L1662.2,1106.5 L1662.7,1108.5 L1663.3,1110.5 L1663.8,1112.5 L1664.4,1114.5 L1664.9,1116.6 L1665.5,1118.6 L1666.0,1120.6 L1666.6,1122.6 L1667.1,1124.6 L1667.7,1126.6 L1668.2,1128.7 L1668.8,1130.7 L1669.3,1132.7 L1669.9,1134.7 L1670.4,1136.7 L1671.0,1138.7 L1671.5,1140.8 L1672.1,1142.8 L1672.7,1144.8 L1673.2,1146.8 L1673.8,1148.8 L1674.3,1150.8 L1674.9,1152.8 L1675.5,1154.9 L1676.0,1156.9 L1676.6,1158.9 L1677.2,1160.9 L1677.7,1162.9 L1678.3,1164.9 L1678.9,1166.9 L1679.4,1168.9 L1680.0,1171.0 L1680.6,1173.0 L1681.1,1175.0 L1681.7,1177.0 L1682.3,1179.0 L1682.9,1181.0 L1683.4,1183.0 L1684.0,1185.0 L1684.6,1187.0 L1685.2,1189.1 L1685.8,1191.1 L1686.3,1193.1 L1686.9,1195.1 L1687.5,1197.1 L1688.1,1199.1 L1688.7,1201.1 L1689.3,1203.1 L1689.9,1205.1 L1690.5,1207.1 L1691.1,1209.1 L1691.7,1211.1 L1692.3,1213.1 L1692.9,1215.1 L1693.5,1217.1 L1694.1,1219.1 L1694.7,1221.1 L1695.3,1223.1 L1695.9,1225.1 L1696.5,1227.1 L1697.1,1229.1 L1697.7,1231.1 L1698.3,1233.1 L1699.0,1235.1 L1699.6,1237.1 L1700.2,1239.1 L1700.8,1241.1 L1701.4,1243.1 L1702.1,1245.1 L1702.7,1247.1 L1703.3,1249.1 L1704.0,1251.1 L1704.6,1253.1 L1705.2,1255.0 L1705.9,1257.0 L1706.5,1259.0 L1707.2,1261.0 L1707.8,1263.0 L1708.4,1265.0 L1709.1,1267.0 L1709.7,1268.9 L1710.4,1270.9 L1711.0,1272.9 L1711.7,1274.9 L1712.4,1276.9 L1713.0,1278.9 L1713.7,1280.8 L1714.4,1282.8 L1715.0,1284.8 L1715.7,1286.8 L1716.4,1288.7 L1717.0,1290.7 L1717.7,1292.7 L1718.4,1294.7 L1719.1,1296.6 L1719.8,1298.6 L1720.4,1300.6 L1721.1,1302.5 L1721.8,1304.5 L1722.5,1306.5 L1723.2,1308.4 L1723.9,1310.4 L1724.6,1312.4 L1725.3,1314.3 L1726.0,1316.3 L1726.7,1318.2 L1727.5,1320.2 L1728.2,1322.2 L1728.9,1324.1 L1729.6,1326.1 L1730.3,1328.0 L1731.1,1330.0 L1731.8,1331.9 L1732.5,1333.9 L1733.3,1335.8 L1734.0,1337.8 L1734.7,1339.7 L1735.5,1341.7 L1736.2,1343.6 L1737.0,1345.6 L1737.7,1347.5 L1738.5,1349.4 L1739.2,1351.4 L1740.0,1353.3 L1740.8,1355.2 L1741.5,1357.2 L1742.3,1359.1 L1743.1,1361.0 L1743.9,1363.0 L1744.6,1364.9 L1745.4,1366.8 L1746.2,1368.8 L1747.0,1370.7 L1747.8,1372.6 L1748.6,1374.5 L1749.4,1376.5 L1750.2,1378.4 L1751.0,1380.3 L1751.8,1382.2 L1752.6,1384.1 L1753.4,1386.0 L1754.2,1387.9 L1755.1,1389.9 L1755.9,1391.8 L1756.7,1393.7 L1757.6,1395.6 L1758.4,1397.5 L1759.2,1399.4 L1760.1,1401.3 L1760.9,1403.2 L1761.8,1405.1 L1762.6,1407.0 L1763.5,1408.9 L1764.3,1410.8 L1765.2,1412.6 L1766.1,1414.5 L1766.9,1416.4 L1767.8,1418.3 L1768.7,1420.2 L1769.6,1422.1 L1770.5,1423.9 L1771.3,1425.8 L1772.2,1427.7 L1773.1,1429.6 L1774.0,1431.4 L1774.9,1433.3 L1775.8,1435.2 L1776.8,1437.0 L1777.7,1438.9 L1778.6,1440.7 L1779.5,1442.6 L1780.4,1444.5 L1781.4,1446.3 L1782.3,1448.2 L1783.2,1450.0 L1784.2,1451.9 L1785.1,1453.7 L1786.1,1455.5 L1787.0,1457.4 L1788.0,1459.2 L1788.9,1461.1 L1789.9,1462.9 L1790.9,1464.7 L1791.9,1466.6 L1792.8,1468.4 L1793.8,1470.2 L1794.8,1472.0 L1795.8,1473.9 L1796.8,1475.7 L1797.8,1477.5 L1798.8,1479.3 L1799.8,1481.1 L1800.8,1483.0 L1801.8,1484.8 L1802.8,1486.6 L1803.8,1488.4 L1804.9,1490.2 L1805.9,1492.0 L1806.9,1493.8 L1808.0,1495.6 L1809.0,1497.4 L1810.0,1499.2 L1811.1,1501.0 L1812.1,1502.8 L1813.2,1504.6 L1814.2,1506.4 L1815.3,1508.2 L1816.4,1510.0 L1817.4,1511.8 L1818.5,1513.6 L1819.6,1515.4 L1820.7,1517.2 L1821.8,1518.9 L1822.9,1520.7 L1824.0,1522.5 L1825.0,1524.3 L1826.2,1526.1 L1827.3,1527.9 L1828.4,1529.6 L1829.5,1531.4 L1830.6,1533.2 L1831.7,1535.0 L1832.8,1536.7 L1834.0,1538.5 L1835.1,1540.3 L1836.2,1542.1 L1837.4,1543.8 L1838.5,1545.6 L1839.7,1547.4 L1840.8,1549.1 L1842.0,1550.9 L1843.2,1552.7 L1844.3,1554.4 L1845.5,1556.2 L1846.7,1558.0 L1847.9,1559.7 L1849.0,1561.5 L1850.2,1563.2 L1851.4,1565.0 L1852.6,1566.7 L1853.9,1568.4 L1855.1,1570.1 L1856.3,1571.9 L1857.6,1573.6 L1858.8,1575.3 L1860.1,1577.0 L1861.3,1578.7 L1862.6,1580.3 L1863.9,1582.0 L1865.2,1583.6 L1866.5,1585.3 L1867.8,1586.9 L1869.1,1588.5 L1870.5,1590.2 L1871.8,1591.7 L1873.2,1593.3 L1874.5,1594.9 L1875.9,1596.4 L1877.3,1598.0 L1878.7,1599.5 L1880.2,1601.0 L1881.6,1602.5 L1883.1,1604.0 L1884.5,1605.4 L1886.0,1606.9 L1887.5,1608.3 L1889.0,1609.7 L1890.5,1611.1 L1892.1,1612.4 L1893.6,1613.8 L1895.2,1615.1 L1896.8,1616.4 L1898.4,1617.7 L1900.0,1619.0 L1901.7,1620.2 L1903.3,1621.5 L1905.0,1622.7 L1906.6,1623.9 L1908.3,1625.1 L1910.0,1626.2 L1911.7,1627.4 L1913.4,1628.5 L1915.2,1629.6 L1916.9,1630.7 L1918.7,1631.8 L1920.4,1632.9 L1922.2,1633.9 L1924.0,1634.9 L1925.8,1636.0 L1927.6,1637.0 L1929.4,1637.9 L1931.2,1638.9 L1933.1,1639.9 L1934.9,1640.8 L1936.8,1641.7 L1938.6,1642.6 L1940.5,1643.5 L1942.4,1644.4 L1944.3,1645.3 L1946.2,1646.1 L1948.1,1647.0 L1950.0,1647.8 L1951.9,1648.6 L1953.9,1649.4 L1955.8,1650.1 L1957.8,1650.9 L1959.7,1651.7 L1961.7,1652.4 L1963.6,1653.1 L1965.6,1653.8 L1967.6,1654.5 L1969.6,1655.2 L1971.5,1655.9 L1973.5,1656.5 L1975.5,1657.2 L1977.5,1657.8 L1979.5,1658.4 L1981.5,1659.0 L1983.6,1659.6 L1985.6,1660.2 L1987.6,1660.8 L1989.6,1661.4 L1991.7,1661.9 L1993.7,1662.4 L1995.7,1663.0 L1997.8,1663.5 L1999.8,1664.0 L2001.8,1664.5 L2003.9,1665.0 L2005.9,1665.4 L2008.0,1665.9 L2010.0,1666.4 L2012.1,1666.8 L2014.1,1667.2 L2016.2,1667.7 L2018.2,1668.1 L2020.3,1668.5 L2022.3,1668.9 L2024.4,1669.2 L2026.4,1669.6 L2028.5,1670.0 L2030.5,1670.3 L2032.6,1670.7 L2034.6,1671.0 L2036.7,1671.3 L2038.8,1671.7 L2040.8,1672.0 L2042.9,1672.3 L2044.9,1672.6 L2047.0,1672.8 L2049.1,1673.1 L2051.1,1673.4 L2053.2,1673.6 L2055.3,1673.9 L2057.3,1674.1 L2059.4,1674.4 L2061.5,1674.6 L2063.5,1674.8 L2065.6,1675.0 L2067.7,1675.2 L2069.7,1675.4 L2071.8,1675.6 L2073.9,1675.8 L2076.0,1676.0 L2078.0,1676.1 L2080.1,1676.3 L2082.2,1676.5 L2084.2,1676.6 L2086.3,1676.8 L2088.4,1676.9 L2090.5,1677.0 L2092.6,1677.1 L2094.6,1677.3 L2096.7,1677.4 L2098.8,1677.5 L2100.9,1677.6 L2102.9,1677.7 L2105.0,1677.8 L2107.1,1677.8 L2109.2,1677.9 L2111.3,1678.0 L2113.4,1678.1 L2115.4,1678.1 L2117.5,1678.2 L2119.6,1678.2 L2121.7,1678.3 L2123.8,1678.3 L2125.9,1678.4 L2127.9,1678.4 L2130.0,1678.4 L2132.1,1678.5 L2134.2,1678.5 L2136.3,1678.5 L2138.4,1678.5 L2140.5,1678.5 L2142.5,1678.5 L2144.6,1678.5 L2146.7,1678.5 L2148.8,1678.5 L2150.9,1678.5 L2153.0,1678.5 L2155.1,1678.5 L2157.2,1678.5 L2159.3,1678.5 L2161.4,1678.4 L2163.4,1678.4 L2165.5,1678.4 L2167.6,1678.4 L2169.7,1678.3 L2171.8,1678.3 L2173.9,1678.3 L2176.0,1678.2 L2178.1,1678.2 L2180.2,1678.1 L2182.3,1678.1 L2184.4,1678.0 L2186.5,1678.0 L2188.5,1678.0 L2190.6,1677.9 L2192.7,1677.8 L2194.8,1677.8 L2196.9,1677.7 L2199.0,1677.7 L2201.1,1677.6 L2203.2,1677.6 L2205.3,1677.5 L2207.4,1677.5 L2209.5,1677.4 L2211.6,1677.4 L2213.7,1677.3 L2215.8,1677.2 L2217.8,1677.2 L2219.9,1677.1 L2222.0,1677.1 L2224.1,1677.0 L2226.2,1677.0 L2228.3,1676.9 L2230.4,1676.8 L2232.5,1676.8 L2234.6,1676.7 L2236.7,1676.7 L2238.8,1676.6 L2240.9,1676.6 L2243.0,1676.5 L2245.1,1676.5 L2247.2,1676.4 L2249.2,1676.4 L2251.3,1676.4 L2253.4,1676.3 L2255.5,1676.3 L2257.6,1676.2 L2259.7,1676.2 L2261.8,1676.2 L2263.9,1676.1 L2266.0,1676.1 L2268.1,1676.1 L2270.2,1676.1 L2272.2,1676.0 L2274.3,1676.0 L2276.4,1676.0 L2278.5,1676.0 L2280.6,1676.0 L2282.7,1676.0 L2284.8,1676.0 L2286.9,1676.0 L2289.0,1676.0 L2291.0,1676.0 L2293.1,1676.0 L2295.2,1676.0 L2297.3,1676.1 L2299.4,1676.1 L2301.5,1676.1 L2303.6,1676.1 L2305.6,1676.2 L2307.7,1676.2 L2309.8,1676.3 L2311.9,1676.3 L2314.0,1676.4 L2316.1,1676.4 L2318.1,1676.5 L2320.2,1676.6 L2322.3,1676.7 L2324.4,1676.7 L2326.5,1676.8 L2328.5,1676.9 L2330.6,1677.0 L2332.7,1677.1 L2334.8,1677.2 L2336.9,1677.3 L2338.9,1677.5 L2341.0,1677.6 L2343.1,1677.7 L2345.2,1677.9 L2347.2,1678.0 L2349.3,1678.2 L2351.4,1678.3 L2353.4,1678.5 L2355.5,1678.7 L2357.6,1678.9 L2359.7,1679.0 L2361.7,1679.2 L2363.8,1679.4 L2365.9,1679.7 L2367.9,1679.9 L2370.0,1680.1" fill="none" stroke="#ff0000" stroke-width="7" stroke-linejoin="round"/>
<polygon points="342.9,1610.9 378.1,1610.9 360.5,1644.8" fill="#fff" stroke="#ff3a3a" stroke-width="2.4" stroke-linejoin="miter"/>
<polygon points="442.7,1549.2 477.9,1549.2 460.3,1583.1" fill="#fff" stroke="#ff3a3a" stroke-width="2.4" stroke-linejoin="miter"/>
<polygon points="543.1,1452.1 578.3,1452.1 560.7,1486.0" fill="#fff" stroke="#ff3a3a" stroke-width="2.4" stroke-linejoin="miter"/>
<polygon points="644.4,1427.7 679.6,1427.7 662.0,1461.6" fill="#fff" stroke="#ff3a3a" stroke-width="2.4" stroke-linejoin="miter"/>
<polygon points="744.7,1461.2 779.9,1461.2 762.3,1495.1" fill="#fff" stroke="#ff3a3a" stroke-width="2.4" stroke-linejoin="miter"/>
<polygon points="845.2,1506.0 880.4,1506.0 862.8,1539.9" fill="#fff" stroke="#ff3a3a" stroke-width="2.4" stroke-linejoin="miter"/>
<polygon points="945.3,1516.2 980.5,1516.2 962.9,1550.1" fill="#fff" stroke="#ff3a3a" stroke-width="2.4" stroke-linejoin="miter"/>
<polygon points="1046.4,1496.3 1081.6,1496.3 1064.0,1530.2" fill="#fff" stroke="#ff3a3a" stroke-width="2.4" stroke-linejoin="miter"/>
<polygon points="1146.5,1363.4 1181.7,1363.4 1164.1,1397.3" fill="#fff" stroke="#ff3a3a" stroke-width="2.4" stroke-linejoin="miter"/>
<polygon points="1247.0,1150.6 1282.2,1150.6 1264.6,1184.5" fill="#fff" stroke="#ff3a3a" stroke-width="2.4" stroke-linejoin="miter"/>
<polygon points="1346.9,912.2 1382.1,912.2 1364.5,946.1" fill="#fff" stroke="#ff3a3a" stroke-width="2.4" stroke-linejoin="miter"/>
<polygon points="1447.2,688.7 1482.4,688.7 1464.8,722.6" fill="#fff" stroke="#ff3a3a" stroke-width="2.4" stroke-linejoin="miter"/>
<polygon points="1547.8,746.7 1583.0,746.7 1565.4,780.6" fill="#fff" stroke="#ff3a3a" stroke-width="2.4" stroke-linejoin="miter"/>
<polygon points="1648.3,1099.0 1683.5,1099.0 1665.9,1132.9" fill="#fff" stroke="#ff3a3a" stroke-width="2.4" stroke-linejoin="miter"/>
<polygon points="1747.6,1413.6 1782.8,1413.6 1765.2,1447.5" fill="#fff" stroke="#ff3a3a" stroke-width="2.4" stroke-linejoin="miter"/>
<polygon points="1849.1,1597.6 1884.3,1597.6 1866.7,1631.5" fill="#fff" stroke="#ff3a3a" stroke-width="2.4" stroke-linejoin="miter"/>
<polygon points="1949.4,1660.5 1984.6,1660.5 1967.0,1694.4" fill="#fff" stroke="#ff3a3a" stroke-width="2.4" stroke-linejoin="miter"/>
<polygon points="2049.7,1664.2 2084.9,1664.2 2067.3,1698.1" fill="#fff" stroke="#ff3a3a" stroke-width="2.4" stroke-linejoin="miter"/>
<polygon points="2150.1,1666.2 2185.3,1666.2 2167.7,1700.1" fill="#fff" stroke="#ff3a3a" stroke-width="2.4" stroke-linejoin="miter"/>
<polygon points="2250.5,1666.2 2285.7,1666.2 2268.1,1700.1" fill="#fff" stroke="#ff3a3a" stroke-width="2.4" stroke-linejoin="miter"/>
<polygon points="2350.9,1666.2 2386.1,1666.2 2368.5,1700.1" fill="#fff" stroke="#ff3a3a" stroke-width="2.4" stroke-linejoin="miter"/>
<path d="M360.2,1539.9 L361.7,1538.2 L363.2,1536.6 L364.7,1534.9 L366.2,1533.2 L367.6,1531.6 L369.1,1529.9 L370.5,1528.2 L372.0,1526.5 L373.4,1524.8 L374.9,1523.1 L376.3,1521.5 L377.8,1519.8 L379.2,1518.0 L380.6,1516.3 L382.0,1514.6 L383.4,1512.9 L384.8,1511.2 L386.3,1509.5 L387.7,1507.7 L389.1,1506.0 L390.4,1504.3 L391.8,1502.5 L393.2,1500.8 L394.6,1499.1 L396.0,1497.3 L397.3,1495.6 L398.7,1493.8 L400.1,1492.0 L401.4,1490.3 L402.8,1488.5 L404.2,1486.8 L405.5,1485.0 L406.9,1483.2 L408.2,1481.4 L409.5,1479.7 L410.9,1477.9 L412.2,1476.1 L413.6,1474.3 L414.9,1472.5 L416.2,1470.7 L417.5,1469.0 L418.9,1467.2 L420.2,1465.4 L421.5,1463.6 L422.8,1461.8 L424.2,1460.0 L425.5,1458.2 L426.8,1456.4 L428.1,1454.6 L429.4,1452.8 L430.7,1451.0 L432.0,1449.2 L433.3,1447.3 L434.6,1445.5 L435.9,1443.7 L437.2,1441.9 L438.5,1440.1 L439.8,1438.3 L441.1,1436.5 L442.4,1434.7 L443.7,1432.8 L445.0,1431.0 L446.3,1429.2 L447.6,1427.4 L448.9,1425.6 L450.2,1423.8 L451.5,1422.0 L452.8,1420.1 L454.1,1418.3 L455.4,1416.5 L456.7,1414.7 L458.0,1412.9 L459.3,1411.1 L460.6,1409.2 L461.9,1407.4 L463.2,1405.6 L464.5,1403.8 L465.8,1402.0 L467.1,1400.2 L468.4,1398.4 L469.7,1396.6 L471.0,1394.8 L472.3,1393.0 L473.6,1391.1 L474.9,1389.3 L476.2,1387.5 L477.5,1385.7 L478.9,1383.9 L480.2,1382.1 L481.5,1380.3 L482.8,1378.6 L484.1,1376.8 L485.5,1375.0 L486.8,1373.2 L488.1,1371.4 L489.4,1369.6 L490.8,1367.8 L492.1,1366.0 L493.5,1364.3 L494.8,1362.5 L496.1,1360.7 L497.5,1359.0 L498.8,1357.2 L500.2,1355.4 L501.5,1353.7 L502.9,1351.9 L504.3,1350.1 L505.6,1348.4 L507.0,1346.6 L508.4,1344.9 L509.8,1343.2 L511.1,1341.4 L512.5,1339.7 L513.9,1337.9 L515.3,1336.2 L516.7,1334.5 L518.1,1332.8 L519.5,1331.1 L520.9,1329.3 L522.3,1327.6 L523.8,1325.9 L525.2,1324.2 L526.6,1322.5 L528.0,1320.8 L529.5,1319.1 L530.9,1317.5 L532.4,1315.8 L533.8,1314.1 L535.3,1312.4 L536.8,1310.8 L538.2,1309.1 L539.7,1307.5 L541.2,1305.8 L542.7,1304.2 L544.2,1302.5 L545.7,1300.9 L547.2,1299.3 L548.7,1297.6 L550.2,1296.0 L551.7,1294.4 L553.3,1292.8 L554.8,1291.2 L556.3,1289.6 L557.9,1288.0 L559.4,1286.4 L561.0,1284.8 L562.6,1283.3 L564.2,1281.7 L565.7,1280.1 L567.3,1278.6 L568.9,1277.0 L570.5,1275.5 L572.2,1274.0 L573.8,1272.4 L575.4,1270.9 L577.0,1269.4 L578.7,1267.9 L580.3,1266.4 L582.0,1264.9 L583.7,1263.4 L585.3,1261.9 L587.0,1260.5 L588.7,1259.0 L590.4,1257.5 L592.1,1256.1 L593.9,1254.7 L595.6,1253.3 L597.4,1251.9 L599.1,1250.6 L600.9,1249.3 L602.7,1248.0 L604.6,1246.7 L606.4,1245.5 L608.3,1244.3 L610.2,1243.2 L612.1,1242.1 L614.1,1241.0 L616.0,1240.0 L618.0,1239.0 L620.1,1238.1 L622.1,1237.3 L624.2,1236.5 L626.3,1235.8 L628.5,1235.1 L630.6,1234.5 L632.8,1233.9 L635.0,1233.5 L637.2,1233.1 L639.4,1232.7 L641.7,1232.5 L643.9,1232.3 L646.1,1232.2 L648.3,1232.1 L650.5,1232.2 L652.7,1232.3 L654.9,1232.5 L657.0,1232.8 L659.2,1233.2 L661.3,1233.6 L663.3,1234.2 L665.4,1234.8 L667.4,1235.6 L669.3,1236.4 L671.3,1237.2 L673.2,1238.2 L675.1,1239.2 L676.9,1240.4 L678.8,1241.5 L680.6,1242.8 L682.4,1244.1 L684.1,1245.4 L685.8,1246.8 L687.5,1248.3 L689.2,1249.8 L690.8,1251.4 L692.5,1253.0 L694.0,1254.6 L695.6,1256.3 L697.2,1258.1 L698.7,1259.8 L700.2,1261.6 L701.7,1263.4 L703.1,1265.3 L704.6,1267.1 L706.0,1269.0 L707.4,1270.9 L708.8,1272.8 L710.1,1274.7 L711.5,1276.6 L712.8,1278.5 L714.1,1280.5 L715.4,1282.4 L716.7,1284.3 L718.0,1286.2 L719.2,1288.2 L720.4,1290.1 L721.7,1292.0 L722.9,1294.0 L724.1,1295.9 L725.3,1297.8 L726.4,1299.7 L727.6,1301.6 L728.8,1303.6 L730.0,1305.5 L731.1,1307.4 L732.3,1309.3 L733.4,1311.2 L734.6,1313.1 L735.7,1314.9 L736.9,1316.8 L738.0,1318.7 L739.2,1320.6 L740.3,1322.4 L741.5,1324.3 L742.7,1326.1 L743.8,1328.0 L745.0,1329.8 L746.2,1331.6 L747.4,1333.4 L748.6,1335.2 L749.8,1337.0 L751.0,1338.8 L752.3,1340.6 L753.5,1342.3 L754.8,1344.1 L756.0,1345.8 L757.3,1347.5 L758.6,1349.2 L760.0,1350.9 L761.3,1352.6 L762.7,1354.3 L764.0,1355.9 L765.4,1357.5 L766.9,1359.2 L768.3,1360.8 L769.8,1362.4 L771.3,1363.9 L772.8,1365.5 L774.3,1367.1 L775.8,1368.6 L777.4,1370.1 L778.9,1371.6 L780.5,1373.1 L782.1,1374.6 L783.8,1376.1 L785.4,1377.5 L787.0,1379.0 L788.7,1380.4 L790.4,1381.8 L792.1,1383.3 L793.8,1384.7 L795.5,1386.1 L797.3,1387.4 L799.0,1388.8 L800.8,1390.2 L802.6,1391.5 L804.4,1392.8 L806.2,1394.2 L808.0,1395.5 L809.8,1396.8 L811.7,1398.1 L813.5,1399.4 L815.4,1400.7 L817.2,1401.9 L819.1,1403.2 L821.0,1404.5 L822.9,1405.7 L824.8,1407.0 L826.7,1408.2 L828.6,1409.4 L830.6,1410.6 L832.5,1411.8 L834.4,1413.1 L836.4,1414.3 L838.4,1415.4 L840.3,1416.6 L842.3,1417.8 L844.2,1419.0 L846.2,1420.2 L848.2,1421.3 L850.2,1422.5 L852.2,1423.6 L854.2,1424.8 L856.1,1425.9 L858.1,1427.1 L860.1,1428.2 L862.1,1429.3 L864.1,1430.5 L866.1,1431.6 L868.1,1432.7 L870.1,1433.8 L872.2,1434.9 L874.2,1436.0 L876.2,1437.1 L878.2,1438.1 L880.2,1439.2 L882.2,1440.2 L884.2,1441.2 L886.3,1442.2 L888.3,1443.2 L890.3,1444.2 L892.4,1445.1 L894.4,1446.0 L896.4,1446.9 L898.5,1447.8 L900.5,1448.6 L902.5,1449.5 L904.6,1450.3 L906.6,1451.0 L908.7,1451.8 L910.7,1452.5 L912.8,1453.1 L914.9,1453.8 L916.9,1454.4 L919.0,1455.0 L921.1,1455.5 L923.1,1456.0 L925.2,1456.5 L927.3,1456.9 L929.4,1457.3 L931.4,1457.6 L933.5,1457.9 L935.6,1458.2 L937.7,1458.4 L939.8,1458.6 L941.9,1458.7 L944.0,1458.8 L946.1,1458.8 L948.2,1458.7 L950.4,1458.7 L952.5,1458.5 L954.6,1458.3 L956.7,1458.1 L958.9,1457.8 L961.0,1457.4 L963.1,1457.0 L965.3,1456.6 L967.4,1456.0 L969.6,1455.5 L971.7,1454.8 L973.8,1454.1 L976.0,1453.4 L978.1,1452.6 L980.2,1451.8 L982.4,1450.9 L984.5,1449.9 L986.6,1449.0 L988.7,1447.9 L990.7,1446.9 L992.8,1445.7 L994.8,1444.6 L996.9,1443.4 L998.9,1442.2 L1000.9,1440.9 L1002.8,1439.6 L1004.8,1438.3 L1006.7,1436.9 L1008.6,1435.5 L1010.5,1434.1 L1012.3,1432.6 L1014.1,1431.1 L1015.9,1429.6 L1017.6,1428.1 L1019.4,1426.5 L1021.0,1424.9 L1022.7,1423.3 L1024.3,1421.6 L1025.9,1420.0 L1027.4,1418.3 L1028.9,1416.6 L1030.4,1414.9 L1031.8,1413.2 L1033.2,1411.4 L1034.5,1409.7 L1035.9,1407.9 L1037.2,1406.1 L1038.4,1404.3 L1039.7,1402.5 L1040.9,1400.6 L1042.1,1398.8 L1043.3,1397.0 L1044.5,1395.1 L1045.7,1393.2 L1046.8,1391.3 L1047.9,1389.5 L1049.0,1387.6 L1050.2,1385.7 L1051.3,1383.8 L1052.3,1381.9 L1053.4,1380.0 L1054.5,1378.1 L1055.6,1376.1 L1056.7,1374.2 L1057.8,1372.3 L1058.9,1370.4 L1060.0,1368.5 L1061.1,1366.5 L1062.1,1364.6 L1063.2,1362.7 L1064.3,1360.7 L1065.4,1358.8 L1066.5,1356.9 L1067.5,1354.9 L1068.6,1353.0 L1069.7,1351.0 L1070.8,1349.1 L1071.8,1347.2 L1072.9,1345.2 L1074.0,1343.2 L1075.0,1341.3 L1076.1,1339.3 L1077.2,1337.4 L1078.2,1335.4 L1079.3,1333.4 L1080.3,1331.5 L1081.3,1329.5 L1082.4,1327.5 L1083.4,1325.6 L1084.4,1323.6 L1085.5,1321.6 L1086.5,1319.6 L1087.5,1317.6 L1088.5,1315.6 L1089.5,1313.7 L1090.5,1311.7 L1091.5,1309.7 L1092.5,1307.7 L1093.5,1305.7 L1094.5,1303.7 L1095.4,1301.7 L1096.4,1299.6 L1097.4,1297.6 L1098.3,1295.6 L1099.3,1293.6 L1100.2,1291.6 L1101.1,1289.6 L1102.1,1287.5 L1103.0,1285.5 L1103.9,1283.5 L1104.8,1281.4 L1105.7,1279.4 L1106.6,1277.4 L1107.5,1275.3 L1108.4,1273.3 L1109.2,1271.2 L1110.1,1269.2 L1111.0,1267.1 L1111.8,1265.1 L1112.7,1263.0 L1113.5,1261.0 L1114.3,1258.9 L1115.2,1256.8 L1116.0,1254.8 L1116.8,1252.7 L1117.6,1250.6 L1118.4,1248.5 L1119.2,1246.5 L1120.0,1244.4 L1120.8,1242.3 L1121.6,1240.2 L1122.4,1238.2 L1123.2,1236.1 L1124.0,1234.0 L1124.7,1231.9 L1125.5,1229.8 L1126.2,1227.7 L1127.0,1225.6 L1127.7,1223.5 L1128.5,1221.4 L1129.2,1219.3 L1130.0,1217.2 L1130.7,1215.1 L1131.4,1213.0 L1132.2,1210.9 L1132.9,1208.8 L1133.6,1206.7 L1134.3,1204.6 L1135.0,1202.5 L1135.7,1200.4 L1136.4,1198.2 L1137.1,1196.1 L1137.8,1194.0 L1138.5,1191.9 L1139.2,1189.8 L1139.9,1187.7 L1140.6,1185.5 L1141.2,1183.4 L1141.9,1181.3 L1142.6,1179.2 L1143.3,1177.0 L1143.9,1174.9 L1144.6,1172.8 L1145.3,1170.7 L1145.9,1168.5 L1146.6,1166.4 L1147.2,1164.3 L1147.9,1162.2 L1148.5,1160.0 L1149.2,1157.9 L1149.8,1155.8 L1150.5,1153.6 L1151.1,1151.5 L1151.8,1149.4 L1152.4,1147.2 L1153.0,1145.1 L1153.7,1143.0 L1154.3,1140.8 L1155.0,1138.7 L1155.6,1136.6 L1156.2,1134.4 L1156.9,1132.3 L1157.5,1130.1 L1158.1,1128.0 L1158.8,1125.9 L1159.4,1123.7 L1160.0,1121.6 L1160.6,1119.5 L1161.3,1117.3 L1161.9,1115.2 L1162.5,1113.1 L1163.2,1110.9 L1163.8,1108.8 L1164.4,1106.7 L1165.0,1104.5 L1165.7,1102.4 L1166.3,1100.3 L1166.9,1098.1 L1167.6,1096.0 L1168.2,1093.9 L1168.8,1091.7 L1169.4,1089.6 L1170.1,1087.5 L1170.7,1085.3 L1171.3,1083.2 L1172.0,1081.1 L1172.6,1078.9 L1173.2,1076.8 L1173.9,1074.7 L1174.5,1072.6 L1175.2,1070.4 L1175.8,1068.3 L1176.4,1066.2 L1177.1,1064.1 L1177.7,1061.9 L1178.4,1059.8 L1179.0,1057.7 L1179.7,1055.6 L1180.3,1053.4 L1180.9,1051.3 L1181.6,1049.2 L1182.2,1047.1 L1182.9,1045.0 L1183.5,1042.8 L1184.2,1040.7 L1184.8,1038.6 L1185.4,1036.5 L1186.1,1034.3 L1186.7,1032.2 L1187.4,1030.1 L1188.0,1028.0 L1188.6,1025.8 L1189.3,1023.7 L1189.9,1021.6 L1190.6,1019.5 L1191.2,1017.3 L1191.8,1015.2 L1192.5,1013.1 L1193.1,1010.9 L1193.7,1008.8 L1194.4,1006.7 L1195.0,1004.6 L1195.6,1002.4 L1196.2,1000.3 L1196.9,998.2 L1197.5,996.0 L1198.1,993.9 L1198.7,991.7 L1199.3,989.6 L1200.0,987.5 L1200.6,985.3 L1201.2,983.2 L1201.8,981.0 L1202.4,978.9 L1203.0,976.7 L1203.6,974.6 L1204.2,972.4 L1204.8,970.3 L1205.4,968.1 L1206.0,966.0 L1206.5,963.8 L1207.1,961.6 L1207.7,959.5 L1208.3,957.3 L1208.9,955.1 L1209.4,953.0 L1210.0,950.8 L1210.6,948.6 L1211.2,946.5 L1211.7,944.3 L1212.3,942.1 L1212.9,939.9 L1213.4,937.8 L1214.0,935.6 L1214.6,933.4 L1215.1,931.2 L1215.7,929.1 L1216.3,926.9 L1216.9,924.7 L1217.4,922.6 L1218.0,920.4 L1218.6,918.2 L1219.2,916.1 L1219.7,913.9 L1220.3,911.7 L1220.9,909.6 L1221.5,907.4 L1222.1,905.3 L1222.7,903.1 L1223.3,901.0 L1223.9,898.8 L1224.5,896.7 L1225.2,894.5 L1225.8,892.4 L1226.4,890.3 L1227.1,888.1 L1227.7,886.0 L1228.3,883.9 L1229.0,881.7 L1229.7,879.6 L1230.3,877.5 L1231.0,875.4 L1231.7,873.3 L1232.4,871.2 L1233.1,869.1 L1233.8,867.0 L1234.5,864.9 L1235.2,862.9 L1236.0,860.8 L1236.7,858.7 L1237.4,856.7 L1238.2,854.6 L1239.0,852.6 L1239.8,850.5 L1240.6,848.5 L1241.4,846.5 L1242.2,844.4 L1243.0,842.4 L1243.8,840.4 L1244.7,838.4 L1245.5,836.4 L1246.4,834.4 L1247.3,832.4 L1248.2,830.4 L1249.1,828.5 L1250.0,826.5 L1250.9,824.5 L1251.9,822.5 L1252.8,820.6 L1253.8,818.6 L1254.8,816.6 L1255.8,814.7 L1256.8,812.7 L1257.8,810.7 L1258.9,808.8 L1259.9,806.8 L1261.0,804.8 L1262.0,802.9 L1263.1,800.9 L1264.2,798.9 L1265.3,797.0 L1266.5,795.0 L1267.6,793.0 L1268.8,791.0 L1269.9,789.0 L1271.1,787.0 L1272.3,785.0 L1273.5,783.0 L1274.8,781.0 L1276.0,779.0 L1277.3,777.0 L1278.6,775.0 L1279.9,773.0 L1281.2,771.0 L1282.5,769.0 L1283.8,767.0 L1285.2,765.1 L1286.6,763.2 L1288.0,761.3 L1289.5,759.5 L1290.9,757.8 L1292.4,756.1 L1293.9,754.4 L1295.5,752.8 L1297.1,751.3 L1298.7,749.9 L1300.3,748.6 L1302.0,747.3 L1303.7,746.2 L1305.4,745.1 L1307.1,744.2 L1308.9,743.4 L1310.8,742.7 L1312.6,742.1 L1314.6,741.6 L1316.5,741.3 L1318.5,741.1 L1320.5,741.1 L1322.5,741.2 L1324.5,741.4 L1326.6,741.7 L1328.6,742.2 L1330.7,742.8 L1332.7,743.5 L1334.7,744.3 L1336.6,745.3 L1338.5,746.3 L1340.4,747.5 L1342.2,748.7 L1344.0,750.1 L1345.8,751.5 L1347.5,753.1 L1349.1,754.7 L1350.8,756.4 L1352.3,758.1 L1353.9,759.9 L1355.4,761.7 L1356.8,763.6 L1358.3,765.6 L1359.6,767.5 L1361.0,769.5 L1362.3,771.5 L1363.5,773.5 L1364.8,775.5 L1366.0,777.5 L1367.1,779.6 L1368.2,781.6 L1369.3,783.6 L1370.4,785.6 L1371.4,787.7 L1372.4,789.7 L1373.4,791.7 L1374.3,793.8 L1375.3,795.8 L1376.2,797.9 L1377.0,799.9 L1377.9,802.0 L1378.8,804.0 L1379.6,806.1 L1380.4,808.1 L1381.2,810.2 L1382.0,812.3 L1382.8,814.3 L1383.5,816.4 L1384.3,818.5 L1385.1,820.5 L1385.8,822.6 L1386.6,824.7 L1387.3,826.8 L1388.0,828.8 L1388.8,830.9 L1389.5,833.0 L1390.2,835.1 L1391.0,837.2 L1391.7,839.3 L1392.4,841.3 L1393.1,843.4 L1393.8,845.5 L1394.5,847.6 L1395.3,849.7 L1396.0,851.8 L1396.7,853.9 L1397.4,856.0 L1398.0,858.1 L1398.7,860.2 L1399.4,862.3 L1400.1,864.4 L1400.8,866.5 L1401.5,868.6 L1402.2,870.8 L1402.8,872.9 L1403.5,875.0 L1404.2,877.1 L1404.8,879.2 L1405.5,881.3 L1406.2,883.4 L1406.8,885.6 L1407.5,887.7 L1408.1,889.8 L1408.8,891.9 L1409.4,894.1 L1410.1,896.2 L1410.7,898.3 L1411.4,900.4 L1412.0,902.6 L1412.6,904.7 L1413.3,906.8 L1413.9,909.0 L1414.5,911.1 L1415.2,913.2 L1415.8,915.4 L1416.4,917.5 L1417.1,919.6 L1417.7,921.8 L1418.3,923.9 L1418.9,926.0 L1419.5,928.2 L1420.2,930.3 L1420.8,932.5 L1421.4,934.6 L1422.0,936.7 L1422.6,938.9 L1423.2,941.0 L1423.8,943.2 L1424.4,945.3 L1425.0,947.5 L1425.7,949.6 L1426.3,951.7 L1426.9,953.9 L1427.5,956.0 L1428.1,958.2 L1428.7,960.3 L1429.2,962.5 L1429.8,964.6 L1430.4,966.8 L1431.0,968.9 L1431.6,971.1 L1432.2,973.2 L1432.8,975.4 L1433.4,977.5 L1434.0,979.7 L1434.6,981.8 L1435.1,984.0 L1435.7,986.2 L1436.3,988.3 L1436.9,990.5 L1437.5,992.6 L1438.1,994.8 L1438.6,996.9 L1439.2,999.1 L1439.8,1001.2 L1440.4,1003.4 L1440.9,1005.5 L1441.5,1007.7 L1442.1,1009.9 L1442.7,1012.0 L1443.2,1014.2 L1443.8,1016.3 L1444.4,1018.5 L1445.0,1020.6 L1445.5,1022.8 L1446.1,1024.9 L1446.7,1027.1 L1447.2,1029.3 L1447.8,1031.4 L1448.4,1033.6 L1448.9,1035.7 L1449.5,1037.9 L1450.1,1040.0 L1450.6,1042.2 L1451.2,1044.3 L1451.8,1046.5 L1452.3,1048.7 L1452.9,1050.8 L1453.5,1053.0 L1454.0,1055.1 L1454.6,1057.3 L1455.1,1059.4 L1455.7,1061.6 L1456.3,1063.7 L1456.8,1065.9 L1457.4,1068.0 L1457.9,1070.2 L1458.5,1072.3 L1459.1,1074.5 L1459.6,1076.6 L1460.2,1078.8 L1460.8,1080.9 L1461.3,1083.1 L1461.9,1085.2 L1462.4,1087.4 L1463.0,1089.5 L1463.6,1091.7 L1464.1,1093.8 L1464.7,1096.0 L1465.2,1098.1 L1465.8,1100.3 L1466.4,1102.4 L1466.9,1104.6 L1467.5,1106.7 L1468.0,1108.9 L1468.6,1111.0 L1469.2,1113.1 L1469.7,1115.3 L1470.3,1117.4 L1470.9,1119.6 L1471.4,1121.7 L1472.0,1123.8 L1472.5,1126.0 L1473.1,1128.1 L1473.7,1130.3 L1474.2,1132.4 L1474.8,1134.5 L1475.4,1136.7 L1475.9,1138.8 L1476.5,1140.9 L1477.0,1143.1 L1477.6,1145.2 L1478.2,1147.4 L1478.7,1149.5 L1479.3,1151.6 L1479.9,1153.8 L1480.4,1155.9 L1481.0,1158.0 L1481.5,1160.2 L1482.1,1162.3 L1482.7,1164.5 L1483.2,1166.6 L1483.8,1168.7 L1484.4,1170.9 L1484.9,1173.0 L1485.5,1175.1 L1486.0,1177.3 L1486.6,1179.4 L1487.2,1181.6 L1487.7,1183.7 L1488.3,1185.8 L1488.9,1188.0 L1489.4,1190.1 L1490.0,1192.3 L1490.5,1194.4 L1491.1,1196.5 L1491.7,1198.7 L1492.2,1200.8 L1492.8,1203.0 L1493.3,1205.1 L1493.9,1207.3 L1494.4,1209.4 L1495.0,1211.6 L1495.6,1213.7 L1496.1,1215.9 L1496.7,1218.0 L1497.2,1220.2 L1497.8,1222.3 L1498.3,1224.5 L1498.9,1226.6 L1499.5,1228.8 L1500.0,1230.9 L1500.6,1233.1 L1501.1,1235.2 L1501.7,1237.4 L1502.2,1239.6 L1502.8,1241.7 L1503.3,1243.9 L1503.9,1246.1 L1504.4,1248.2 L1505.0,1250.4 L1505.5,1252.5 L1506.1,1254.7 L1506.6,1256.9 L1507.2,1259.0 L1507.7,1261.2 L1508.3,1263.4 L1508.9,1265.5 L1509.4,1267.7 L1510.0,1269.9 L1510.5,1272.1 L1511.1,1274.2 L1511.6,1276.4 L1512.2,1278.6 L1512.8,1280.7 L1513.3,1282.9 L1513.9,1285.1 L1514.5,1287.2 L1515.0,1289.4 L1515.6,1291.6 L1516.2,1293.7 L1516.7,1295.9 L1517.3,1298.1 L1517.9,1300.2 L1518.5,1302.4 L1519.0,1304.6 L1519.6,1306.7 L1520.2,1308.9 L1520.8,1311.1 L1521.4,1313.2 L1522.0,1315.4 L1522.6,1317.5 L1523.2,1319.7 L1523.8,1321.8 L1524.4,1324.0 L1525.0,1326.2 L1525.6,1328.3 L1526.2,1330.5 L1526.9,1332.6 L1527.5,1334.7 L1528.1,1336.9 L1528.8,1339.0 L1529.4,1341.2 L1530.0,1343.3 L1530.7,1345.5 L1531.3,1347.6 L1532.0,1349.7 L1532.6,1351.8 L1533.3,1354.0 L1534.0,1356.1 L1534.6,1358.2 L1535.3,1360.3 L1536.0,1362.5 L1536.7,1364.6 L1537.4,1366.7 L1538.1,1368.8 L1538.8,1370.9 L1539.5,1373.0 L1540.2,1375.1 L1540.9,1377.2 L1541.6,1379.3 L1542.4,1381.4 L1543.1,1383.5 L1543.8,1385.6 L1544.6,1387.7 L1545.3,1389.7 L1546.1,1391.8 L1546.8,1393.9 L1547.6,1396.0 L1548.4,1398.0 L1549.2,1400.1 L1550.0,1402.2 L1550.8,1404.2 L1551.6,1406.3 L1552.4,1408.3 L1553.2,1410.4 L1554.0,1412.4 L1554.8,1414.5 L1555.6,1416.5 L1556.5,1418.5 L1557.3,1420.6 L1558.2,1422.6 L1559.0,1424.6 L1559.9,1426.7 L1560.7,1428.7 L1561.6,1430.7 L1562.5,1432.7 L1563.3,1434.8 L1564.2,1436.8 L1565.1,1438.8 L1566.0,1440.8 L1566.9,1442.8 L1567.8,1444.8 L1568.7,1446.8 L1569.6,1448.8 L1570.6,1450.8 L1571.5,1452.8 L1572.4,1454.8 L1573.4,1456.8 L1574.3,1458.8 L1575.2,1460.8 L1576.2,1462.8 L1577.1,1464.8 L1578.1,1466.8 L1579.1,1468.8 L1580.0,1470.8 L1581.0,1472.8 L1582.0,1474.7 L1583.0,1476.7 L1584.0,1478.7 L1585.0,1480.7 L1586.0,1482.7 L1587.0,1484.7 L1588.0,1486.6 L1589.0,1488.6 L1590.0,1490.6 L1591.0,1492.6 L1592.1,1494.5 L1593.1,1496.5 L1594.1,1498.5 L1595.2,1500.4 L1596.2,1502.4 L1597.3,1504.4 L1598.3,1506.4 L1599.4,1508.3 L1600.4,1510.3 L1601.5,1512.3 L1602.6,1514.2 L1603.7,1516.2 L1604.7,1518.2 L1605.8,1520.1 L1606.9,1522.1 L1608.0,1524.1 L1609.1,1526.0 L1610.2,1528.0 L1611.3,1530.0 L1612.4,1531.9 L1613.5,1533.9 L1614.7,1535.9 L1615.8,1537.8 L1616.9,1539.8 L1618.0,1541.8 L1619.2,1543.7 L1620.3,1545.7 L1621.4,1547.7 L1622.6,1549.6 L1623.7,1551.6 L1624.9,1553.6 L1626.1,1555.5 L1627.2,1557.5 L1628.4,1559.4 L1629.6,1561.4 L1630.8,1563.3 L1631.9,1565.3 L1633.1,1567.2 L1634.3,1569.2 L1635.6,1571.1 L1636.8,1573.0 L1638.0,1574.9 L1639.2,1576.8 L1640.5,1578.7 L1641.7,1580.6 L1643.0,1582.5 L1644.3,1584.4 L1645.5,1586.3 L1646.8,1588.1 L1648.1,1590.0 L1649.4,1591.8 L1650.8,1593.6 L1652.1,1595.4 L1653.4,1597.2 L1654.8,1599.0 L1656.2,1600.7 L1657.5,1602.5 L1658.9,1604.2 L1660.3,1605.9 L1661.7,1607.6 L1663.2,1609.3 L1664.6,1611.0 L1666.1,1612.6 L1667.5,1614.3 L1669.0,1615.9 L1670.5,1617.5 L1672.0,1619.0 L1673.6,1620.6 L1675.1,1622.1 L1676.7,1623.6 L1678.2,1625.1 L1679.8,1626.6 L1681.4,1628.0 L1683.1,1629.4 L1684.7,1630.8 L1686.4,1632.2 L1688.0,1633.6 L1689.7,1634.9 L1691.4,1636.2 L1693.2,1637.4 L1694.9,1638.7 L1696.7,1639.9 L1698.5,1641.1 L1700.3,1642.2 L1702.1,1643.3 L1704.0,1644.4 L1705.8,1645.5 L1707.7,1646.5 L1709.6,1647.5 L1711.6,1648.5 L1713.5,1649.4 L1715.5,1650.3 L1717.5,1651.2 L1719.5,1652.0 L1721.5,1652.9 L1723.6,1653.6 L1725.7,1654.4 L1727.8,1655.1 L1729.9,1655.8 L1732.0,1656.4 L1734.1,1657.1 L1736.3,1657.7 L1738.4,1658.3 L1740.6,1658.9 L1742.8,1659.4 L1745.0,1659.9 L1747.2,1660.4 L1749.5,1660.9 L1751.7,1661.4 L1753.9,1661.8 L1756.2,1662.2 L1758.4,1662.7 L1760.7,1663.1 L1763.0,1663.4 L1765.2,1663.8 L1767.5,1664.2 L1769.8,1664.5 L1772.1,1664.9 L1774.3,1665.2 L1776.6,1665.5 L1778.9,1665.8 L1781.2,1666.1 L1783.4,1666.4 L1785.7,1666.7 L1788.0,1667.0 L1790.2,1667.3 L1792.5,1667.6 L1794.7,1667.8 L1797.0,1668.1 L1799.2,1668.4 L1801.5,1668.7 L1803.7,1668.9 L1806.0,1669.2 L1808.2,1669.4 L1810.4,1669.7 L1812.6,1669.9 L1814.9,1670.2 L1817.1,1670.4 L1819.3,1670.7 L1821.5,1670.9 L1823.7,1671.1 L1825.9,1671.3 L1828.2,1671.6 L1830.4,1671.8 L1832.6,1672.0 L1834.8,1672.2 L1837.0,1672.4 L1839.2,1672.7 L1841.4,1672.9 L1843.6,1673.1 L1845.8,1673.3 L1848.0,1673.5 L1850.2,1673.7 L1852.3,1673.9 L1854.5,1674.1 L1856.7,1674.2 L1858.9,1674.4 L1861.1,1674.6 L1863.3,1674.8 L1865.5,1675.0 L1867.7,1675.2 L1869.9,1675.3 L1872.1,1675.5 L1874.3,1675.7 L1876.4,1675.9 L1878.6,1676.0 L1880.8,1676.2 L1883.0,1676.4 L1885.2,1676.5 L1887.4,1676.7 L1889.6,1676.9 L1891.8,1677.0 L1894.0,1677.2 L1896.2,1677.4 L1898.4,1677.5 L1900.6,1677.7 L1902.8,1677.8 L1905.0,1678.0 L1907.2,1678.1 L1909.4,1678.3 L1911.6,1678.4 L1913.8,1678.6 L1916.0,1678.7 L1918.2,1678.9 L1920.4,1679.0 L1922.6,1679.1 L1924.8,1679.3 L1927.0,1679.4 L1929.2,1679.6 L1931.5,1679.7 L1933.7,1679.8 L1935.9,1680.0 L1938.1,1680.1 L1940.3,1680.2 L1942.5,1680.4 L1944.7,1680.5 L1946.9,1680.6 L1949.2,1680.7 L1951.4,1680.9 L1953.6,1681.0 L1955.8,1681.1 L1958.0,1681.2 L1960.2,1681.3 L1962.5,1681.5 L1964.7,1681.6 L1966.9,1681.7 L1969.1,1681.8 L1971.3,1681.9 L1973.6,1682.0 L1975.8,1682.1 L1978.0,1682.3 L1980.2,1682.4 L1982.5,1682.5 L1984.7,1682.6 L1986.9,1682.7 L1989.1,1682.8 L1991.4,1682.9 L1993.6,1683.0 L1995.8,1683.1 L1998.0,1683.2 L2000.3,1683.3 L2002.5,1683.4 L2004.7,1683.5 L2007.0,1683.6 L2009.2,1683.6 L2011.4,1683.7 L2013.6,1683.8 L2015.9,1683.9 L2018.1,1684.0 L2020.3,1684.1 L2022.6,1684.2 L2024.8,1684.3 L2027.0,1684.3 L2029.3,1684.4 L2031.5,1684.5 L2033.7,1684.6 L2036.0,1684.7 L2038.2,1684.7 L2040.4,1684.8 L2042.7,1684.9 L2044.9,1685.0 L2047.2,1685.0 L2049.4,1685.1 L2051.6,1685.2 L2053.9,1685.2 L2056.1,1685.3 L2058.3,1685.4 L2060.6,1685.4 L2062.8,1685.5 L2065.1,1685.6 L2067.3,1685.6 L2069.5,1685.7 L2071.8,1685.8 L2074.0,1685.8 L2076.2,1685.9 L2078.5,1685.9 L2080.7,1686.0 L2083.0,1686.0 L2085.2,1686.1 L2087.4,1686.2 L2089.7,1686.2 L2091.9,1686.3 L2094.2,1686.3 L2096.4,1686.4 L2098.6,1686.4 L2100.9,1686.5 L2103.1,1686.5 L2105.4,1686.5 L2107.6,1686.6 L2109.8,1686.6 L2112.1,1686.7 L2114.3,1686.7 L2116.6,1686.8 L2118.8,1686.8 L2121.1,1686.8 L2123.3,1686.9 L2125.5,1686.9 L2127.8,1687.0 L2130.0,1687.0 L2132.3,1687.0 L2134.5,1687.1 L2136.7,1687.1 L2139.0,1687.1 L2141.2,1687.2 L2143.5,1687.2 L2145.7,1687.2 L2147.9,1687.2 L2150.2,1687.3 L2152.4,1687.3 L2154.7,1687.3 L2156.9,1687.3 L2159.1,1687.4 L2161.4,1687.4 L2163.6,1687.4 L2165.9,1687.4 L2168.1,1687.5 L2170.3,1687.5 L2172.6,1687.5 L2174.8,1687.5 L2177.0,1687.5 L2179.3,1687.5 L2181.5,1687.6 L2183.8,1687.6 L2186.0,1687.6 L2188.2,1687.6 L2190.5,1687.6 L2192.7,1687.6 L2194.9,1687.6 L2197.2,1687.6 L2199.4,1687.7 L2201.6,1687.7 L2203.9,1687.7 L2206.1,1687.7 L2208.4,1687.7 L2210.6,1687.7 L2212.8,1687.7 L2215.1,1687.7 L2217.3,1687.7 L2219.5,1687.7 L2221.7,1687.7 L2224.0,1687.7 L2226.2,1687.7 L2228.4,1687.7 L2230.7,1687.7 L2232.9,1687.7 L2235.1,1687.7 L2237.4,1687.7 L2239.6,1687.7 L2241.8,1687.7 L2244.0,1687.7 L2246.3,1687.7 L2248.5,1687.7 L2250.7,1687.7 L2253.0,1687.7 L2255.2,1687.7 L2257.4,1687.6 L2259.6,1687.6 L2261.9,1687.6 L2264.1,1687.6 L2266.3,1687.6 L2268.5,1687.6 L2270.7,1687.6 L2273.0,1687.6 L2275.2,1687.6 L2277.4,1687.5 L2279.6,1687.5 L2281.8,1687.5 L2284.1,1687.5 L2286.3,1687.5 L2288.5,1687.5 L2290.7,1687.4 L2292.9,1687.4 L2295.1,1687.4 L2297.4,1687.4 L2299.6,1687.4 L2301.8,1687.3 L2304.0,1687.3 L2306.2,1687.3 L2308.4,1687.3 L2310.6,1687.3 L2312.8,1687.2 L2315.0,1687.2 L2317.2,1687.2 L2319.5,1687.2 L2321.7,1687.1 L2323.9,1687.1 L2326.1,1687.1 L2328.3,1687.1 L2330.5,1687.0 L2332.7,1687.0 L2334.9,1687.0 L2337.1,1686.9 L2339.3,1686.9 L2341.5,1686.9 L2343.7,1686.9 L2345.9,1686.8 L2348.1,1686.8 L2350.3,1686.8 L2352.5,1686.7 L2354.7,1686.7 L2356.9,1686.7 L2359.0,1686.6 L2361.2,1686.6 L2363.4,1686.6 L2365.6,1686.5 L2367.8,1686.5 L2370.0,1686.5" fill="none" stroke="#ff0000" stroke-width="7" stroke-linejoin="round"/>
<polygon points="339.2,1544.0 381.8,1544.0 360.5,1582.0" fill="#ff0000"/>
<polygon points="439.8,1389.3 482.2,1389.3 461.0,1427.3" fill="#ff0000"/>
<polygon points="538.5,1264.8 581.0,1264.8 559.8,1302.8" fill="#ff0000"/>
<polygon points="640.8,1177.4 683.2,1177.4 662.0,1215.4" fill="#ff0000"/>
<polygon points="740.2,1348.8 782.8,1348.8 761.5,1386.8" fill="#ff0000"/>
<polygon points="841.2,1435.8 883.8,1435.8 862.5,1473.8" fill="#ff0000"/>
<polygon points="942.5,1452.5 985.0,1452.5 963.8,1490.5" fill="#ff0000"/>
<polygon points="1043.5,1402.9 1086.0,1402.9 1064.7,1440.9" fill="#ff0000"/>
<polygon points="1142.7,1114.7 1185.2,1114.7 1163.9,1152.7" fill="#ff0000"/>
<polygon points="1243.0,727.3 1285.5,727.3 1264.3,765.3" fill="#ff0000"/>
<polygon points="1343.0,697.5 1385.5,697.5 1364.3,735.5" fill="#ff0000"/>
<polygon points="1443.2,1078.8 1485.8,1078.8 1464.5,1116.8" fill="#ff0000"/>
<polygon points="1543.5,1453.6 1586.0,1453.6 1564.8,1491.6" fill="#ff0000"/>
<polygon points="1644.8,1622.4 1687.3,1622.4 1666.1,1660.4" fill="#ff0000"/>
<polygon points="1744.7,1654.0 1787.2,1654.0 1765.9,1692.0" fill="#ff0000"/>
<polygon points="1845.7,1658.8 1888.2,1658.8 1866.9,1696.8" fill="#ff0000"/>
<polygon points="1945.7,1669.0 1988.2,1669.0 1966.9,1707.0" fill="#ff0000"/>
<polygon points="2046.1,1670.0 2088.6,1670.0 2067.3,1708.0" fill="#ff0000"/>
<polygon points="2146.4,1670.5 2188.9,1670.5 2167.7,1708.5" fill="#ff0000"/>
<polygon points="2246.8,1670.5 2289.3,1670.5 2268.1,1708.5" fill="#ff0000"/>
<polygon points="2347.2,1670.5 2389.8,1670.5 2368.5,1708.5" fill="#ff0000"/>
</g>
<line x1="383" y1="123.0" x2="535" y2="123.0" stroke="#000000" stroke-width="7"/>
<rect x="444.05" y="108.25" width="29.5" height="29.5" fill="#fff" stroke="#484848" stroke-width="3.0"/>
<text x="548" y="143.0" font-family="Liberation Serif, Times New Roman, serif" font-size="65" fill="#000">Co,Ce-PN-BenchSoot</text>
<line x1="383" y1="203.8" x2="535" y2="203.8" stroke="#000000" stroke-width="7"/>
<rect x="442.8" y="187.8" width="32.0" height="32.0" fill="#000"/>
<text x="548" y="223.8" font-family="Liberation Serif, Times New Roman, serif" font-size="65" fill="#000">Co,Ba,K-PN-BenchSoot</text>
<line x1="383" y1="284.6" x2="535" y2="284.6" stroke="#0000ff" stroke-width="7"/>
<circle cx="458.8" cy="284.6" r="16.60" fill="#fff" stroke="#3a3aff" stroke-width="2.8"/>
<text x="548" y="304.6" font-family="Liberation Serif, Times New Roman, serif" font-size="65" fill="#000">Co,Ce-PN-LabSoot</text>
<line x1="383" y1="365.4" x2="535" y2="365.4" stroke="#0000ff" stroke-width="7"/>
<circle cx="458.8" cy="365.4" r="18.0" fill="#0000ff"/>
<text x="548" y="385.4" font-family="Liberation Serif, Times New Roman, serif" font-size="65" fill="#000">Co,Ba,K-PN-LabSoot</text>
<line x1="383" y1="446.2" x2="535" y2="446.2" stroke="#ff0000" stroke-width="7"/>
<polygon points="441.2,433.9 476.4,433.9 458.8,467.8" fill="#fff" stroke="#ff3a3a" stroke-width="2.4" stroke-linejoin="miter"/>
<text x="548" y="466.2" font-family="Liberation Serif, Times New Roman, serif" font-size="65" fill="#000">Co,Ce-PN-PrintexU</text>
<line x1="383" y1="527.0" x2="535" y2="527.0" stroke="#ff0000" stroke-width="7"/>
<polygon points="437.6,513.5 480.1,513.5 458.8,551.5" fill="#ff0000"/>
<text x="548" y="547.0" font-family="Liberation Serif, Times New Roman, serif" font-size="65" fill="#000">Co,Ba,K-PN-PrintexU</text>
<g font-family="Liberation Serif, Times New Roman, serif" font-size="71" font-weight="bold">
<text x="1311.5" y="378.5" text-anchor="middle" fill="#0000ff">390°C</text>
<text x="1787" y="378" text-anchor="middle" fill="#0000ff">480°C</text>
<text x="1523" y="628.5" text-anchor="middle" fill="#ff0000">425°C</text>
<text x="1733" y="878" text-anchor="middle" fill="#000">460°C</text>
</g>
</svg>
</body></html>
